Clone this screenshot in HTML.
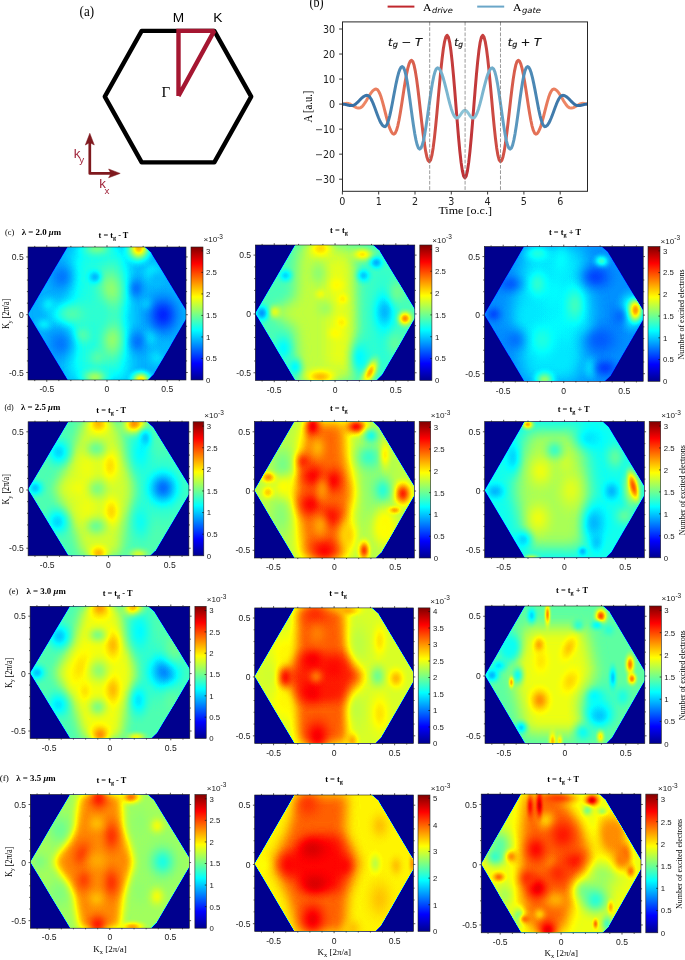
<!DOCTYPE html>
<html><head><meta charset="utf-8"><title>figure</title>
<style>html,body{margin:0;padding:0;background:#fff}svg{display:block}</style></head>
<body><svg width="685" height="960" viewBox="0 0 685 960">
<defs>
<filter id="jet" x="0" y="0" width="1" height="1" color-interpolation-filters="sRGB">
<feGaussianBlur stdDeviation="0.45"/>
<feComponentTransfer>
<feFuncR type="table" tableValues="0 0 0 0 0.5 1 1 1 0.5"/>
<feFuncG type="table" tableValues="0 0 0.5 1 1 1 0.5 0 0"/>
<feFuncB type="table" tableValues="0.56 1 1 1 0.5 0 0 0 0"/>
<feFuncA type="table" tableValues="1 1"/>
</feComponentTransfer>
</filter>
<linearGradient id="cb" x1="0" y1="1" x2="0" y2="0">
<stop offset="0" stop-color="#00008f"/><stop offset="0.125" stop-color="#0000ff"/><stop offset="0.375" stop-color="#00ffff"/>
<stop offset="0.625" stop-color="#ffff00"/><stop offset="0.875" stop-color="#ff0000"/><stop offset="1" stop-color="#800000"/>
</linearGradient>
<clipPath id="cpb"><rect x="342.5" y="21.9" width="245" height="169.4"/></clipPath>
<linearGradient id="gd" gradientUnits="userSpaceOnUse" x1="342.5" y1="0" x2="587.5" y2="0"><stop offset="0" stop-color="#f4956f"/><stop offset="0.2" stop-color="#e57458"/><stop offset="0.36" stop-color="#cf4f45"/><stop offset="0.5" stop-color="#bd3036"/><stop offset="0.64" stop-color="#cf4f45"/><stop offset="0.8" stop-color="#e57458"/><stop offset="1" stop-color="#f4956f"/></linearGradient>
<linearGradient id="gg" gradientUnits="userSpaceOnUse" x1="342.5" y1="0" x2="587.5" y2="0"><stop offset="0" stop-color="#32699f"/><stop offset="0.2" stop-color="#4783b1"/><stop offset="0.36" stop-color="#69a6c7"/><stop offset="0.5" stop-color="#8fc6d8"/><stop offset="0.64" stop-color="#69a6c7"/><stop offset="0.8" stop-color="#4783b1"/><stop offset="1" stop-color="#32699f"/></linearGradient>
<clipPath id="hxc1"><polygon points="28,314.03 67.58,246.73 144.45,246.73 150.77,252.19 188.69,314.5 153.61,374.41 147.92,380 67.66,380"/></clipPath>
<clipPath id="pnc1"><rect x="28" y="247" width="158" height="133"/></clipPath>
<filter id="b80" x="-60%" y="-60%" width="220%" height="220%" color-interpolation-filters="sRGB"><feGaussianBlur stdDeviation="8"/></filter>
<radialGradient id="r91"><stop offset="0" stop-color="#5b5b5b" stop-opacity="1"/><stop offset="0.1" stop-color="#5b5b5b" stop-opacity="0.966"/><stop offset="0.2" stop-color="#5b5b5b" stop-opacity="0.87"/><stop offset="0.3" stop-color="#5b5b5b" stop-opacity="0.73"/><stop offset="0.4" stop-color="#5b5b5b" stop-opacity="0.57"/><stop offset="0.5" stop-color="#5b5b5b" stop-opacity="0.412"/><stop offset="0.6" stop-color="#5b5b5b" stop-opacity="0.274"/><stop offset="0.7" stop-color="#5b5b5b" stop-opacity="0.164"/><stop offset="0.8" stop-color="#5b5b5b" stop-opacity="0.085"/><stop offset="0.9" stop-color="#5b5b5b" stop-opacity="0.032"/><stop offset="1" stop-color="#5b5b5b" stop-opacity="0"/></radialGradient>
<radialGradient id="r87"><stop offset="0" stop-color="#575757" stop-opacity="1"/><stop offset="0.1" stop-color="#575757" stop-opacity="0.966"/><stop offset="0.2" stop-color="#575757" stop-opacity="0.87"/><stop offset="0.3" stop-color="#575757" stop-opacity="0.73"/><stop offset="0.4" stop-color="#575757" stop-opacity="0.57"/><stop offset="0.5" stop-color="#575757" stop-opacity="0.412"/><stop offset="0.6" stop-color="#575757" stop-opacity="0.274"/><stop offset="0.7" stop-color="#575757" stop-opacity="0.164"/><stop offset="0.8" stop-color="#575757" stop-opacity="0.085"/><stop offset="0.9" stop-color="#575757" stop-opacity="0.032"/><stop offset="1" stop-color="#575757" stop-opacity="0"/></radialGradient>
<radialGradient id="r116"><stop offset="0" stop-color="#747474" stop-opacity="1"/><stop offset="0.1" stop-color="#747474" stop-opacity="0.966"/><stop offset="0.2" stop-color="#747474" stop-opacity="0.87"/><stop offset="0.3" stop-color="#747474" stop-opacity="0.73"/><stop offset="0.4" stop-color="#747474" stop-opacity="0.57"/><stop offset="0.5" stop-color="#747474" stop-opacity="0.412"/><stop offset="0.6" stop-color="#747474" stop-opacity="0.274"/><stop offset="0.7" stop-color="#747474" stop-opacity="0.164"/><stop offset="0.8" stop-color="#747474" stop-opacity="0.085"/><stop offset="0.9" stop-color="#747474" stop-opacity="0.032"/><stop offset="1" stop-color="#747474" stop-opacity="0"/></radialGradient>
<radialGradient id="r132"><stop offset="0" stop-color="#848484" stop-opacity="1"/><stop offset="0.1" stop-color="#848484" stop-opacity="0.966"/><stop offset="0.2" stop-color="#848484" stop-opacity="0.87"/><stop offset="0.3" stop-color="#848484" stop-opacity="0.73"/><stop offset="0.4" stop-color="#848484" stop-opacity="0.57"/><stop offset="0.5" stop-color="#848484" stop-opacity="0.412"/><stop offset="0.6" stop-color="#848484" stop-opacity="0.274"/><stop offset="0.7" stop-color="#848484" stop-opacity="0.164"/><stop offset="0.8" stop-color="#848484" stop-opacity="0.085"/><stop offset="0.9" stop-color="#848484" stop-opacity="0.032"/><stop offset="1" stop-color="#848484" stop-opacity="0"/></radialGradient>
<radialGradient id="r107"><stop offset="0" stop-color="#6b6b6b" stop-opacity="1"/><stop offset="0.1" stop-color="#6b6b6b" stop-opacity="0.966"/><stop offset="0.2" stop-color="#6b6b6b" stop-opacity="0.87"/><stop offset="0.3" stop-color="#6b6b6b" stop-opacity="0.73"/><stop offset="0.4" stop-color="#6b6b6b" stop-opacity="0.57"/><stop offset="0.5" stop-color="#6b6b6b" stop-opacity="0.412"/><stop offset="0.6" stop-color="#6b6b6b" stop-opacity="0.274"/><stop offset="0.7" stop-color="#6b6b6b" stop-opacity="0.164"/><stop offset="0.8" stop-color="#6b6b6b" stop-opacity="0.085"/><stop offset="0.9" stop-color="#6b6b6b" stop-opacity="0.032"/><stop offset="1" stop-color="#6b6b6b" stop-opacity="0"/></radialGradient>
<radialGradient id="r177"><stop offset="0" stop-color="#b1b1b1" stop-opacity="1"/><stop offset="0.1" stop-color="#b1b1b1" stop-opacity="0.966"/><stop offset="0.2" stop-color="#b1b1b1" stop-opacity="0.87"/><stop offset="0.3" stop-color="#b1b1b1" stop-opacity="0.73"/><stop offset="0.4" stop-color="#b1b1b1" stop-opacity="0.57"/><stop offset="0.5" stop-color="#b1b1b1" stop-opacity="0.412"/><stop offset="0.6" stop-color="#b1b1b1" stop-opacity="0.274"/><stop offset="0.7" stop-color="#b1b1b1" stop-opacity="0.164"/><stop offset="0.8" stop-color="#b1b1b1" stop-opacity="0.085"/><stop offset="0.9" stop-color="#b1b1b1" stop-opacity="0.032"/><stop offset="1" stop-color="#b1b1b1" stop-opacity="0"/></radialGradient>
<radialGradient id="r165"><stop offset="0" stop-color="#a5a5a5" stop-opacity="1"/><stop offset="0.1" stop-color="#a5a5a5" stop-opacity="0.966"/><stop offset="0.2" stop-color="#a5a5a5" stop-opacity="0.87"/><stop offset="0.3" stop-color="#a5a5a5" stop-opacity="0.73"/><stop offset="0.4" stop-color="#a5a5a5" stop-opacity="0.57"/><stop offset="0.5" stop-color="#a5a5a5" stop-opacity="0.412"/><stop offset="0.6" stop-color="#a5a5a5" stop-opacity="0.274"/><stop offset="0.7" stop-color="#a5a5a5" stop-opacity="0.164"/><stop offset="0.8" stop-color="#a5a5a5" stop-opacity="0.085"/><stop offset="0.9" stop-color="#a5a5a5" stop-opacity="0.032"/><stop offset="1" stop-color="#a5a5a5" stop-opacity="0"/></radialGradient>
<radialGradient id="r136"><stop offset="0" stop-color="#888888" stop-opacity="1"/><stop offset="0.1" stop-color="#888888" stop-opacity="0.966"/><stop offset="0.2" stop-color="#888888" stop-opacity="0.87"/><stop offset="0.3" stop-color="#888888" stop-opacity="0.73"/><stop offset="0.4" stop-color="#888888" stop-opacity="0.57"/><stop offset="0.5" stop-color="#888888" stop-opacity="0.412"/><stop offset="0.6" stop-color="#888888" stop-opacity="0.274"/><stop offset="0.7" stop-color="#888888" stop-opacity="0.164"/><stop offset="0.8" stop-color="#888888" stop-opacity="0.085"/><stop offset="0.9" stop-color="#888888" stop-opacity="0.032"/><stop offset="1" stop-color="#888888" stop-opacity="0"/></radialGradient>
<radialGradient id="r124"><stop offset="0" stop-color="#7c7c7c" stop-opacity="1"/><stop offset="0.1" stop-color="#7c7c7c" stop-opacity="0.966"/><stop offset="0.2" stop-color="#7c7c7c" stop-opacity="0.87"/><stop offset="0.3" stop-color="#7c7c7c" stop-opacity="0.73"/><stop offset="0.4" stop-color="#7c7c7c" stop-opacity="0.57"/><stop offset="0.5" stop-color="#7c7c7c" stop-opacity="0.412"/><stop offset="0.6" stop-color="#7c7c7c" stop-opacity="0.274"/><stop offset="0.7" stop-color="#7c7c7c" stop-opacity="0.164"/><stop offset="0.8" stop-color="#7c7c7c" stop-opacity="0.085"/><stop offset="0.9" stop-color="#7c7c7c" stop-opacity="0.032"/><stop offset="1" stop-color="#7c7c7c" stop-opacity="0"/></radialGradient>
<radialGradient id="r41"><stop offset="0" stop-color="#292929" stop-opacity="1"/><stop offset="0.1" stop-color="#292929" stop-opacity="0.966"/><stop offset="0.2" stop-color="#292929" stop-opacity="0.87"/><stop offset="0.3" stop-color="#292929" stop-opacity="0.73"/><stop offset="0.4" stop-color="#292929" stop-opacity="0.57"/><stop offset="0.5" stop-color="#292929" stop-opacity="0.412"/><stop offset="0.6" stop-color="#292929" stop-opacity="0.274"/><stop offset="0.7" stop-color="#292929" stop-opacity="0.164"/><stop offset="0.8" stop-color="#292929" stop-opacity="0.085"/><stop offset="0.9" stop-color="#292929" stop-opacity="0.032"/><stop offset="1" stop-color="#292929" stop-opacity="0"/></radialGradient>
<radialGradient id="r62"><stop offset="0" stop-color="#3e3e3e" stop-opacity="1"/><stop offset="0.1" stop-color="#3e3e3e" stop-opacity="0.966"/><stop offset="0.2" stop-color="#3e3e3e" stop-opacity="0.87"/><stop offset="0.3" stop-color="#3e3e3e" stop-opacity="0.73"/><stop offset="0.4" stop-color="#3e3e3e" stop-opacity="0.57"/><stop offset="0.5" stop-color="#3e3e3e" stop-opacity="0.412"/><stop offset="0.6" stop-color="#3e3e3e" stop-opacity="0.274"/><stop offset="0.7" stop-color="#3e3e3e" stop-opacity="0.164"/><stop offset="0.8" stop-color="#3e3e3e" stop-opacity="0.085"/><stop offset="0.9" stop-color="#3e3e3e" stop-opacity="0.032"/><stop offset="1" stop-color="#3e3e3e" stop-opacity="0"/></radialGradient>
<radialGradient id="r61"><stop offset="0" stop-color="#3d3d3d" stop-opacity="1"/><stop offset="0.1" stop-color="#3d3d3d" stop-opacity="0.966"/><stop offset="0.2" stop-color="#3d3d3d" stop-opacity="0.87"/><stop offset="0.3" stop-color="#3d3d3d" stop-opacity="0.73"/><stop offset="0.4" stop-color="#3d3d3d" stop-opacity="0.57"/><stop offset="0.5" stop-color="#3d3d3d" stop-opacity="0.412"/><stop offset="0.6" stop-color="#3d3d3d" stop-opacity="0.274"/><stop offset="0.7" stop-color="#3d3d3d" stop-opacity="0.164"/><stop offset="0.8" stop-color="#3d3d3d" stop-opacity="0.085"/><stop offset="0.9" stop-color="#3d3d3d" stop-opacity="0.032"/><stop offset="1" stop-color="#3d3d3d" stop-opacity="0"/></radialGradient>
<radialGradient id="r78"><stop offset="0" stop-color="#4e4e4e" stop-opacity="1"/><stop offset="0.1" stop-color="#4e4e4e" stop-opacity="0.966"/><stop offset="0.2" stop-color="#4e4e4e" stop-opacity="0.87"/><stop offset="0.3" stop-color="#4e4e4e" stop-opacity="0.73"/><stop offset="0.4" stop-color="#4e4e4e" stop-opacity="0.57"/><stop offset="0.5" stop-color="#4e4e4e" stop-opacity="0.412"/><stop offset="0.6" stop-color="#4e4e4e" stop-opacity="0.274"/><stop offset="0.7" stop-color="#4e4e4e" stop-opacity="0.164"/><stop offset="0.8" stop-color="#4e4e4e" stop-opacity="0.085"/><stop offset="0.9" stop-color="#4e4e4e" stop-opacity="0.032"/><stop offset="1" stop-color="#4e4e4e" stop-opacity="0"/></radialGradient>
<clipPath id="hxc2"><polygon points="255.3,313.24 295.25,244.73 372.85,244.73 379.23,250.28 417.51,313.72 382.1,374.71 376.36,380.4 295.33,380.4"/></clipPath>
<clipPath id="pnc2"><rect x="255.3" y="245" width="159.5" height="135.4"/></clipPath>
<filter id="b65" x="-60%" y="-60%" width="220%" height="220%" color-interpolation-filters="sRGB"><feGaussianBlur stdDeviation="6.5"/></filter>
<filter id="b60" x="-60%" y="-60%" width="220%" height="220%" color-interpolation-filters="sRGB"><feGaussianBlur stdDeviation="6"/></filter>
<radialGradient id="r160"><stop offset="0" stop-color="#a0a0a0" stop-opacity="1"/><stop offset="0.1" stop-color="#a0a0a0" stop-opacity="0.966"/><stop offset="0.2" stop-color="#a0a0a0" stop-opacity="0.87"/><stop offset="0.3" stop-color="#a0a0a0" stop-opacity="0.73"/><stop offset="0.4" stop-color="#a0a0a0" stop-opacity="0.57"/><stop offset="0.5" stop-color="#a0a0a0" stop-opacity="0.412"/><stop offset="0.6" stop-color="#a0a0a0" stop-opacity="0.274"/><stop offset="0.7" stop-color="#a0a0a0" stop-opacity="0.164"/><stop offset="0.8" stop-color="#a0a0a0" stop-opacity="0.085"/><stop offset="0.9" stop-color="#a0a0a0" stop-opacity="0.032"/><stop offset="1" stop-color="#a0a0a0" stop-opacity="0"/></radialGradient>
<radialGradient id="r163"><stop offset="0" stop-color="#a3a3a3" stop-opacity="1"/><stop offset="0.1" stop-color="#a3a3a3" stop-opacity="0.966"/><stop offset="0.2" stop-color="#a3a3a3" stop-opacity="0.87"/><stop offset="0.3" stop-color="#a3a3a3" stop-opacity="0.73"/><stop offset="0.4" stop-color="#a3a3a3" stop-opacity="0.57"/><stop offset="0.5" stop-color="#a3a3a3" stop-opacity="0.412"/><stop offset="0.6" stop-color="#a3a3a3" stop-opacity="0.274"/><stop offset="0.7" stop-color="#a3a3a3" stop-opacity="0.164"/><stop offset="0.8" stop-color="#a3a3a3" stop-opacity="0.085"/><stop offset="0.9" stop-color="#a3a3a3" stop-opacity="0.032"/><stop offset="1" stop-color="#a3a3a3" stop-opacity="0"/></radialGradient>
<radialGradient id="r156"><stop offset="0" stop-color="#9c9c9c" stop-opacity="1"/><stop offset="0.1" stop-color="#9c9c9c" stop-opacity="0.966"/><stop offset="0.2" stop-color="#9c9c9c" stop-opacity="0.87"/><stop offset="0.3" stop-color="#9c9c9c" stop-opacity="0.73"/><stop offset="0.4" stop-color="#9c9c9c" stop-opacity="0.57"/><stop offset="0.5" stop-color="#9c9c9c" stop-opacity="0.412"/><stop offset="0.6" stop-color="#9c9c9c" stop-opacity="0.274"/><stop offset="0.7" stop-color="#9c9c9c" stop-opacity="0.164"/><stop offset="0.8" stop-color="#9c9c9c" stop-opacity="0.085"/><stop offset="0.9" stop-color="#9c9c9c" stop-opacity="0.032"/><stop offset="1" stop-color="#9c9c9c" stop-opacity="0"/></radialGradient>
<radialGradient id="r103"><stop offset="0" stop-color="#676767" stop-opacity="1"/><stop offset="0.1" stop-color="#676767" stop-opacity="0.966"/><stop offset="0.2" stop-color="#676767" stop-opacity="0.87"/><stop offset="0.3" stop-color="#676767" stop-opacity="0.73"/><stop offset="0.4" stop-color="#676767" stop-opacity="0.57"/><stop offset="0.5" stop-color="#676767" stop-opacity="0.412"/><stop offset="0.6" stop-color="#676767" stop-opacity="0.274"/><stop offset="0.7" stop-color="#676767" stop-opacity="0.164"/><stop offset="0.8" stop-color="#676767" stop-opacity="0.085"/><stop offset="0.9" stop-color="#676767" stop-opacity="0.032"/><stop offset="1" stop-color="#676767" stop-opacity="0"/></radialGradient>
<radialGradient id="r169"><stop offset="0" stop-color="#a9a9a9" stop-opacity="1"/><stop offset="0.1" stop-color="#a9a9a9" stop-opacity="0.966"/><stop offset="0.2" stop-color="#a9a9a9" stop-opacity="0.87"/><stop offset="0.3" stop-color="#a9a9a9" stop-opacity="0.73"/><stop offset="0.4" stop-color="#a9a9a9" stop-opacity="0.57"/><stop offset="0.5" stop-color="#a9a9a9" stop-opacity="0.412"/><stop offset="0.6" stop-color="#a9a9a9" stop-opacity="0.274"/><stop offset="0.7" stop-color="#a9a9a9" stop-opacity="0.164"/><stop offset="0.8" stop-color="#a9a9a9" stop-opacity="0.085"/><stop offset="0.9" stop-color="#a9a9a9" stop-opacity="0.032"/><stop offset="1" stop-color="#a9a9a9" stop-opacity="0"/></radialGradient>
<radialGradient id="r197"><stop offset="0" stop-color="#c5c5c5" stop-opacity="1"/><stop offset="0.1" stop-color="#c5c5c5" stop-opacity="0.966"/><stop offset="0.2" stop-color="#c5c5c5" stop-opacity="0.87"/><stop offset="0.3" stop-color="#c5c5c5" stop-opacity="0.73"/><stop offset="0.4" stop-color="#c5c5c5" stop-opacity="0.57"/><stop offset="0.5" stop-color="#c5c5c5" stop-opacity="0.412"/><stop offset="0.6" stop-color="#c5c5c5" stop-opacity="0.274"/><stop offset="0.7" stop-color="#c5c5c5" stop-opacity="0.164"/><stop offset="0.8" stop-color="#c5c5c5" stop-opacity="0.085"/><stop offset="0.9" stop-color="#c5c5c5" stop-opacity="0.032"/><stop offset="1" stop-color="#c5c5c5" stop-opacity="0"/></radialGradient>
<radialGradient id="r189"><stop offset="0" stop-color="#bdbdbd" stop-opacity="1"/><stop offset="0.1" stop-color="#bdbdbd" stop-opacity="0.966"/><stop offset="0.2" stop-color="#bdbdbd" stop-opacity="0.87"/><stop offset="0.3" stop-color="#bdbdbd" stop-opacity="0.73"/><stop offset="0.4" stop-color="#bdbdbd" stop-opacity="0.57"/><stop offset="0.5" stop-color="#bdbdbd" stop-opacity="0.412"/><stop offset="0.6" stop-color="#bdbdbd" stop-opacity="0.274"/><stop offset="0.7" stop-color="#bdbdbd" stop-opacity="0.164"/><stop offset="0.8" stop-color="#bdbdbd" stop-opacity="0.085"/><stop offset="0.9" stop-color="#bdbdbd" stop-opacity="0.032"/><stop offset="1" stop-color="#bdbdbd" stop-opacity="0"/></radialGradient>
<radialGradient id="r152"><stop offset="0" stop-color="#989898" stop-opacity="1"/><stop offset="0.1" stop-color="#989898" stop-opacity="0.966"/><stop offset="0.2" stop-color="#989898" stop-opacity="0.87"/><stop offset="0.3" stop-color="#989898" stop-opacity="0.73"/><stop offset="0.4" stop-color="#989898" stop-opacity="0.57"/><stop offset="0.5" stop-color="#989898" stop-opacity="0.412"/><stop offset="0.6" stop-color="#989898" stop-opacity="0.274"/><stop offset="0.7" stop-color="#989898" stop-opacity="0.164"/><stop offset="0.8" stop-color="#989898" stop-opacity="0.085"/><stop offset="0.9" stop-color="#989898" stop-opacity="0.032"/><stop offset="1" stop-color="#989898" stop-opacity="0"/></radialGradient>
<radialGradient id="r70"><stop offset="0" stop-color="#464646" stop-opacity="1"/><stop offset="0.1" stop-color="#464646" stop-opacity="0.966"/><stop offset="0.2" stop-color="#464646" stop-opacity="0.87"/><stop offset="0.3" stop-color="#464646" stop-opacity="0.73"/><stop offset="0.4" stop-color="#464646" stop-opacity="0.57"/><stop offset="0.5" stop-color="#464646" stop-opacity="0.412"/><stop offset="0.6" stop-color="#464646" stop-opacity="0.274"/><stop offset="0.7" stop-color="#464646" stop-opacity="0.164"/><stop offset="0.8" stop-color="#464646" stop-opacity="0.085"/><stop offset="0.9" stop-color="#464646" stop-opacity="0.032"/><stop offset="1" stop-color="#464646" stop-opacity="0"/></radialGradient>
<radialGradient id="r76"><stop offset="0" stop-color="#4c4c4c" stop-opacity="1"/><stop offset="0.1" stop-color="#4c4c4c" stop-opacity="0.966"/><stop offset="0.2" stop-color="#4c4c4c" stop-opacity="0.87"/><stop offset="0.3" stop-color="#4c4c4c" stop-opacity="0.73"/><stop offset="0.4" stop-color="#4c4c4c" stop-opacity="0.57"/><stop offset="0.5" stop-color="#4c4c4c" stop-opacity="0.412"/><stop offset="0.6" stop-color="#4c4c4c" stop-opacity="0.274"/><stop offset="0.7" stop-color="#4c4c4c" stop-opacity="0.164"/><stop offset="0.8" stop-color="#4c4c4c" stop-opacity="0.085"/><stop offset="0.9" stop-color="#4c4c4c" stop-opacity="0.032"/><stop offset="1" stop-color="#4c4c4c" stop-opacity="0"/></radialGradient>
<radialGradient id="r82"><stop offset="0" stop-color="#525252" stop-opacity="1"/><stop offset="0.1" stop-color="#525252" stop-opacity="0.966"/><stop offset="0.2" stop-color="#525252" stop-opacity="0.87"/><stop offset="0.3" stop-color="#525252" stop-opacity="0.73"/><stop offset="0.4" stop-color="#525252" stop-opacity="0.57"/><stop offset="0.5" stop-color="#525252" stop-opacity="0.412"/><stop offset="0.6" stop-color="#525252" stop-opacity="0.274"/><stop offset="0.7" stop-color="#525252" stop-opacity="0.164"/><stop offset="0.8" stop-color="#525252" stop-opacity="0.085"/><stop offset="0.9" stop-color="#525252" stop-opacity="0.032"/><stop offset="1" stop-color="#525252" stop-opacity="0"/></radialGradient>
<radialGradient id="r86"><stop offset="0" stop-color="#565656" stop-opacity="1"/><stop offset="0.1" stop-color="#565656" stop-opacity="0.966"/><stop offset="0.2" stop-color="#565656" stop-opacity="0.87"/><stop offset="0.3" stop-color="#565656" stop-opacity="0.73"/><stop offset="0.4" stop-color="#565656" stop-opacity="0.57"/><stop offset="0.5" stop-color="#565656" stop-opacity="0.412"/><stop offset="0.6" stop-color="#565656" stop-opacity="0.274"/><stop offset="0.7" stop-color="#565656" stop-opacity="0.164"/><stop offset="0.8" stop-color="#565656" stop-opacity="0.085"/><stop offset="0.9" stop-color="#565656" stop-opacity="0.032"/><stop offset="1" stop-color="#565656" stop-opacity="0"/></radialGradient>
<radialGradient id="r95"><stop offset="0" stop-color="#5f5f5f" stop-opacity="1"/><stop offset="0.1" stop-color="#5f5f5f" stop-opacity="0.966"/><stop offset="0.2" stop-color="#5f5f5f" stop-opacity="0.87"/><stop offset="0.3" stop-color="#5f5f5f" stop-opacity="0.73"/><stop offset="0.4" stop-color="#5f5f5f" stop-opacity="0.57"/><stop offset="0.5" stop-color="#5f5f5f" stop-opacity="0.412"/><stop offset="0.6" stop-color="#5f5f5f" stop-opacity="0.274"/><stop offset="0.7" stop-color="#5f5f5f" stop-opacity="0.164"/><stop offset="0.8" stop-color="#5f5f5f" stop-opacity="0.085"/><stop offset="0.9" stop-color="#5f5f5f" stop-opacity="0.032"/><stop offset="1" stop-color="#5f5f5f" stop-opacity="0"/></radialGradient>
<radialGradient id="r123"><stop offset="0" stop-color="#7b7b7b" stop-opacity="1"/><stop offset="0.1" stop-color="#7b7b7b" stop-opacity="0.966"/><stop offset="0.2" stop-color="#7b7b7b" stop-opacity="0.87"/><stop offset="0.3" stop-color="#7b7b7b" stop-opacity="0.73"/><stop offset="0.4" stop-color="#7b7b7b" stop-opacity="0.57"/><stop offset="0.5" stop-color="#7b7b7b" stop-opacity="0.412"/><stop offset="0.6" stop-color="#7b7b7b" stop-opacity="0.274"/><stop offset="0.7" stop-color="#7b7b7b" stop-opacity="0.164"/><stop offset="0.8" stop-color="#7b7b7b" stop-opacity="0.085"/><stop offset="0.9" stop-color="#7b7b7b" stop-opacity="0.032"/><stop offset="1" stop-color="#7b7b7b" stop-opacity="0"/></radialGradient>
<radialGradient id="r119"><stop offset="0" stop-color="#777777" stop-opacity="1"/><stop offset="0.1" stop-color="#777777" stop-opacity="0.966"/><stop offset="0.2" stop-color="#777777" stop-opacity="0.87"/><stop offset="0.3" stop-color="#777777" stop-opacity="0.73"/><stop offset="0.4" stop-color="#777777" stop-opacity="0.57"/><stop offset="0.5" stop-color="#777777" stop-opacity="0.412"/><stop offset="0.6" stop-color="#777777" stop-opacity="0.274"/><stop offset="0.7" stop-color="#777777" stop-opacity="0.164"/><stop offset="0.8" stop-color="#777777" stop-opacity="0.085"/><stop offset="0.9" stop-color="#777777" stop-opacity="0.032"/><stop offset="1" stop-color="#777777" stop-opacity="0"/></radialGradient>
<clipPath id="hxc3"><polygon points="484.3,314.44 524.1,246.23 601.41,246.23 607.77,251.76 645.9,314.91 610.63,375.64 604.91,381.3 524.18,381.3"/></clipPath>
<clipPath id="pnc3"><rect x="484.3" y="246.5" width="158.9" height="134.8"/></clipPath>
<radialGradient id="r90"><stop offset="0" stop-color="#5a5a5a" stop-opacity="1"/><stop offset="0.1" stop-color="#5a5a5a" stop-opacity="0.966"/><stop offset="0.2" stop-color="#5a5a5a" stop-opacity="0.87"/><stop offset="0.3" stop-color="#5a5a5a" stop-opacity="0.73"/><stop offset="0.4" stop-color="#5a5a5a" stop-opacity="0.57"/><stop offset="0.5" stop-color="#5a5a5a" stop-opacity="0.412"/><stop offset="0.6" stop-color="#5a5a5a" stop-opacity="0.274"/><stop offset="0.7" stop-color="#5a5a5a" stop-opacity="0.164"/><stop offset="0.8" stop-color="#5a5a5a" stop-opacity="0.085"/><stop offset="0.9" stop-color="#5a5a5a" stop-opacity="0.032"/><stop offset="1" stop-color="#5a5a5a" stop-opacity="0"/></radialGradient>
<radialGradient id="r111"><stop offset="0" stop-color="#6f6f6f" stop-opacity="1"/><stop offset="0.1" stop-color="#6f6f6f" stop-opacity="0.966"/><stop offset="0.2" stop-color="#6f6f6f" stop-opacity="0.87"/><stop offset="0.3" stop-color="#6f6f6f" stop-opacity="0.73"/><stop offset="0.4" stop-color="#6f6f6f" stop-opacity="0.57"/><stop offset="0.5" stop-color="#6f6f6f" stop-opacity="0.412"/><stop offset="0.6" stop-color="#6f6f6f" stop-opacity="0.274"/><stop offset="0.7" stop-color="#6f6f6f" stop-opacity="0.164"/><stop offset="0.8" stop-color="#6f6f6f" stop-opacity="0.085"/><stop offset="0.9" stop-color="#6f6f6f" stop-opacity="0.032"/><stop offset="1" stop-color="#6f6f6f" stop-opacity="0"/></radialGradient>
<radialGradient id="r185"><stop offset="0" stop-color="#b9b9b9" stop-opacity="1"/><stop offset="0.1" stop-color="#b9b9b9" stop-opacity="0.966"/><stop offset="0.2" stop-color="#b9b9b9" stop-opacity="0.87"/><stop offset="0.3" stop-color="#b9b9b9" stop-opacity="0.73"/><stop offset="0.4" stop-color="#b9b9b9" stop-opacity="0.57"/><stop offset="0.5" stop-color="#b9b9b9" stop-opacity="0.412"/><stop offset="0.6" stop-color="#b9b9b9" stop-opacity="0.274"/><stop offset="0.7" stop-color="#b9b9b9" stop-opacity="0.164"/><stop offset="0.8" stop-color="#b9b9b9" stop-opacity="0.085"/><stop offset="0.9" stop-color="#b9b9b9" stop-opacity="0.032"/><stop offset="1" stop-color="#b9b9b9" stop-opacity="0"/></radialGradient>
<radialGradient id="r115"><stop offset="0" stop-color="#737373" stop-opacity="1"/><stop offset="0.1" stop-color="#737373" stop-opacity="0.966"/><stop offset="0.2" stop-color="#737373" stop-opacity="0.87"/><stop offset="0.3" stop-color="#737373" stop-opacity="0.73"/><stop offset="0.4" stop-color="#737373" stop-opacity="0.57"/><stop offset="0.5" stop-color="#737373" stop-opacity="0.412"/><stop offset="0.6" stop-color="#737373" stop-opacity="0.274"/><stop offset="0.7" stop-color="#737373" stop-opacity="0.164"/><stop offset="0.8" stop-color="#737373" stop-opacity="0.085"/><stop offset="0.9" stop-color="#737373" stop-opacity="0.032"/><stop offset="1" stop-color="#737373" stop-opacity="0"/></radialGradient>
<radialGradient id="r49"><stop offset="0" stop-color="#313131" stop-opacity="1"/><stop offset="0.1" stop-color="#313131" stop-opacity="0.966"/><stop offset="0.2" stop-color="#313131" stop-opacity="0.87"/><stop offset="0.3" stop-color="#313131" stop-opacity="0.73"/><stop offset="0.4" stop-color="#313131" stop-opacity="0.57"/><stop offset="0.5" stop-color="#313131" stop-opacity="0.412"/><stop offset="0.6" stop-color="#313131" stop-opacity="0.274"/><stop offset="0.7" stop-color="#313131" stop-opacity="0.164"/><stop offset="0.8" stop-color="#313131" stop-opacity="0.085"/><stop offset="0.9" stop-color="#313131" stop-opacity="0.032"/><stop offset="1" stop-color="#313131" stop-opacity="0"/></radialGradient>
<radialGradient id="r51"><stop offset="0" stop-color="#333333" stop-opacity="1"/><stop offset="0.1" stop-color="#333333" stop-opacity="0.966"/><stop offset="0.2" stop-color="#333333" stop-opacity="0.87"/><stop offset="0.3" stop-color="#333333" stop-opacity="0.73"/><stop offset="0.4" stop-color="#333333" stop-opacity="0.57"/><stop offset="0.5" stop-color="#333333" stop-opacity="0.412"/><stop offset="0.6" stop-color="#333333" stop-opacity="0.274"/><stop offset="0.7" stop-color="#333333" stop-opacity="0.164"/><stop offset="0.8" stop-color="#333333" stop-opacity="0.085"/><stop offset="0.9" stop-color="#333333" stop-opacity="0.032"/><stop offset="1" stop-color="#333333" stop-opacity="0"/></radialGradient>
<radialGradient id="r55"><stop offset="0" stop-color="#373737" stop-opacity="1"/><stop offset="0.1" stop-color="#373737" stop-opacity="0.966"/><stop offset="0.2" stop-color="#373737" stop-opacity="0.87"/><stop offset="0.3" stop-color="#373737" stop-opacity="0.73"/><stop offset="0.4" stop-color="#373737" stop-opacity="0.57"/><stop offset="0.5" stop-color="#373737" stop-opacity="0.412"/><stop offset="0.6" stop-color="#373737" stop-opacity="0.274"/><stop offset="0.7" stop-color="#373737" stop-opacity="0.164"/><stop offset="0.8" stop-color="#373737" stop-opacity="0.085"/><stop offset="0.9" stop-color="#373737" stop-opacity="0.032"/><stop offset="1" stop-color="#373737" stop-opacity="0"/></radialGradient>
<radialGradient id="r48"><stop offset="0" stop-color="#303030" stop-opacity="1"/><stop offset="0.1" stop-color="#303030" stop-opacity="0.966"/><stop offset="0.2" stop-color="#303030" stop-opacity="0.87"/><stop offset="0.3" stop-color="#303030" stop-opacity="0.73"/><stop offset="0.4" stop-color="#303030" stop-opacity="0.57"/><stop offset="0.5" stop-color="#303030" stop-opacity="0.412"/><stop offset="0.6" stop-color="#303030" stop-opacity="0.274"/><stop offset="0.7" stop-color="#303030" stop-opacity="0.164"/><stop offset="0.8" stop-color="#303030" stop-opacity="0.085"/><stop offset="0.9" stop-color="#303030" stop-opacity="0.032"/><stop offset="1" stop-color="#303030" stop-opacity="0"/></radialGradient>
<radialGradient id="r59"><stop offset="0" stop-color="#3b3b3b" stop-opacity="1"/><stop offset="0.1" stop-color="#3b3b3b" stop-opacity="0.966"/><stop offset="0.2" stop-color="#3b3b3b" stop-opacity="0.87"/><stop offset="0.3" stop-color="#3b3b3b" stop-opacity="0.73"/><stop offset="0.4" stop-color="#3b3b3b" stop-opacity="0.57"/><stop offset="0.5" stop-color="#3b3b3b" stop-opacity="0.412"/><stop offset="0.6" stop-color="#3b3b3b" stop-opacity="0.274"/><stop offset="0.7" stop-color="#3b3b3b" stop-opacity="0.164"/><stop offset="0.8" stop-color="#3b3b3b" stop-opacity="0.085"/><stop offset="0.9" stop-color="#3b3b3b" stop-opacity="0.032"/><stop offset="1" stop-color="#3b3b3b" stop-opacity="0"/></radialGradient>
<clipPath id="hxd1"><polygon points="28.1,489.34 68.38,421.53 146.61,421.53 153.04,427.03 191.63,489.8 155.94,550.17 150.15,555.8 68.46,555.8"/></clipPath>
<clipPath id="pnd1"><rect x="28.1" y="421.8" width="160.8" height="134"/></clipPath>
<radialGradient id="r155"><stop offset="0" stop-color="#9b9b9b" stop-opacity="1"/><stop offset="0.1" stop-color="#9b9b9b" stop-opacity="0.966"/><stop offset="0.2" stop-color="#9b9b9b" stop-opacity="0.87"/><stop offset="0.3" stop-color="#9b9b9b" stop-opacity="0.73"/><stop offset="0.4" stop-color="#9b9b9b" stop-opacity="0.57"/><stop offset="0.5" stop-color="#9b9b9b" stop-opacity="0.412"/><stop offset="0.6" stop-color="#9b9b9b" stop-opacity="0.274"/><stop offset="0.7" stop-color="#9b9b9b" stop-opacity="0.164"/><stop offset="0.8" stop-color="#9b9b9b" stop-opacity="0.085"/><stop offset="0.9" stop-color="#9b9b9b" stop-opacity="0.032"/><stop offset="1" stop-color="#9b9b9b" stop-opacity="0"/></radialGradient>
<radialGradient id="r167"><stop offset="0" stop-color="#a7a7a7" stop-opacity="1"/><stop offset="0.1" stop-color="#a7a7a7" stop-opacity="0.966"/><stop offset="0.2" stop-color="#a7a7a7" stop-opacity="0.87"/><stop offset="0.3" stop-color="#a7a7a7" stop-opacity="0.73"/><stop offset="0.4" stop-color="#a7a7a7" stop-opacity="0.57"/><stop offset="0.5" stop-color="#a7a7a7" stop-opacity="0.412"/><stop offset="0.6" stop-color="#a7a7a7" stop-opacity="0.274"/><stop offset="0.7" stop-color="#a7a7a7" stop-opacity="0.164"/><stop offset="0.8" stop-color="#a7a7a7" stop-opacity="0.085"/><stop offset="0.9" stop-color="#a7a7a7" stop-opacity="0.032"/><stop offset="1" stop-color="#a7a7a7" stop-opacity="0"/></radialGradient>
<radialGradient id="r128"><stop offset="0" stop-color="#808080" stop-opacity="1"/><stop offset="0.1" stop-color="#808080" stop-opacity="0.966"/><stop offset="0.2" stop-color="#808080" stop-opacity="0.87"/><stop offset="0.3" stop-color="#808080" stop-opacity="0.73"/><stop offset="0.4" stop-color="#808080" stop-opacity="0.57"/><stop offset="0.5" stop-color="#808080" stop-opacity="0.412"/><stop offset="0.6" stop-color="#808080" stop-opacity="0.274"/><stop offset="0.7" stop-color="#808080" stop-opacity="0.164"/><stop offset="0.8" stop-color="#808080" stop-opacity="0.085"/><stop offset="0.9" stop-color="#808080" stop-opacity="0.032"/><stop offset="1" stop-color="#808080" stop-opacity="0"/></radialGradient>
<radialGradient id="r193"><stop offset="0" stop-color="#c1c1c1" stop-opacity="1"/><stop offset="0.1" stop-color="#c1c1c1" stop-opacity="0.966"/><stop offset="0.2" stop-color="#c1c1c1" stop-opacity="0.87"/><stop offset="0.3" stop-color="#c1c1c1" stop-opacity="0.73"/><stop offset="0.4" stop-color="#c1c1c1" stop-opacity="0.57"/><stop offset="0.5" stop-color="#c1c1c1" stop-opacity="0.412"/><stop offset="0.6" stop-color="#c1c1c1" stop-opacity="0.274"/><stop offset="0.7" stop-color="#c1c1c1" stop-opacity="0.164"/><stop offset="0.8" stop-color="#c1c1c1" stop-opacity="0.085"/><stop offset="0.9" stop-color="#c1c1c1" stop-opacity="0.032"/><stop offset="1" stop-color="#c1c1c1" stop-opacity="0"/></radialGradient>
<radialGradient id="r148"><stop offset="0" stop-color="#949494" stop-opacity="1"/><stop offset="0.1" stop-color="#949494" stop-opacity="0.966"/><stop offset="0.2" stop-color="#949494" stop-opacity="0.87"/><stop offset="0.3" stop-color="#949494" stop-opacity="0.73"/><stop offset="0.4" stop-color="#949494" stop-opacity="0.57"/><stop offset="0.5" stop-color="#949494" stop-opacity="0.412"/><stop offset="0.6" stop-color="#949494" stop-opacity="0.274"/><stop offset="0.7" stop-color="#949494" stop-opacity="0.164"/><stop offset="0.8" stop-color="#949494" stop-opacity="0.085"/><stop offset="0.9" stop-color="#949494" stop-opacity="0.032"/><stop offset="1" stop-color="#949494" stop-opacity="0"/></radialGradient>
<radialGradient id="r99"><stop offset="0" stop-color="#636363" stop-opacity="1"/><stop offset="0.1" stop-color="#636363" stop-opacity="0.966"/><stop offset="0.2" stop-color="#636363" stop-opacity="0.87"/><stop offset="0.3" stop-color="#636363" stop-opacity="0.73"/><stop offset="0.4" stop-color="#636363" stop-opacity="0.57"/><stop offset="0.5" stop-color="#636363" stop-opacity="0.412"/><stop offset="0.6" stop-color="#636363" stop-opacity="0.274"/><stop offset="0.7" stop-color="#636363" stop-opacity="0.164"/><stop offset="0.8" stop-color="#636363" stop-opacity="0.085"/><stop offset="0.9" stop-color="#636363" stop-opacity="0.032"/><stop offset="1" stop-color="#636363" stop-opacity="0"/></radialGradient>
<clipPath id="hxd2"><polygon points="254.4,490.35 294.45,421.33 372.25,421.33 378.64,426.92 417.02,490.82 381.52,552.27 375.76,558 294.53,558"/></clipPath>
<clipPath id="pnd2"><rect x="254.4" y="421.6" width="159.9" height="136.4"/></clipPath>
<radialGradient id="r222"><stop offset="0" stop-color="#dedede" stop-opacity="1"/><stop offset="0.1" stop-color="#dedede" stop-opacity="0.966"/><stop offset="0.2" stop-color="#dedede" stop-opacity="0.87"/><stop offset="0.3" stop-color="#dedede" stop-opacity="0.73"/><stop offset="0.4" stop-color="#dedede" stop-opacity="0.57"/><stop offset="0.5" stop-color="#dedede" stop-opacity="0.412"/><stop offset="0.6" stop-color="#dedede" stop-opacity="0.274"/><stop offset="0.7" stop-color="#dedede" stop-opacity="0.164"/><stop offset="0.8" stop-color="#dedede" stop-opacity="0.085"/><stop offset="0.9" stop-color="#dedede" stop-opacity="0.032"/><stop offset="1" stop-color="#dedede" stop-opacity="0"/></radialGradient>
<radialGradient id="r218"><stop offset="0" stop-color="#dadada" stop-opacity="1"/><stop offset="0.1" stop-color="#dadada" stop-opacity="0.966"/><stop offset="0.2" stop-color="#dadada" stop-opacity="0.87"/><stop offset="0.3" stop-color="#dadada" stop-opacity="0.73"/><stop offset="0.4" stop-color="#dadada" stop-opacity="0.57"/><stop offset="0.5" stop-color="#dadada" stop-opacity="0.412"/><stop offset="0.6" stop-color="#dadada" stop-opacity="0.274"/><stop offset="0.7" stop-color="#dadada" stop-opacity="0.164"/><stop offset="0.8" stop-color="#dadada" stop-opacity="0.085"/><stop offset="0.9" stop-color="#dadada" stop-opacity="0.032"/><stop offset="1" stop-color="#dadada" stop-opacity="0"/></radialGradient>
<radialGradient id="r226"><stop offset="0" stop-color="#e2e2e2" stop-opacity="1"/><stop offset="0.1" stop-color="#e2e2e2" stop-opacity="0.966"/><stop offset="0.2" stop-color="#e2e2e2" stop-opacity="0.87"/><stop offset="0.3" stop-color="#e2e2e2" stop-opacity="0.73"/><stop offset="0.4" stop-color="#e2e2e2" stop-opacity="0.57"/><stop offset="0.5" stop-color="#e2e2e2" stop-opacity="0.412"/><stop offset="0.6" stop-color="#e2e2e2" stop-opacity="0.274"/><stop offset="0.7" stop-color="#e2e2e2" stop-opacity="0.164"/><stop offset="0.8" stop-color="#e2e2e2" stop-opacity="0.085"/><stop offset="0.9" stop-color="#e2e2e2" stop-opacity="0.032"/><stop offset="1" stop-color="#e2e2e2" stop-opacity="0"/></radialGradient>
<radialGradient id="r232"><stop offset="0" stop-color="#e8e8e8" stop-opacity="1"/><stop offset="0.1" stop-color="#e8e8e8" stop-opacity="0.966"/><stop offset="0.2" stop-color="#e8e8e8" stop-opacity="0.87"/><stop offset="0.3" stop-color="#e8e8e8" stop-opacity="0.73"/><stop offset="0.4" stop-color="#e8e8e8" stop-opacity="0.57"/><stop offset="0.5" stop-color="#e8e8e8" stop-opacity="0.412"/><stop offset="0.6" stop-color="#e8e8e8" stop-opacity="0.274"/><stop offset="0.7" stop-color="#e8e8e8" stop-opacity="0.164"/><stop offset="0.8" stop-color="#e8e8e8" stop-opacity="0.085"/><stop offset="0.9" stop-color="#e8e8e8" stop-opacity="0.032"/><stop offset="1" stop-color="#e8e8e8" stop-opacity="0"/></radialGradient>
<radialGradient id="r212"><stop offset="0" stop-color="#d4d4d4" stop-opacity="1"/><stop offset="0.1" stop-color="#d4d4d4" stop-opacity="0.966"/><stop offset="0.2" stop-color="#d4d4d4" stop-opacity="0.87"/><stop offset="0.3" stop-color="#d4d4d4" stop-opacity="0.73"/><stop offset="0.4" stop-color="#d4d4d4" stop-opacity="0.57"/><stop offset="0.5" stop-color="#d4d4d4" stop-opacity="0.412"/><stop offset="0.6" stop-color="#d4d4d4" stop-opacity="0.274"/><stop offset="0.7" stop-color="#d4d4d4" stop-opacity="0.164"/><stop offset="0.8" stop-color="#d4d4d4" stop-opacity="0.085"/><stop offset="0.9" stop-color="#d4d4d4" stop-opacity="0.032"/><stop offset="1" stop-color="#d4d4d4" stop-opacity="0"/></radialGradient>
<radialGradient id="r187"><stop offset="0" stop-color="#bbbbbb" stop-opacity="1"/><stop offset="0.1" stop-color="#bbbbbb" stop-opacity="0.966"/><stop offset="0.2" stop-color="#bbbbbb" stop-opacity="0.87"/><stop offset="0.3" stop-color="#bbbbbb" stop-opacity="0.73"/><stop offset="0.4" stop-color="#bbbbbb" stop-opacity="0.57"/><stop offset="0.5" stop-color="#bbbbbb" stop-opacity="0.412"/><stop offset="0.6" stop-color="#bbbbbb" stop-opacity="0.274"/><stop offset="0.7" stop-color="#bbbbbb" stop-opacity="0.164"/><stop offset="0.8" stop-color="#bbbbbb" stop-opacity="0.085"/><stop offset="0.9" stop-color="#bbbbbb" stop-opacity="0.032"/><stop offset="1" stop-color="#bbbbbb" stop-opacity="0"/></radialGradient>
<radialGradient id="r179"><stop offset="0" stop-color="#b3b3b3" stop-opacity="1"/><stop offset="0.1" stop-color="#b3b3b3" stop-opacity="0.966"/><stop offset="0.2" stop-color="#b3b3b3" stop-opacity="0.87"/><stop offset="0.3" stop-color="#b3b3b3" stop-opacity="0.73"/><stop offset="0.4" stop-color="#b3b3b3" stop-opacity="0.57"/><stop offset="0.5" stop-color="#b3b3b3" stop-opacity="0.412"/><stop offset="0.6" stop-color="#b3b3b3" stop-opacity="0.274"/><stop offset="0.7" stop-color="#b3b3b3" stop-opacity="0.164"/><stop offset="0.8" stop-color="#b3b3b3" stop-opacity="0.085"/><stop offset="0.9" stop-color="#b3b3b3" stop-opacity="0.032"/><stop offset="1" stop-color="#b3b3b3" stop-opacity="0"/></radialGradient>
<radialGradient id="r183"><stop offset="0" stop-color="#b7b7b7" stop-opacity="1"/><stop offset="0.1" stop-color="#b7b7b7" stop-opacity="0.966"/><stop offset="0.2" stop-color="#b7b7b7" stop-opacity="0.87"/><stop offset="0.3" stop-color="#b7b7b7" stop-opacity="0.73"/><stop offset="0.4" stop-color="#b7b7b7" stop-opacity="0.57"/><stop offset="0.5" stop-color="#b7b7b7" stop-opacity="0.412"/><stop offset="0.6" stop-color="#b7b7b7" stop-opacity="0.274"/><stop offset="0.7" stop-color="#b7b7b7" stop-opacity="0.164"/><stop offset="0.8" stop-color="#b7b7b7" stop-opacity="0.085"/><stop offset="0.9" stop-color="#b7b7b7" stop-opacity="0.032"/><stop offset="1" stop-color="#b7b7b7" stop-opacity="0"/></radialGradient>
<radialGradient id="r216"><stop offset="0" stop-color="#d8d8d8" stop-opacity="1"/><stop offset="0.1" stop-color="#d8d8d8" stop-opacity="0.966"/><stop offset="0.2" stop-color="#d8d8d8" stop-opacity="0.87"/><stop offset="0.3" stop-color="#d8d8d8" stop-opacity="0.73"/><stop offset="0.4" stop-color="#d8d8d8" stop-opacity="0.57"/><stop offset="0.5" stop-color="#d8d8d8" stop-opacity="0.412"/><stop offset="0.6" stop-color="#d8d8d8" stop-opacity="0.274"/><stop offset="0.7" stop-color="#d8d8d8" stop-opacity="0.164"/><stop offset="0.8" stop-color="#d8d8d8" stop-opacity="0.085"/><stop offset="0.9" stop-color="#d8d8d8" stop-opacity="0.032"/><stop offset="1" stop-color="#d8d8d8" stop-opacity="0"/></radialGradient>
<radialGradient id="r196"><stop offset="0" stop-color="#c4c4c4" stop-opacity="1"/><stop offset="0.1" stop-color="#c4c4c4" stop-opacity="0.966"/><stop offset="0.2" stop-color="#c4c4c4" stop-opacity="0.87"/><stop offset="0.3" stop-color="#c4c4c4" stop-opacity="0.73"/><stop offset="0.4" stop-color="#c4c4c4" stop-opacity="0.57"/><stop offset="0.5" stop-color="#c4c4c4" stop-opacity="0.412"/><stop offset="0.6" stop-color="#c4c4c4" stop-opacity="0.274"/><stop offset="0.7" stop-color="#c4c4c4" stop-opacity="0.164"/><stop offset="0.8" stop-color="#c4c4c4" stop-opacity="0.085"/><stop offset="0.9" stop-color="#c4c4c4" stop-opacity="0.032"/><stop offset="1" stop-color="#c4c4c4" stop-opacity="0"/></radialGradient>
<radialGradient id="r175"><stop offset="0" stop-color="#afafaf" stop-opacity="1"/><stop offset="0.1" stop-color="#afafaf" stop-opacity="0.966"/><stop offset="0.2" stop-color="#afafaf" stop-opacity="0.87"/><stop offset="0.3" stop-color="#afafaf" stop-opacity="0.73"/><stop offset="0.4" stop-color="#afafaf" stop-opacity="0.57"/><stop offset="0.5" stop-color="#afafaf" stop-opacity="0.412"/><stop offset="0.6" stop-color="#afafaf" stop-opacity="0.274"/><stop offset="0.7" stop-color="#afafaf" stop-opacity="0.164"/><stop offset="0.8" stop-color="#afafaf" stop-opacity="0.085"/><stop offset="0.9" stop-color="#afafaf" stop-opacity="0.032"/><stop offset="1" stop-color="#afafaf" stop-opacity="0"/></radialGradient>
<radialGradient id="r130"><stop offset="0" stop-color="#828282" stop-opacity="1"/><stop offset="0.1" stop-color="#828282" stop-opacity="0.966"/><stop offset="0.2" stop-color="#828282" stop-opacity="0.87"/><stop offset="0.3" stop-color="#828282" stop-opacity="0.73"/><stop offset="0.4" stop-color="#828282" stop-opacity="0.57"/><stop offset="0.5" stop-color="#828282" stop-opacity="0.412"/><stop offset="0.6" stop-color="#828282" stop-opacity="0.274"/><stop offset="0.7" stop-color="#828282" stop-opacity="0.164"/><stop offset="0.8" stop-color="#828282" stop-opacity="0.085"/><stop offset="0.9" stop-color="#828282" stop-opacity="0.032"/><stop offset="1" stop-color="#828282" stop-opacity="0"/></radialGradient>
<radialGradient id="r106"><stop offset="0" stop-color="#6a6a6a" stop-opacity="1"/><stop offset="0.1" stop-color="#6a6a6a" stop-opacity="0.966"/><stop offset="0.2" stop-color="#6a6a6a" stop-opacity="0.87"/><stop offset="0.3" stop-color="#6a6a6a" stop-opacity="0.73"/><stop offset="0.4" stop-color="#6a6a6a" stop-opacity="0.57"/><stop offset="0.5" stop-color="#6a6a6a" stop-opacity="0.412"/><stop offset="0.6" stop-color="#6a6a6a" stop-opacity="0.274"/><stop offset="0.7" stop-color="#6a6a6a" stop-opacity="0.164"/><stop offset="0.8" stop-color="#6a6a6a" stop-opacity="0.085"/><stop offset="0.9" stop-color="#6a6a6a" stop-opacity="0.032"/><stop offset="1" stop-color="#6a6a6a" stop-opacity="0"/></radialGradient>
<radialGradient id="r110"><stop offset="0" stop-color="#6e6e6e" stop-opacity="1"/><stop offset="0.1" stop-color="#6e6e6e" stop-opacity="0.966"/><stop offset="0.2" stop-color="#6e6e6e" stop-opacity="0.87"/><stop offset="0.3" stop-color="#6e6e6e" stop-opacity="0.73"/><stop offset="0.4" stop-color="#6e6e6e" stop-opacity="0.57"/><stop offset="0.5" stop-color="#6e6e6e" stop-opacity="0.412"/><stop offset="0.6" stop-color="#6e6e6e" stop-opacity="0.274"/><stop offset="0.7" stop-color="#6e6e6e" stop-opacity="0.164"/><stop offset="0.8" stop-color="#6e6e6e" stop-opacity="0.085"/><stop offset="0.9" stop-color="#6e6e6e" stop-opacity="0.032"/><stop offset="1" stop-color="#6e6e6e" stop-opacity="0"/></radialGradient>
<radialGradient id="r102"><stop offset="0" stop-color="#666666" stop-opacity="1"/><stop offset="0.1" stop-color="#666666" stop-opacity="0.966"/><stop offset="0.2" stop-color="#666666" stop-opacity="0.87"/><stop offset="0.3" stop-color="#666666" stop-opacity="0.73"/><stop offset="0.4" stop-color="#666666" stop-opacity="0.57"/><stop offset="0.5" stop-color="#666666" stop-opacity="0.412"/><stop offset="0.6" stop-color="#666666" stop-opacity="0.274"/><stop offset="0.7" stop-color="#666666" stop-opacity="0.164"/><stop offset="0.8" stop-color="#666666" stop-opacity="0.085"/><stop offset="0.9" stop-color="#666666" stop-opacity="0.032"/><stop offset="1" stop-color="#666666" stop-opacity="0"/></radialGradient>
<radialGradient id="r208"><stop offset="0" stop-color="#d0d0d0" stop-opacity="1"/><stop offset="0.1" stop-color="#d0d0d0" stop-opacity="0.966"/><stop offset="0.2" stop-color="#d0d0d0" stop-opacity="0.87"/><stop offset="0.3" stop-color="#d0d0d0" stop-opacity="0.73"/><stop offset="0.4" stop-color="#d0d0d0" stop-opacity="0.57"/><stop offset="0.5" stop-color="#d0d0d0" stop-opacity="0.412"/><stop offset="0.6" stop-color="#d0d0d0" stop-opacity="0.274"/><stop offset="0.7" stop-color="#d0d0d0" stop-opacity="0.164"/><stop offset="0.8" stop-color="#d0d0d0" stop-opacity="0.085"/><stop offset="0.9" stop-color="#d0d0d0" stop-opacity="0.032"/><stop offset="1" stop-color="#d0d0d0" stop-opacity="0"/></radialGradient>
<radialGradient id="r126"><stop offset="0" stop-color="#7e7e7e" stop-opacity="1"/><stop offset="0.1" stop-color="#7e7e7e" stop-opacity="0.966"/><stop offset="0.2" stop-color="#7e7e7e" stop-opacity="0.87"/><stop offset="0.3" stop-color="#7e7e7e" stop-opacity="0.73"/><stop offset="0.4" stop-color="#7e7e7e" stop-opacity="0.57"/><stop offset="0.5" stop-color="#7e7e7e" stop-opacity="0.412"/><stop offset="0.6" stop-color="#7e7e7e" stop-opacity="0.274"/><stop offset="0.7" stop-color="#7e7e7e" stop-opacity="0.164"/><stop offset="0.8" stop-color="#7e7e7e" stop-opacity="0.085"/><stop offset="0.9" stop-color="#7e7e7e" stop-opacity="0.032"/><stop offset="1" stop-color="#7e7e7e" stop-opacity="0"/></radialGradient>
<radialGradient id="r159"><stop offset="0" stop-color="#9f9f9f" stop-opacity="1"/><stop offset="0.1" stop-color="#9f9f9f" stop-opacity="0.966"/><stop offset="0.2" stop-color="#9f9f9f" stop-opacity="0.87"/><stop offset="0.3" stop-color="#9f9f9f" stop-opacity="0.73"/><stop offset="0.4" stop-color="#9f9f9f" stop-opacity="0.57"/><stop offset="0.5" stop-color="#9f9f9f" stop-opacity="0.412"/><stop offset="0.6" stop-color="#9f9f9f" stop-opacity="0.274"/><stop offset="0.7" stop-color="#9f9f9f" stop-opacity="0.164"/><stop offset="0.8" stop-color="#9f9f9f" stop-opacity="0.085"/><stop offset="0.9" stop-color="#9f9f9f" stop-opacity="0.032"/><stop offset="1" stop-color="#9f9f9f" stop-opacity="0"/></radialGradient>
<radialGradient id="r171"><stop offset="0" stop-color="#ababab" stop-opacity="1"/><stop offset="0.1" stop-color="#ababab" stop-opacity="0.966"/><stop offset="0.2" stop-color="#ababab" stop-opacity="0.87"/><stop offset="0.3" stop-color="#ababab" stop-opacity="0.73"/><stop offset="0.4" stop-color="#ababab" stop-opacity="0.57"/><stop offset="0.5" stop-color="#ababab" stop-opacity="0.412"/><stop offset="0.6" stop-color="#ababab" stop-opacity="0.274"/><stop offset="0.7" stop-color="#ababab" stop-opacity="0.164"/><stop offset="0.8" stop-color="#ababab" stop-opacity="0.085"/><stop offset="0.9" stop-color="#ababab" stop-opacity="0.032"/><stop offset="1" stop-color="#ababab" stop-opacity="0"/></radialGradient>
<clipPath id="hxd3"><polygon points="484.7,490.24 524.68,421.33 602.33,421.33 608.71,426.91 647.01,490.72 611.58,552.08 605.84,557.8 524.76,557.8"/></clipPath>
<clipPath id="pnd3"><rect x="484.7" y="421.6" width="159.6" height="136.2"/></clipPath>
<filter id="b75" x="-60%" y="-60%" width="220%" height="220%" color-interpolation-filters="sRGB"><feGaussianBlur stdDeviation="7.5"/></filter>
<radialGradient id="r146"><stop offset="0" stop-color="#929292" stop-opacity="1"/><stop offset="0.1" stop-color="#929292" stop-opacity="0.966"/><stop offset="0.2" stop-color="#929292" stop-opacity="0.87"/><stop offset="0.3" stop-color="#929292" stop-opacity="0.73"/><stop offset="0.4" stop-color="#929292" stop-opacity="0.57"/><stop offset="0.5" stop-color="#929292" stop-opacity="0.412"/><stop offset="0.6" stop-color="#929292" stop-opacity="0.274"/><stop offset="0.7" stop-color="#929292" stop-opacity="0.164"/><stop offset="0.8" stop-color="#929292" stop-opacity="0.085"/><stop offset="0.9" stop-color="#929292" stop-opacity="0.032"/><stop offset="1" stop-color="#929292" stop-opacity="0"/></radialGradient>
<radialGradient id="r202"><stop offset="0" stop-color="#cacaca" stop-opacity="1"/><stop offset="0.1" stop-color="#cacaca" stop-opacity="0.966"/><stop offset="0.2" stop-color="#cacaca" stop-opacity="0.87"/><stop offset="0.3" stop-color="#cacaca" stop-opacity="0.73"/><stop offset="0.4" stop-color="#cacaca" stop-opacity="0.57"/><stop offset="0.5" stop-color="#cacaca" stop-opacity="0.412"/><stop offset="0.6" stop-color="#cacaca" stop-opacity="0.274"/><stop offset="0.7" stop-color="#cacaca" stop-opacity="0.164"/><stop offset="0.8" stop-color="#cacaca" stop-opacity="0.085"/><stop offset="0.9" stop-color="#cacaca" stop-opacity="0.032"/><stop offset="1" stop-color="#cacaca" stop-opacity="0"/></radialGradient>
<radialGradient id="r181"><stop offset="0" stop-color="#b5b5b5" stop-opacity="1"/><stop offset="0.1" stop-color="#b5b5b5" stop-opacity="0.966"/><stop offset="0.2" stop-color="#b5b5b5" stop-opacity="0.87"/><stop offset="0.3" stop-color="#b5b5b5" stop-opacity="0.73"/><stop offset="0.4" stop-color="#b5b5b5" stop-opacity="0.57"/><stop offset="0.5" stop-color="#b5b5b5" stop-opacity="0.412"/><stop offset="0.6" stop-color="#b5b5b5" stop-opacity="0.274"/><stop offset="0.7" stop-color="#b5b5b5" stop-opacity="0.164"/><stop offset="0.8" stop-color="#b5b5b5" stop-opacity="0.085"/><stop offset="0.9" stop-color="#b5b5b5" stop-opacity="0.032"/><stop offset="1" stop-color="#b5b5b5" stop-opacity="0"/></radialGradient>
<clipPath id="hxe1"><polygon points="30.1,672.93 70.1,606.04 147.8,606.04 154.19,611.46 192.51,673.39 157.06,732.95 151.31,738.5 70.18,738.5"/></clipPath>
<clipPath id="pne1"><rect x="30.1" y="606.3" width="159.7" height="132.2"/></clipPath>
<radialGradient id="r176"><stop offset="0" stop-color="#b0b0b0" stop-opacity="1"/><stop offset="0.1" stop-color="#b0b0b0" stop-opacity="0.966"/><stop offset="0.2" stop-color="#b0b0b0" stop-opacity="0.87"/><stop offset="0.3" stop-color="#b0b0b0" stop-opacity="0.73"/><stop offset="0.4" stop-color="#b0b0b0" stop-opacity="0.57"/><stop offset="0.5" stop-color="#b0b0b0" stop-opacity="0.412"/><stop offset="0.6" stop-color="#b0b0b0" stop-opacity="0.274"/><stop offset="0.7" stop-color="#b0b0b0" stop-opacity="0.164"/><stop offset="0.8" stop-color="#b0b0b0" stop-opacity="0.085"/><stop offset="0.9" stop-color="#b0b0b0" stop-opacity="0.032"/><stop offset="1" stop-color="#b0b0b0" stop-opacity="0"/></radialGradient>
<radialGradient id="r166"><stop offset="0" stop-color="#a6a6a6" stop-opacity="1"/><stop offset="0.1" stop-color="#a6a6a6" stop-opacity="0.966"/><stop offset="0.2" stop-color="#a6a6a6" stop-opacity="0.87"/><stop offset="0.3" stop-color="#a6a6a6" stop-opacity="0.73"/><stop offset="0.4" stop-color="#a6a6a6" stop-opacity="0.57"/><stop offset="0.5" stop-color="#a6a6a6" stop-opacity="0.412"/><stop offset="0.6" stop-color="#a6a6a6" stop-opacity="0.274"/><stop offset="0.7" stop-color="#a6a6a6" stop-opacity="0.164"/><stop offset="0.8" stop-color="#a6a6a6" stop-opacity="0.085"/><stop offset="0.9" stop-color="#a6a6a6" stop-opacity="0.032"/><stop offset="1" stop-color="#a6a6a6" stop-opacity="0"/></radialGradient>
<radialGradient id="r188"><stop offset="0" stop-color="#bcbcbc" stop-opacity="1"/><stop offset="0.1" stop-color="#bcbcbc" stop-opacity="0.966"/><stop offset="0.2" stop-color="#bcbcbc" stop-opacity="0.87"/><stop offset="0.3" stop-color="#bcbcbc" stop-opacity="0.73"/><stop offset="0.4" stop-color="#bcbcbc" stop-opacity="0.57"/><stop offset="0.5" stop-color="#bcbcbc" stop-opacity="0.412"/><stop offset="0.6" stop-color="#bcbcbc" stop-opacity="0.274"/><stop offset="0.7" stop-color="#bcbcbc" stop-opacity="0.164"/><stop offset="0.8" stop-color="#bcbcbc" stop-opacity="0.085"/><stop offset="0.9" stop-color="#bcbcbc" stop-opacity="0.032"/><stop offset="1" stop-color="#bcbcbc" stop-opacity="0"/></radialGradient>
<radialGradient id="r66"><stop offset="0" stop-color="#424242" stop-opacity="1"/><stop offset="0.1" stop-color="#424242" stop-opacity="0.966"/><stop offset="0.2" stop-color="#424242" stop-opacity="0.87"/><stop offset="0.3" stop-color="#424242" stop-opacity="0.73"/><stop offset="0.4" stop-color="#424242" stop-opacity="0.57"/><stop offset="0.5" stop-color="#424242" stop-opacity="0.412"/><stop offset="0.6" stop-color="#424242" stop-opacity="0.274"/><stop offset="0.7" stop-color="#424242" stop-opacity="0.164"/><stop offset="0.8" stop-color="#424242" stop-opacity="0.085"/><stop offset="0.9" stop-color="#424242" stop-opacity="0.032"/><stop offset="1" stop-color="#424242" stop-opacity="0"/></radialGradient>
<clipPath id="hxe2"><polygon points="254.7,676.24 294.48,607.63 371.74,607.63 378.09,613.19 416.2,676.72 380.95,737.8 375.23,743.5 294.56,743.5"/></clipPath>
<clipPath id="pne2"><rect x="254.7" y="607.9" width="158.8" height="135.6"/></clipPath>
<filter id="b55" x="-60%" y="-60%" width="220%" height="220%" color-interpolation-filters="sRGB"><feGaussianBlur stdDeviation="5.5"/></filter>
<radialGradient id="r161"><stop offset="0" stop-color="#a1a1a1" stop-opacity="1"/><stop offset="0.1" stop-color="#a1a1a1" stop-opacity="0.966"/><stop offset="0.2" stop-color="#a1a1a1" stop-opacity="0.87"/><stop offset="0.3" stop-color="#a1a1a1" stop-opacity="0.73"/><stop offset="0.4" stop-color="#a1a1a1" stop-opacity="0.57"/><stop offset="0.5" stop-color="#a1a1a1" stop-opacity="0.412"/><stop offset="0.6" stop-color="#a1a1a1" stop-opacity="0.274"/><stop offset="0.7" stop-color="#a1a1a1" stop-opacity="0.164"/><stop offset="0.8" stop-color="#a1a1a1" stop-opacity="0.085"/><stop offset="0.9" stop-color="#a1a1a1" stop-opacity="0.032"/><stop offset="1" stop-color="#a1a1a1" stop-opacity="0"/></radialGradient>
<radialGradient id="r225"><stop offset="0" stop-color="#e1e1e1" stop-opacity="1"/><stop offset="0.1" stop-color="#e1e1e1" stop-opacity="0.966"/><stop offset="0.2" stop-color="#e1e1e1" stop-opacity="0.87"/><stop offset="0.3" stop-color="#e1e1e1" stop-opacity="0.73"/><stop offset="0.4" stop-color="#e1e1e1" stop-opacity="0.57"/><stop offset="0.5" stop-color="#e1e1e1" stop-opacity="0.412"/><stop offset="0.6" stop-color="#e1e1e1" stop-opacity="0.274"/><stop offset="0.7" stop-color="#e1e1e1" stop-opacity="0.164"/><stop offset="0.8" stop-color="#e1e1e1" stop-opacity="0.085"/><stop offset="0.9" stop-color="#e1e1e1" stop-opacity="0.032"/><stop offset="1" stop-color="#e1e1e1" stop-opacity="0"/></radialGradient>
<radialGradient id="r221"><stop offset="0" stop-color="#dddddd" stop-opacity="1"/><stop offset="0.1" stop-color="#dddddd" stop-opacity="0.966"/><stop offset="0.2" stop-color="#dddddd" stop-opacity="0.87"/><stop offset="0.3" stop-color="#dddddd" stop-opacity="0.73"/><stop offset="0.4" stop-color="#dddddd" stop-opacity="0.57"/><stop offset="0.5" stop-color="#dddddd" stop-opacity="0.412"/><stop offset="0.6" stop-color="#dddddd" stop-opacity="0.274"/><stop offset="0.7" stop-color="#dddddd" stop-opacity="0.164"/><stop offset="0.8" stop-color="#dddddd" stop-opacity="0.085"/><stop offset="0.9" stop-color="#dddddd" stop-opacity="0.032"/><stop offset="1" stop-color="#dddddd" stop-opacity="0"/></radialGradient>
<radialGradient id="r220"><stop offset="0" stop-color="#dcdcdc" stop-opacity="1"/><stop offset="0.1" stop-color="#dcdcdc" stop-opacity="0.966"/><stop offset="0.2" stop-color="#dcdcdc" stop-opacity="0.87"/><stop offset="0.3" stop-color="#dcdcdc" stop-opacity="0.73"/><stop offset="0.4" stop-color="#dcdcdc" stop-opacity="0.57"/><stop offset="0.5" stop-color="#dcdcdc" stop-opacity="0.412"/><stop offset="0.6" stop-color="#dcdcdc" stop-opacity="0.274"/><stop offset="0.7" stop-color="#dcdcdc" stop-opacity="0.164"/><stop offset="0.8" stop-color="#dcdcdc" stop-opacity="0.085"/><stop offset="0.9" stop-color="#dcdcdc" stop-opacity="0.032"/><stop offset="1" stop-color="#dcdcdc" stop-opacity="0"/></radialGradient>
<radialGradient id="r211"><stop offset="0" stop-color="#d3d3d3" stop-opacity="1"/><stop offset="0.1" stop-color="#d3d3d3" stop-opacity="0.966"/><stop offset="0.2" stop-color="#d3d3d3" stop-opacity="0.87"/><stop offset="0.3" stop-color="#d3d3d3" stop-opacity="0.73"/><stop offset="0.4" stop-color="#d3d3d3" stop-opacity="0.57"/><stop offset="0.5" stop-color="#d3d3d3" stop-opacity="0.412"/><stop offset="0.6" stop-color="#d3d3d3" stop-opacity="0.274"/><stop offset="0.7" stop-color="#d3d3d3" stop-opacity="0.164"/><stop offset="0.8" stop-color="#d3d3d3" stop-opacity="0.085"/><stop offset="0.9" stop-color="#d3d3d3" stop-opacity="0.032"/><stop offset="1" stop-color="#d3d3d3" stop-opacity="0"/></radialGradient>
<radialGradient id="r217"><stop offset="0" stop-color="#d9d9d9" stop-opacity="1"/><stop offset="0.1" stop-color="#d9d9d9" stop-opacity="0.966"/><stop offset="0.2" stop-color="#d9d9d9" stop-opacity="0.87"/><stop offset="0.3" stop-color="#d9d9d9" stop-opacity="0.73"/><stop offset="0.4" stop-color="#d9d9d9" stop-opacity="0.57"/><stop offset="0.5" stop-color="#d9d9d9" stop-opacity="0.412"/><stop offset="0.6" stop-color="#d9d9d9" stop-opacity="0.274"/><stop offset="0.7" stop-color="#d9d9d9" stop-opacity="0.164"/><stop offset="0.8" stop-color="#d9d9d9" stop-opacity="0.085"/><stop offset="0.9" stop-color="#d9d9d9" stop-opacity="0.032"/><stop offset="1" stop-color="#d9d9d9" stop-opacity="0"/></radialGradient>
<radialGradient id="r195"><stop offset="0" stop-color="#c3c3c3" stop-opacity="1"/><stop offset="0.1" stop-color="#c3c3c3" stop-opacity="0.966"/><stop offset="0.2" stop-color="#c3c3c3" stop-opacity="0.87"/><stop offset="0.3" stop-color="#c3c3c3" stop-opacity="0.73"/><stop offset="0.4" stop-color="#c3c3c3" stop-opacity="0.57"/><stop offset="0.5" stop-color="#c3c3c3" stop-opacity="0.412"/><stop offset="0.6" stop-color="#c3c3c3" stop-opacity="0.274"/><stop offset="0.7" stop-color="#c3c3c3" stop-opacity="0.164"/><stop offset="0.8" stop-color="#c3c3c3" stop-opacity="0.085"/><stop offset="0.9" stop-color="#c3c3c3" stop-opacity="0.032"/><stop offset="1" stop-color="#c3c3c3" stop-opacity="0"/></radialGradient>
<radialGradient id="r192"><stop offset="0" stop-color="#c0c0c0" stop-opacity="1"/><stop offset="0.1" stop-color="#c0c0c0" stop-opacity="0.966"/><stop offset="0.2" stop-color="#c0c0c0" stop-opacity="0.87"/><stop offset="0.3" stop-color="#c0c0c0" stop-opacity="0.73"/><stop offset="0.4" stop-color="#c0c0c0" stop-opacity="0.57"/><stop offset="0.5" stop-color="#c0c0c0" stop-opacity="0.412"/><stop offset="0.6" stop-color="#c0c0c0" stop-opacity="0.274"/><stop offset="0.7" stop-color="#c0c0c0" stop-opacity="0.164"/><stop offset="0.8" stop-color="#c0c0c0" stop-opacity="0.085"/><stop offset="0.9" stop-color="#c0c0c0" stop-opacity="0.032"/><stop offset="1" stop-color="#c0c0c0" stop-opacity="0"/></radialGradient>
<radialGradient id="r143"><stop offset="0" stop-color="#8f8f8f" stop-opacity="1"/><stop offset="0.1" stop-color="#8f8f8f" stop-opacity="0.966"/><stop offset="0.2" stop-color="#8f8f8f" stop-opacity="0.87"/><stop offset="0.3" stop-color="#8f8f8f" stop-opacity="0.73"/><stop offset="0.4" stop-color="#8f8f8f" stop-opacity="0.57"/><stop offset="0.5" stop-color="#8f8f8f" stop-opacity="0.412"/><stop offset="0.6" stop-color="#8f8f8f" stop-opacity="0.274"/><stop offset="0.7" stop-color="#8f8f8f" stop-opacity="0.164"/><stop offset="0.8" stop-color="#8f8f8f" stop-opacity="0.085"/><stop offset="0.9" stop-color="#8f8f8f" stop-opacity="0.032"/><stop offset="1" stop-color="#8f8f8f" stop-opacity="0"/></radialGradient>
<radialGradient id="r144"><stop offset="0" stop-color="#909090" stop-opacity="1"/><stop offset="0.1" stop-color="#909090" stop-opacity="0.966"/><stop offset="0.2" stop-color="#909090" stop-opacity="0.87"/><stop offset="0.3" stop-color="#909090" stop-opacity="0.73"/><stop offset="0.4" stop-color="#909090" stop-opacity="0.57"/><stop offset="0.5" stop-color="#909090" stop-opacity="0.412"/><stop offset="0.6" stop-color="#909090" stop-opacity="0.274"/><stop offset="0.7" stop-color="#909090" stop-opacity="0.164"/><stop offset="0.8" stop-color="#909090" stop-opacity="0.085"/><stop offset="0.9" stop-color="#909090" stop-opacity="0.032"/><stop offset="1" stop-color="#909090" stop-opacity="0"/></radialGradient>
<radialGradient id="r180"><stop offset="0" stop-color="#b4b4b4" stop-opacity="1"/><stop offset="0.1" stop-color="#b4b4b4" stop-opacity="0.966"/><stop offset="0.2" stop-color="#b4b4b4" stop-opacity="0.87"/><stop offset="0.3" stop-color="#b4b4b4" stop-opacity="0.73"/><stop offset="0.4" stop-color="#b4b4b4" stop-opacity="0.57"/><stop offset="0.5" stop-color="#b4b4b4" stop-opacity="0.412"/><stop offset="0.6" stop-color="#b4b4b4" stop-opacity="0.274"/><stop offset="0.7" stop-color="#b4b4b4" stop-opacity="0.164"/><stop offset="0.8" stop-color="#b4b4b4" stop-opacity="0.085"/><stop offset="0.9" stop-color="#b4b4b4" stop-opacity="0.032"/><stop offset="1" stop-color="#b4b4b4" stop-opacity="0"/></radialGradient>
<clipPath id="hxe3"><polygon points="485,675.35 525.03,605.72 602.77,605.72 609.16,611.37 647.52,675.83 612.04,737.82 606.29,743.6 525.11,743.6"/></clipPath>
<clipPath id="pne3"><rect x="485" y="606" width="159.8" height="137.6"/></clipPath>
<radialGradient id="r173"><stop offset="0" stop-color="#adadad" stop-opacity="1"/><stop offset="0.1" stop-color="#adadad" stop-opacity="0.966"/><stop offset="0.2" stop-color="#adadad" stop-opacity="0.87"/><stop offset="0.3" stop-color="#adadad" stop-opacity="0.73"/><stop offset="0.4" stop-color="#adadad" stop-opacity="0.57"/><stop offset="0.5" stop-color="#adadad" stop-opacity="0.412"/><stop offset="0.6" stop-color="#adadad" stop-opacity="0.274"/><stop offset="0.7" stop-color="#adadad" stop-opacity="0.164"/><stop offset="0.8" stop-color="#adadad" stop-opacity="0.085"/><stop offset="0.9" stop-color="#adadad" stop-opacity="0.032"/><stop offset="1" stop-color="#adadad" stop-opacity="0"/></radialGradient>
<radialGradient id="r206"><stop offset="0" stop-color="#cecece" stop-opacity="1"/><stop offset="0.1" stop-color="#cecece" stop-opacity="0.966"/><stop offset="0.2" stop-color="#cecece" stop-opacity="0.87"/><stop offset="0.3" stop-color="#cecece" stop-opacity="0.73"/><stop offset="0.4" stop-color="#cecece" stop-opacity="0.57"/><stop offset="0.5" stop-color="#cecece" stop-opacity="0.412"/><stop offset="0.6" stop-color="#cecece" stop-opacity="0.274"/><stop offset="0.7" stop-color="#cecece" stop-opacity="0.164"/><stop offset="0.8" stop-color="#cecece" stop-opacity="0.085"/><stop offset="0.9" stop-color="#cecece" stop-opacity="0.032"/><stop offset="1" stop-color="#cecece" stop-opacity="0"/></radialGradient>
<clipPath id="hxf1"><polygon points="30.3,861.88 70.13,794.23 147.48,794.23 153.84,799.71 192,862.35 156.71,922.58 150.98,928.2 70.21,928.2"/></clipPath>
<clipPath id="pnf1"><rect x="30.3" y="794.5" width="159" height="133.7"/></clipPath>
<filter id="b40" x="-60%" y="-60%" width="220%" height="220%" color-interpolation-filters="sRGB"><feGaussianBlur stdDeviation="4"/></filter>
<radialGradient id="r210"><stop offset="0" stop-color="#d2d2d2" stop-opacity="1"/><stop offset="0.1" stop-color="#d2d2d2" stop-opacity="0.966"/><stop offset="0.2" stop-color="#d2d2d2" stop-opacity="0.87"/><stop offset="0.3" stop-color="#d2d2d2" stop-opacity="0.73"/><stop offset="0.4" stop-color="#d2d2d2" stop-opacity="0.57"/><stop offset="0.5" stop-color="#d2d2d2" stop-opacity="0.412"/><stop offset="0.6" stop-color="#d2d2d2" stop-opacity="0.274"/><stop offset="0.7" stop-color="#d2d2d2" stop-opacity="0.164"/><stop offset="0.8" stop-color="#d2d2d2" stop-opacity="0.085"/><stop offset="0.9" stop-color="#d2d2d2" stop-opacity="0.032"/><stop offset="1" stop-color="#d2d2d2" stop-opacity="0"/></radialGradient>
<clipPath id="hxf2"><polygon points="254.7,863.75 294.48,794.73 371.74,794.73 378.09,800.32 416.2,864.22 380.95,925.67 375.23,931.4 294.56,931.4"/></clipPath>
<clipPath id="pnf2"><rect x="254.7" y="795" width="158.8" height="136.4"/></clipPath>
<radialGradient id="r227"><stop offset="0" stop-color="#e3e3e3" stop-opacity="1"/><stop offset="0.1" stop-color="#e3e3e3" stop-opacity="0.966"/><stop offset="0.2" stop-color="#e3e3e3" stop-opacity="0.87"/><stop offset="0.3" stop-color="#e3e3e3" stop-opacity="0.73"/><stop offset="0.4" stop-color="#e3e3e3" stop-opacity="0.57"/><stop offset="0.5" stop-color="#e3e3e3" stop-opacity="0.412"/><stop offset="0.6" stop-color="#e3e3e3" stop-opacity="0.274"/><stop offset="0.7" stop-color="#e3e3e3" stop-opacity="0.164"/><stop offset="0.8" stop-color="#e3e3e3" stop-opacity="0.085"/><stop offset="0.9" stop-color="#e3e3e3" stop-opacity="0.032"/><stop offset="1" stop-color="#e3e3e3" stop-opacity="0"/></radialGradient>
<radialGradient id="r209"><stop offset="0" stop-color="#d1d1d1" stop-opacity="1"/><stop offset="0.1" stop-color="#d1d1d1" stop-opacity="0.966"/><stop offset="0.2" stop-color="#d1d1d1" stop-opacity="0.87"/><stop offset="0.3" stop-color="#d1d1d1" stop-opacity="0.73"/><stop offset="0.4" stop-color="#d1d1d1" stop-opacity="0.57"/><stop offset="0.5" stop-color="#d1d1d1" stop-opacity="0.412"/><stop offset="0.6" stop-color="#d1d1d1" stop-opacity="0.274"/><stop offset="0.7" stop-color="#d1d1d1" stop-opacity="0.164"/><stop offset="0.8" stop-color="#d1d1d1" stop-opacity="0.085"/><stop offset="0.9" stop-color="#d1d1d1" stop-opacity="0.032"/><stop offset="1" stop-color="#d1d1d1" stop-opacity="0"/></radialGradient>
<radialGradient id="r174"><stop offset="0" stop-color="#aeaeae" stop-opacity="1"/><stop offset="0.1" stop-color="#aeaeae" stop-opacity="0.966"/><stop offset="0.2" stop-color="#aeaeae" stop-opacity="0.87"/><stop offset="0.3" stop-color="#aeaeae" stop-opacity="0.73"/><stop offset="0.4" stop-color="#aeaeae" stop-opacity="0.57"/><stop offset="0.5" stop-color="#aeaeae" stop-opacity="0.412"/><stop offset="0.6" stop-color="#aeaeae" stop-opacity="0.274"/><stop offset="0.7" stop-color="#aeaeae" stop-opacity="0.164"/><stop offset="0.8" stop-color="#aeaeae" stop-opacity="0.085"/><stop offset="0.9" stop-color="#aeaeae" stop-opacity="0.032"/><stop offset="1" stop-color="#aeaeae" stop-opacity="0"/></radialGradient>
<radialGradient id="r184"><stop offset="0" stop-color="#b8b8b8" stop-opacity="1"/><stop offset="0.1" stop-color="#b8b8b8" stop-opacity="0.966"/><stop offset="0.2" stop-color="#b8b8b8" stop-opacity="0.87"/><stop offset="0.3" stop-color="#b8b8b8" stop-opacity="0.73"/><stop offset="0.4" stop-color="#b8b8b8" stop-opacity="0.57"/><stop offset="0.5" stop-color="#b8b8b8" stop-opacity="0.412"/><stop offset="0.6" stop-color="#b8b8b8" stop-opacity="0.274"/><stop offset="0.7" stop-color="#b8b8b8" stop-opacity="0.164"/><stop offset="0.8" stop-color="#b8b8b8" stop-opacity="0.085"/><stop offset="0.9" stop-color="#b8b8b8" stop-opacity="0.032"/><stop offset="1" stop-color="#b8b8b8" stop-opacity="0"/></radialGradient>
<clipPath id="hxf3"><polygon points="481.2,864 521.23,793.82 598.97,793.82 605.36,799.51 643.72,864.49 608.24,926.97 602.49,932.8 521.31,932.8"/></clipPath>
<clipPath id="pnf3"><rect x="481.2" y="794.1" width="159.8" height="138.7"/></clipPath>
<radialGradient id="r172"><stop offset="0" stop-color="#acacac" stop-opacity="1"/><stop offset="0.1" stop-color="#acacac" stop-opacity="0.966"/><stop offset="0.2" stop-color="#acacac" stop-opacity="0.87"/><stop offset="0.3" stop-color="#acacac" stop-opacity="0.73"/><stop offset="0.4" stop-color="#acacac" stop-opacity="0.57"/><stop offset="0.5" stop-color="#acacac" stop-opacity="0.412"/><stop offset="0.6" stop-color="#acacac" stop-opacity="0.274"/><stop offset="0.7" stop-color="#acacac" stop-opacity="0.164"/><stop offset="0.8" stop-color="#acacac" stop-opacity="0.085"/><stop offset="0.9" stop-color="#acacac" stop-opacity="0.032"/><stop offset="1" stop-color="#acacac" stop-opacity="0"/></radialGradient>
<radialGradient id="r229"><stop offset="0" stop-color="#e5e5e5" stop-opacity="1"/><stop offset="0.1" stop-color="#e5e5e5" stop-opacity="0.966"/><stop offset="0.2" stop-color="#e5e5e5" stop-opacity="0.87"/><stop offset="0.3" stop-color="#e5e5e5" stop-opacity="0.73"/><stop offset="0.4" stop-color="#e5e5e5" stop-opacity="0.57"/><stop offset="0.5" stop-color="#e5e5e5" stop-opacity="0.412"/><stop offset="0.6" stop-color="#e5e5e5" stop-opacity="0.274"/><stop offset="0.7" stop-color="#e5e5e5" stop-opacity="0.164"/><stop offset="0.8" stop-color="#e5e5e5" stop-opacity="0.085"/><stop offset="0.9" stop-color="#e5e5e5" stop-opacity="0.032"/><stop offset="1" stop-color="#e5e5e5" stop-opacity="0"/></radialGradient>
<radialGradient id="r237"><stop offset="0" stop-color="#ededed" stop-opacity="1"/><stop offset="0.1" stop-color="#ededed" stop-opacity="0.966"/><stop offset="0.2" stop-color="#ededed" stop-opacity="0.87"/><stop offset="0.3" stop-color="#ededed" stop-opacity="0.73"/><stop offset="0.4" stop-color="#ededed" stop-opacity="0.57"/><stop offset="0.5" stop-color="#ededed" stop-opacity="0.412"/><stop offset="0.6" stop-color="#ededed" stop-opacity="0.274"/><stop offset="0.7" stop-color="#ededed" stop-opacity="0.164"/><stop offset="0.8" stop-color="#ededed" stop-opacity="0.085"/><stop offset="0.9" stop-color="#ededed" stop-opacity="0.032"/><stop offset="1" stop-color="#ededed" stop-opacity="0"/></radialGradient>
<radialGradient id="r233"><stop offset="0" stop-color="#e9e9e9" stop-opacity="1"/><stop offset="0.1" stop-color="#e9e9e9" stop-opacity="0.966"/><stop offset="0.2" stop-color="#e9e9e9" stop-opacity="0.87"/><stop offset="0.3" stop-color="#e9e9e9" stop-opacity="0.73"/><stop offset="0.4" stop-color="#e9e9e9" stop-opacity="0.57"/><stop offset="0.5" stop-color="#e9e9e9" stop-opacity="0.412"/><stop offset="0.6" stop-color="#e9e9e9" stop-opacity="0.274"/><stop offset="0.7" stop-color="#e9e9e9" stop-opacity="0.164"/><stop offset="0.8" stop-color="#e9e9e9" stop-opacity="0.085"/><stop offset="0.9" stop-color="#e9e9e9" stop-opacity="0.032"/><stop offset="1" stop-color="#e9e9e9" stop-opacity="0"/></radialGradient>
<radialGradient id="r200"><stop offset="0" stop-color="#c8c8c8" stop-opacity="1"/><stop offset="0.1" stop-color="#c8c8c8" stop-opacity="0.966"/><stop offset="0.2" stop-color="#c8c8c8" stop-opacity="0.87"/><stop offset="0.3" stop-color="#c8c8c8" stop-opacity="0.73"/><stop offset="0.4" stop-color="#c8c8c8" stop-opacity="0.57"/><stop offset="0.5" stop-color="#c8c8c8" stop-opacity="0.412"/><stop offset="0.6" stop-color="#c8c8c8" stop-opacity="0.274"/><stop offset="0.7" stop-color="#c8c8c8" stop-opacity="0.164"/><stop offset="0.8" stop-color="#c8c8c8" stop-opacity="0.085"/><stop offset="0.9" stop-color="#c8c8c8" stop-opacity="0.032"/><stop offset="1" stop-color="#c8c8c8" stop-opacity="0"/></radialGradient>
<radialGradient id="r135"><stop offset="0" stop-color="#878787" stop-opacity="1"/><stop offset="0.1" stop-color="#878787" stop-opacity="0.966"/><stop offset="0.2" stop-color="#878787" stop-opacity="0.87"/><stop offset="0.3" stop-color="#878787" stop-opacity="0.73"/><stop offset="0.4" stop-color="#878787" stop-opacity="0.57"/><stop offset="0.5" stop-color="#878787" stop-opacity="0.412"/><stop offset="0.6" stop-color="#878787" stop-opacity="0.274"/><stop offset="0.7" stop-color="#878787" stop-opacity="0.164"/><stop offset="0.8" stop-color="#878787" stop-opacity="0.085"/><stop offset="0.9" stop-color="#878787" stop-opacity="0.032"/><stop offset="1" stop-color="#878787" stop-opacity="0"/></radialGradient>
<radialGradient id="r131"><stop offset="0" stop-color="#838383" stop-opacity="1"/><stop offset="0.1" stop-color="#838383" stop-opacity="0.966"/><stop offset="0.2" stop-color="#838383" stop-opacity="0.87"/><stop offset="0.3" stop-color="#838383" stop-opacity="0.73"/><stop offset="0.4" stop-color="#838383" stop-opacity="0.57"/><stop offset="0.5" stop-color="#838383" stop-opacity="0.412"/><stop offset="0.6" stop-color="#838383" stop-opacity="0.274"/><stop offset="0.7" stop-color="#838383" stop-opacity="0.164"/><stop offset="0.8" stop-color="#838383" stop-opacity="0.085"/><stop offset="0.9" stop-color="#838383" stop-opacity="0.032"/><stop offset="1" stop-color="#838383" stop-opacity="0"/></radialGradient>
<radialGradient id="r114"><stop offset="0" stop-color="#727272" stop-opacity="1"/><stop offset="0.1" stop-color="#727272" stop-opacity="0.966"/><stop offset="0.2" stop-color="#727272" stop-opacity="0.87"/><stop offset="0.3" stop-color="#727272" stop-opacity="0.73"/><stop offset="0.4" stop-color="#727272" stop-opacity="0.57"/><stop offset="0.5" stop-color="#727272" stop-opacity="0.412"/><stop offset="0.6" stop-color="#727272" stop-opacity="0.274"/><stop offset="0.7" stop-color="#727272" stop-opacity="0.164"/><stop offset="0.8" stop-color="#727272" stop-opacity="0.085"/><stop offset="0.9" stop-color="#727272" stop-opacity="0.032"/><stop offset="1" stop-color="#727272" stop-opacity="0"/></radialGradient>
<radialGradient id="r127"><stop offset="0" stop-color="#7f7f7f" stop-opacity="1"/><stop offset="0.1" stop-color="#7f7f7f" stop-opacity="0.966"/><stop offset="0.2" stop-color="#7f7f7f" stop-opacity="0.87"/><stop offset="0.3" stop-color="#7f7f7f" stop-opacity="0.73"/><stop offset="0.4" stop-color="#7f7f7f" stop-opacity="0.57"/><stop offset="0.5" stop-color="#7f7f7f" stop-opacity="0.412"/><stop offset="0.6" stop-color="#7f7f7f" stop-opacity="0.274"/><stop offset="0.7" stop-color="#7f7f7f" stop-opacity="0.164"/><stop offset="0.8" stop-color="#7f7f7f" stop-opacity="0.085"/><stop offset="0.9" stop-color="#7f7f7f" stop-opacity="0.032"/><stop offset="1" stop-color="#7f7f7f" stop-opacity="0"/></radialGradient>
<radialGradient id="r139"><stop offset="0" stop-color="#8b8b8b" stop-opacity="1"/><stop offset="0.1" stop-color="#8b8b8b" stop-opacity="0.966"/><stop offset="0.2" stop-color="#8b8b8b" stop-opacity="0.87"/><stop offset="0.3" stop-color="#8b8b8b" stop-opacity="0.73"/><stop offset="0.4" stop-color="#8b8b8b" stop-opacity="0.57"/><stop offset="0.5" stop-color="#8b8b8b" stop-opacity="0.412"/><stop offset="0.6" stop-color="#8b8b8b" stop-opacity="0.274"/><stop offset="0.7" stop-color="#8b8b8b" stop-opacity="0.164"/><stop offset="0.8" stop-color="#8b8b8b" stop-opacity="0.085"/><stop offset="0.9" stop-color="#8b8b8b" stop-opacity="0.032"/><stop offset="1" stop-color="#8b8b8b" stop-opacity="0"/></radialGradient>
</defs>
<g id="pa">
<text x="79.6" y="16.2" font-size="14" font-family='"Liberation Serif", serif' textLength="14.5" lengthAdjust="spacingAndGlyphs">(a)</text>
<polygon points="141.7,30.9 214.3,30.9 251.2,96.6 214.3,162.4 141.7,162.4 104.8,96.6" fill="none" stroke="#000" stroke-width="4.4" stroke-linejoin="round"/>
<path d="M178.5 96 L178.5 30.9 L214.2 30.9 L178.5 96" fill="none" stroke="#a51631" stroke-width="4.4" stroke-linejoin="miter" stroke-miterlimit="1.5"/>
<text x="172.8" y="22" font-size="13.7" font-family='"Liberation Sans", sans-serif' textLength="11.4" lengthAdjust="spacingAndGlyphs">M</text>
<text x="213.3" y="22" font-size="13.7" font-family='"Liberation Sans", sans-serif' textLength="9.2" lengthAdjust="spacingAndGlyphs">K</text>
<text x="161.5" y="96.6" font-size="15.2" font-family='"Liberation Serif", serif' textLength="8.7" lengthAdjust="spacingAndGlyphs">Γ</text>
<path d="M89.8 142 V173.4 H111" fill="none" stroke="#7f191e" stroke-width="2.7" stroke-linejoin="round"/>
<path d="M89.8 133.3 L94.3 145 L89.8 142.6 L85.3 145 Z" fill="#7f191e" stroke="#7f191e" stroke-width="0.5" stroke-linejoin="round"/>
<path d="M120.2 173.4 L108.6 177.8 L111 173.4 L108.6 169 Z" fill="#7f191e" stroke="#7f191e" stroke-width="0.5" stroke-linejoin="round"/>
<text x="73.8" y="157.7" font-size="13.3" font-family='"Liberation Sans", sans-serif' fill="#a0243a">k</text>
<text x="79.2" y="163.2" font-size="9.8" font-family='"Liberation Sans", sans-serif' fill="#a0243a">y</text>
<text x="99.2" y="188.1" font-size="13.3" font-family='"Liberation Sans", sans-serif' fill="#a0243a">k</text>
<text x="104.4" y="193.8" font-size="9.8" font-family='"Liberation Sans", sans-serif' fill="#a0243a">x</text>
</g>
<g id="pb">
<text x="309.5" y="7" font-size="14" font-family='"Liberation Serif", serif' textLength="14.1" lengthAdjust="spacingAndGlyphs">(b)</text>
<path d="M342.4 104.1 L342.72 104.09 L343.05 104.06 L343.37 104.02 L343.7 103.96 L344.02 103.89 L344.34 103.81 L344.67 103.72 L344.99 103.64 L345.32 103.56 L345.64 103.49 L345.97 103.43 L346.29 103.39 L346.61 103.36 L346.94 103.35 L347.79 103.41 L348.65 103.58 L349.5 103.87 L350.36 104.24 L351.22 104.7 L352.07 105.2 L352.93 105.73 L353.78 106.26 L354.64 106.76 L355.49 107.21 L356.35 107.59 L357.21 107.87 L358.06 108.05 L358.92 108.1 L360.15 107.87 L361.38 107.16 L362.61 106.03 L363.84 104.52 L365.07 102.72 L366.31 100.71 L367.54 98.59 L368.77 96.48 L370 94.47 L371.23 92.66 L372.46 91.16 L373.7 90.02 L374.93 89.32 L376.16 89.08 L377.43 89.65 L378.7 91.31 L379.97 94 L381.24 97.56 L382.51 101.83 L383.78 106.6 L385.05 111.61 L386.32 116.62 L387.59 121.38 L388.86 125.65 L390.13 129.22 L391.4 131.91 L392.68 133.57 L393.95 134.14 L395.2 133.21 L396.46 130.48 L397.72 126.08 L398.98 120.24 L400.23 113.24 L401.49 105.43 L402.75 97.22 L404.01 89 L405.26 81.2 L406.52 74.2 L407.78 68.35 L409.04 63.95 L410.29 61.22 L411.55 60.3 L412.82 61.57 L414.09 65.32 L415.36 71.36 L416.63 79.38 L417.9 88.99 L419.17 99.7 L420.44 110.98 L421.72 122.26 L422.99 132.97 L424.26 142.59 L425.53 150.61 L426.8 156.65 L428.07 160.4 L429.34 161.67 L430.61 160.08 L431.88 155.41 L433.15 147.88 L434.42 137.87 L435.69 125.89 L436.96 112.53 L438.23 98.47 L439.5 84.4 L440.77 71.05 L442.04 59.06 L443.31 49.06 L444.58 41.53 L445.85 36.85 L447.13 35.27 L448.4 37.06 L449.67 42.33 L450.94 50.83 L452.21 62.13 L453.48 75.65 L454.75 90.73 L456.02 106.6 L457.29 122.48 L458.56 137.55 L459.83 151.08 L461.1 162.38 L462.37 170.87 L463.64 176.15 L464.91 177.94 L466.18 176.15 L467.45 170.87 L468.72 162.38 L469.99 151.08 L471.26 137.55 L472.54 122.48 L473.81 106.6 L475.08 90.73 L476.35 75.65 L477.62 62.13 L478.89 50.83 L480.16 42.33 L481.43 37.06 L482.7 35.27 L483.97 36.85 L485.24 41.53 L486.51 49.06 L487.78 59.06 L489.05 71.05 L490.32 84.4 L491.59 98.47 L492.86 112.53 L494.13 125.89 L495.4 137.87 L496.67 147.88 L497.95 155.41 L499.22 160.08 L500.49 161.67 L501.76 160.4 L503.03 156.65 L504.3 150.61 L505.57 142.59 L506.84 132.97 L508.11 122.26 L509.38 110.98 L510.65 99.7 L511.92 88.99 L513.19 79.38 L514.46 71.36 L515.73 65.32 L517 61.57 L518.27 60.3 L519.53 61.22 L520.79 63.95 L522.05 68.35 L523.3 74.2 L524.56 81.2 L525.82 89 L527.08 97.22 L528.33 105.43 L529.59 113.24 L530.85 120.24 L532.11 126.08 L533.36 130.48 L534.62 133.21 L535.88 134.14 L537.15 133.57 L538.42 131.91 L539.69 129.22 L540.96 125.65 L542.23 121.38 L543.5 116.62 L544.77 111.61 L546.04 106.6 L547.31 101.83 L548.58 97.56 L549.85 94 L551.12 91.31 L552.4 89.65 L553.67 89.08 L554.9 89.32 L556.13 90.02 L557.36 91.16 L558.59 92.66 L559.82 94.47 L561.06 96.48 L562.29 98.59 L563.52 100.71 L564.75 102.72 L565.98 104.52 L567.21 106.03 L568.45 107.16 L569.68 107.87 L570.91 108.1 L571.76 108.05 L572.62 107.87 L573.48 107.59 L574.33 107.21 L575.19 106.76 L576.04 106.26 L576.9 105.73 L577.75 105.2 L578.61 104.7 L579.46 104.24 L580.32 103.87 L581.18 103.58 L582.03 103.41 L582.89 103.35 L583.21 103.36 L583.54 103.39 L583.86 103.43 L584.18 103.49 L584.51 103.56 L584.83 103.64 L585.16 103.72 L585.48 103.81 L585.8 103.89 L586.13 103.96 L586.45 104.02 L586.78 104.06 L587.1 104.09 L587.42 104.1" fill="none" stroke="url(#gd)" stroke-width="3" stroke-linejoin="round" stroke-linecap="round" clip-path="url(#cpb)"/>
<path d="M342.4 104.1 L343.06 104.12 L343.72 104.17 L344.38 104.26 L345.04 104.38 L345.71 104.53 L346.37 104.68 L347.03 104.85 L347.69 105.02 L348.35 105.18 L349.01 105.32 L349.67 105.44 L350.33 105.53 L351 105.58 L351.66 105.6 L352.76 105.47 L353.86 105.09 L354.96 104.48 L356.06 103.67 L357.17 102.7 L358.27 101.61 L359.37 100.47 L360.47 99.33 L361.57 98.24 L362.68 97.27 L363.78 96.46 L364.88 95.85 L365.98 95.47 L367.08 95.34 L368.35 95.73 L369.62 96.89 L370.9 98.75 L372.17 101.23 L373.44 104.2 L374.71 107.5 L375.98 110.98 L377.25 114.46 L378.52 117.77 L379.79 120.74 L381.06 123.21 L382.33 125.08 L383.6 126.23 L384.87 126.63 L386.12 125.87 L387.36 123.65 L388.6 120.07 L389.85 115.32 L391.09 109.62 L392.34 103.27 L393.58 96.59 L394.83 89.91 L396.07 83.56 L397.32 77.86 L398.56 73.11 L399.81 69.53 L401.05 67.31 L402.29 66.55 L403.54 67.59 L404.78 70.64 L406.03 75.57 L407.27 82.1 L408.52 89.94 L409.76 98.66 L411.01 107.85 L412.25 117.04 L413.5 125.77 L414.74 133.6 L415.99 140.14 L417.23 145.06 L418.47 148.12 L419.72 149.15 L420.99 148.13 L422.26 145.13 L423.53 140.28 L424.8 133.84 L426.07 126.13 L427.34 117.53 L428.61 108.48 L429.88 99.43 L431.15 90.83 L432.42 83.12 L433.69 76.68 L434.96 71.83 L436.24 68.83 L437.51 67.81 L438.88 68.44 L440.25 70.3 L441.63 73.29 L443 77.28 L444.38 82.05 L445.75 87.36 L447.13 92.96 L448.5 98.56 L449.87 103.88 L451.25 108.65 L452.62 112.63 L454 115.63 L455.37 117.49 L456.74 118.12 L457.33 118.02 L457.91 117.73 L458.5 117.27 L459.08 116.66 L459.66 115.92 L460.25 115.1 L460.83 114.24 L461.41 113.37 L462 112.55 L462.58 111.82 L463.16 111.2 L463.75 110.74 L464.33 110.45 L464.91 110.36 L465.5 110.45 L466.08 110.74 L466.66 111.2 L467.25 111.82 L467.83 112.55 L468.41 113.37 L469 114.24 L469.58 115.1 L470.16 115.92 L470.75 116.66 L471.33 117.27 L471.91 117.73 L472.5 118.02 L473.08 118.12 L474.45 117.49 L475.83 115.63 L477.2 112.63 L478.58 108.65 L479.95 103.88 L481.33 98.56 L482.7 92.96 L484.07 87.36 L485.45 82.05 L486.82 77.28 L488.2 73.29 L489.57 70.3 L490.94 68.44 L492.32 67.81 L493.59 68.83 L494.86 71.83 L496.13 76.68 L497.4 83.12 L498.67 90.83 L499.94 99.43 L501.21 108.48 L502.48 117.53 L503.75 126.13 L505.02 133.84 L506.29 140.28 L507.56 145.13 L508.84 148.13 L510.11 149.15 L511.35 148.12 L512.6 145.06 L513.84 140.14 L515.08 133.6 L516.33 125.77 L517.57 117.04 L518.82 107.85 L520.06 98.66 L521.31 89.94 L522.55 82.1 L523.8 75.57 L525.04 70.64 L526.29 67.59 L527.53 66.55 L528.77 67.31 L530.02 69.53 L531.26 73.11 L532.51 77.86 L533.75 83.56 L535 89.91 L536.24 96.59 L537.49 103.27 L538.73 109.62 L539.98 115.32 L541.22 120.07 L542.46 123.65 L543.71 125.87 L544.95 126.63 L546.22 126.23 L547.5 125.08 L548.77 123.21 L550.04 120.74 L551.31 117.77 L552.58 114.46 L553.85 110.98 L555.12 107.5 L556.39 104.2 L557.66 101.23 L558.93 98.75 L560.2 96.89 L561.47 95.73 L562.74 95.34 L563.84 95.47 L564.94 95.85 L566.05 96.46 L567.15 97.27 L568.25 98.24 L569.35 99.33 L570.45 100.47 L571.56 101.61 L572.66 102.7 L573.76 103.67 L574.86 104.48 L575.96 105.09 L577.07 105.47 L578.17 105.6 L578.83 105.58 L579.49 105.53 L580.15 105.44 L580.81 105.32 L581.47 105.18 L582.14 105.02 L582.8 104.85 L583.46 104.68 L584.12 104.53 L584.78 104.38 L585.44 104.26 L586.1 104.17 L586.76 104.12 L587.42 104.1" fill="none" stroke="url(#gg)" stroke-width="3" stroke-linejoin="round" stroke-linecap="round" clip-path="url(#cpb)"/>
<line x1="429.7" y1="21.9" x2="429.7" y2="191.3" stroke="#808080" stroke-width="0.8" stroke-dasharray="3.7 1.6"/>
<line x1="465.09" y1="21.9" x2="465.09" y2="191.3" stroke="#808080" stroke-width="0.8" stroke-dasharray="3.7 1.6"/>
<line x1="500.49" y1="21.9" x2="500.49" y2="191.3" stroke="#808080" stroke-width="0.8" stroke-dasharray="3.7 1.6"/>
<rect x="342.5" y="21.9" width="245" height="169.4" fill="none" stroke="#262626" stroke-width="1"/>
<line x1="339.1" y1="29.01" x2="342.5" y2="29.01" stroke="#262626" stroke-width="0.9"/>
<text x="335.2" y="32.61" font-size="9.6" font-family='"DejaVu Sans", "Liberation Sans", sans-serif' text-anchor="end" fill="#222">30</text>
<line x1="339.1" y1="54.04" x2="342.5" y2="54.04" stroke="#262626" stroke-width="0.9"/>
<text x="335.2" y="57.64" font-size="9.6" font-family='"DejaVu Sans", "Liberation Sans", sans-serif' text-anchor="end" fill="#222">20</text>
<line x1="339.1" y1="79.07" x2="342.5" y2="79.07" stroke="#262626" stroke-width="0.9"/>
<text x="335.2" y="82.67" font-size="9.6" font-family='"DejaVu Sans", "Liberation Sans", sans-serif' text-anchor="end" fill="#222">10</text>
<line x1="339.1" y1="104.1" x2="342.5" y2="104.1" stroke="#262626" stroke-width="0.9"/>
<text x="335.2" y="107.7" font-size="9.6" font-family='"DejaVu Sans", "Liberation Sans", sans-serif' text-anchor="end" fill="#222">0</text>
<line x1="339.1" y1="129.13" x2="342.5" y2="129.13" stroke="#262626" stroke-width="0.9"/>
<text x="335.2" y="132.73" font-size="9.6" font-family='"DejaVu Sans", "Liberation Sans", sans-serif' text-anchor="end" fill="#222">−10</text>
<line x1="339.1" y1="154.16" x2="342.5" y2="154.16" stroke="#262626" stroke-width="0.9"/>
<text x="335.2" y="157.76" font-size="9.6" font-family='"DejaVu Sans", "Liberation Sans", sans-serif' text-anchor="end" fill="#222">−20</text>
<line x1="339.1" y1="179.19" x2="342.5" y2="179.19" stroke="#262626" stroke-width="0.9"/>
<text x="335.2" y="182.79" font-size="9.6" font-family='"DejaVu Sans", "Liberation Sans", sans-serif' text-anchor="end" fill="#222">−30</text>
<line x1="342.4" y1="191.3" x2="342.4" y2="194.5" stroke="#262626" stroke-width="0.9"/>
<text x="342.4" y="204.7" font-size="9.6" font-family='"DejaVu Sans", "Liberation Sans", sans-serif' text-anchor="middle" fill="#222">0</text>
<line x1="378.7" y1="191.3" x2="378.7" y2="194.5" stroke="#262626" stroke-width="0.9"/>
<text x="378.7" y="204.7" font-size="9.6" font-family='"DejaVu Sans", "Liberation Sans", sans-serif' text-anchor="middle" fill="#222">1</text>
<line x1="415" y1="191.3" x2="415" y2="194.5" stroke="#262626" stroke-width="0.9"/>
<text x="415" y="204.7" font-size="9.6" font-family='"DejaVu Sans", "Liberation Sans", sans-serif' text-anchor="middle" fill="#222">2</text>
<line x1="451.3" y1="191.3" x2="451.3" y2="194.5" stroke="#262626" stroke-width="0.9"/>
<text x="451.3" y="204.7" font-size="9.6" font-family='"DejaVu Sans", "Liberation Sans", sans-serif' text-anchor="middle" fill="#222">3</text>
<line x1="487.6" y1="191.3" x2="487.6" y2="194.5" stroke="#262626" stroke-width="0.9"/>
<text x="487.6" y="204.7" font-size="9.6" font-family='"DejaVu Sans", "Liberation Sans", sans-serif' text-anchor="middle" fill="#222">4</text>
<line x1="523.9" y1="191.3" x2="523.9" y2="194.5" stroke="#262626" stroke-width="0.9"/>
<text x="523.9" y="204.7" font-size="9.6" font-family='"DejaVu Sans", "Liberation Sans", sans-serif' text-anchor="middle" fill="#222">5</text>
<line x1="560.2" y1="191.3" x2="560.2" y2="194.5" stroke="#262626" stroke-width="0.9"/>
<text x="560.2" y="204.7" font-size="9.6" font-family='"DejaVu Sans", "Liberation Sans", sans-serif' text-anchor="middle" fill="#222">6</text>
<text x="438.4" y="213.7" font-size="10.9" font-family='"Liberation Serif", serif' textLength="53.6" lengthAdjust="spacingAndGlyphs">Time [o.c.]</text>
<text x="311.8" y="122.6" font-size="12.6" font-family='"Liberation Serif", serif' textLength="31.9" lengthAdjust="spacingAndGlyphs" transform="rotate(-90 311.8 122.6)">A [a.u.]</text>
<text x="388.1" y="45.7" font-size="10.8" font-family='"DejaVu Sans", "Liberation Sans", sans-serif' font-style="italic" fill="#111" stroke="#111" stroke-width="0.2" textLength="33.9" lengthAdjust="spacingAndGlyphs">t<tspan font-size="7.6" dy="1.6">g</tspan><tspan dy="-1.6"> − T</tspan></text>
<text x="454.2" y="45.7" font-size="10.8" font-family='"DejaVu Sans", "Liberation Sans", sans-serif' font-style="italic" fill="#111" stroke="#111" stroke-width="0.2" textLength="8.8" lengthAdjust="spacingAndGlyphs">t<tspan font-size="7.6" dy="1.6">g</tspan></text>
<text x="507.7" y="45.7" font-size="10.8" font-family='"DejaVu Sans", "Liberation Sans", sans-serif' font-style="italic" fill="#111" stroke="#111" stroke-width="0.2" textLength="33.3" lengthAdjust="spacingAndGlyphs">t<tspan font-size="7.6" dy="1.6">g</tspan><tspan dy="-1.6"> + T</tspan></text>
<line x1="387.6" y1="6.6" x2="414.4" y2="6.6" stroke="#c0272d" stroke-width="2"/>
<line x1="477.2" y1="6.6" x2="504.2" y2="6.6" stroke="#6aa6c8" stroke-width="2"/>
<text x="423.1" y="10.5" font-size="11" font-family='"Liberation Serif", serif' textLength="8.4" lengthAdjust="spacingAndGlyphs">A</text>
<text x="431.9" y="12.5" font-size="7.8" font-style="italic" font-family='"DejaVu Sans", "Liberation Sans", sans-serif' textLength="21" lengthAdjust="spacingAndGlyphs">drive</text>
<text x="513.1" y="10.5" font-size="11" font-family='"Liberation Serif", serif' textLength="8.4" lengthAdjust="spacingAndGlyphs">A</text>
<text x="521.9" y="12.5" font-size="7.8" font-style="italic" font-family='"DejaVu Sans", "Liberation Sans", sans-serif' textLength="19.1" lengthAdjust="spacingAndGlyphs">gate</text>
</g>
<g id="hc1">
<g clip-path="url(#pnc1)"><g filter="url(#jet)">
<rect x="24" y="243" width="166" height="141" fill="#000"/>
<g clip-path="url(#hxc1)">
<rect x="28" y="247" width="158" height="133" fill="#4c4c4c"/>
<polygon points="74.13,247 128.34,247 127.18,380 71.82,380 71.82,325.37 46.45,313.85 71.82,302.32" fill="#676767" filter="url(#b80)"/>
<ellipse cx="152.55" cy="272.36" rx="17.76" ry="17.75" fill="url(#r91)"/>
<ellipse cx="150.25" cy="336.9" rx="15.22" ry="15.21" fill="url(#r87)"/>
<ellipse cx="157.17" cy="357.64" rx="15.22" ry="15.21" fill="url(#r87)"/>
<ellipse cx="147.94" cy="304.63" rx="11.16" ry="11.16" fill="url(#r87)"/>
<ellipse cx="83.36" cy="334.59" rx="15.22" ry="15.21" fill="url(#r116)"/>
<ellipse cx="97.2" cy="357.64" rx="15.22" ry="15.21" fill="url(#r116)"/>
<ellipse cx="111.04" cy="290.8" rx="22.84" ry="40.57" fill="url(#r132)"/>
<ellipse cx="112.19" cy="339.2" rx="20.3" ry="35.5" fill="url(#r132)"/>
<ellipse cx="74.13" cy="313.85" rx="30.45" ry="17.75" fill="url(#r116)"/>
<ellipse cx="97.2" cy="313.85" rx="30.45" ry="30.43" fill="url(#r107)"/>
<ellipse cx="138.72" cy="248.15" rx="17.76" ry="20.28" fill="url(#r177)"/>
<ellipse cx="141.02" cy="379.54" rx="15.22" ry="12.68" fill="url(#r165)"/>
<ellipse cx="94.89" cy="377.23" rx="20.3" ry="12.68" fill="url(#r136)"/>
<ellipse cx="97.2" cy="248.84" rx="25.37" ry="12.68" fill="url(#r124)"/>
<ellipse cx="162.93" cy="315" rx="25.37" ry="30.43" fill="url(#r41)"/>
<ellipse cx="61.45" cy="276.97" rx="20.3" ry="22.82" fill="url(#r62)"/>
<ellipse cx="60.29" cy="343.81" rx="22.84" ry="25.36" fill="url(#r62)"/>
<ellipse cx="136.41" cy="288.49" rx="12.69" ry="17.75" fill="url(#r61)"/>
<ellipse cx="137.56" cy="341.51" rx="15.22" ry="20.28" fill="url(#r61)"/>
<ellipse cx="48.76" cy="304.63" rx="12.69" ry="12.68" fill="url(#r91)"/>
<ellipse cx="44.15" cy="324.22" rx="12.69" ry="10.14" fill="url(#r91)"/>
<ellipse cx="94.89" cy="276.97" rx="11.16" ry="11.16" fill="url(#r78)"/>
<ellipse cx="157.17" cy="279.27" rx="15.22" ry="15.21" fill="url(#r78)"/>
<ellipse cx="166.39" cy="348.42" rx="15.22" ry="15.21" fill="url(#r78)"/>
</g></g></g>
<rect x="28" y="247" width="158" height="133" fill="none" stroke="#1a1a1a" stroke-width="0.6"/>
<path d="M34.74 380 v1.1 M34.74 247 v-1.1 M46.79 380 v1.8 M46.79 247 v-1.8 M58.83 380 v1.1 M58.83 247 v-1.1 M70.87 380 v1.1 M70.87 247 v-1.1 M82.91 380 v1.1 M82.91 247 v-1.1 M94.96 380 v1.1 M94.96 247 v-1.1 M107 380 v1.8 M107 247 v-1.8 M119.04 380 v1.1 M119.04 247 v-1.1 M131.09 380 v1.1 M131.09 247 v-1.1 M143.13 380 v1.1 M143.13 247 v-1.1 M155.17 380 v1.1 M155.17 247 v-1.1 M167.21 380 v1.8 M167.21 247 v-1.8 M179.26 380 v1.1 M179.26 247 v-1.1 M28 372.49 h-1.8 M186 372.49 h1.8 M28 360.93 h-1.1 M186 360.93 h1.1 M28 349.38 h-1.1 M186 349.38 h1.1 M28 337.82 h-1.1 M186 337.82 h1.1 M28 326.27 h-1.1 M186 326.27 h1.1 M28 314.71 h-1.8 M186 314.71 h1.8 M28 303.16 h-1.1 M186 303.16 h1.1 M28 291.6 h-1.1 M186 291.6 h1.1 M28 280.05 h-1.1 M186 280.05 h1.1 M28 268.49 h-1.1 M186 268.49 h1.1 M28 256.94 h-1.8 M186 256.94 h1.8" stroke="#111" stroke-width="0.7" fill="none"/>
<text x="46.79" y="392.2" font-size="8.6" font-family='"Liberation Sans", sans-serif' text-anchor="middle" fill="#1a1a1a">-0.5</text>
<text x="23.8" y="375.59" font-size="8.6" font-family='"Liberation Sans", sans-serif' text-anchor="end" fill="#1a1a1a">-0.5</text>
<text x="107" y="392.2" font-size="8.6" font-family='"Liberation Sans", sans-serif' text-anchor="middle" fill="#1a1a1a">0</text>
<text x="23.8" y="317.81" font-size="8.6" font-family='"Liberation Sans", sans-serif' text-anchor="end" fill="#1a1a1a">0</text>
<text x="167.21" y="392.2" font-size="8.6" font-family='"Liberation Sans", sans-serif' text-anchor="middle" fill="#1a1a1a">0.5</text>
<text x="23.8" y="260.04" font-size="8.6" font-family='"Liberation Sans", sans-serif' text-anchor="end" fill="#1a1a1a">0.5</text>
<rect x="191" y="247" width="12" height="133" fill="url(#cb)" stroke="#222" stroke-width="0.6"/>
<text x="206" y="382.9" font-size="7.8" font-family='"Liberation Sans", sans-serif' fill="#1a1a1a">0</text>
<text x="206" y="361.38" font-size="7.8" font-family='"Liberation Sans", sans-serif' fill="#1a1a1a">0.5</text>
<text x="206" y="339.86" font-size="7.8" font-family='"Liberation Sans", sans-serif' fill="#1a1a1a">1</text>
<text x="206" y="318.34" font-size="7.8" font-family='"Liberation Sans", sans-serif' fill="#1a1a1a">1.5</text>
<text x="206" y="296.82" font-size="7.8" font-family='"Liberation Sans", sans-serif' fill="#1a1a1a">2</text>
<text x="206" y="275.29" font-size="7.8" font-family='"Liberation Sans", sans-serif' fill="#1a1a1a">2.5</text>
<text x="206" y="253.77" font-size="7.8" font-family='"Liberation Sans", sans-serif' fill="#1a1a1a">3</text>
<path d="M203 358.48 h-1.6 M203 336.96 h-1.6 M203 315.44 h-1.6 M203 293.92 h-1.6 M203 272.39 h-1.6 M203 250.87 h-1.6" stroke="#111" stroke-width="0.7" fill="none"/>
<g id="hc2">
<g clip-path="url(#pnc2)"><g filter="url(#jet)">
<rect x="251.3" y="241" width="167.5" height="143.4" fill="#000"/>
<g clip-path="url(#hxc2)">
<rect x="255.3" y="245" width="159.5" height="135.4" fill="#727272"/>
<polygon points="298.38,245 353.1,245 356.59,313.05 355.42,380.4 299.54,380.4 294.88,327.13 269.27,313.05 294.88,298.97" fill="#909090" filter="url(#b65)"/>
<polygon points="327.48,259.08 348.44,259.08 350.77,367.02 327.48,367.02" fill="#999999" filter="url(#b60)"/>
<ellipse cx="336.8" cy="284.89" rx="12.81" ry="12.91" fill="url(#r160)"/>
<ellipse cx="342.62" cy="298.97" rx="9.22" ry="9.29" fill="url(#r163)"/>
<ellipse cx="341.45" cy="322.44" rx="10.25" ry="10.33" fill="url(#r163)"/>
<ellipse cx="335.63" cy="333" rx="12.81" ry="11.36" fill="url(#r160)"/>
<ellipse cx="320.5" cy="294.28" rx="9.22" ry="9.29" fill="url(#r156)"/>
<ellipse cx="325.15" cy="308.36" rx="15.37" ry="15.49" fill="url(#r136)"/>
<ellipse cx="318.17" cy="273.16" rx="15.37" ry="20.65" fill="url(#r132)"/>
<ellipse cx="383.37" cy="322.44" rx="30.74" ry="103.25" fill="url(#r103)"/>
<ellipse cx="320.5" cy="248.52" rx="20.49" ry="15.49" fill="url(#r169)"/>
<ellipse cx="362.41" cy="254.39" rx="17.93" ry="11.36" fill="url(#r165)"/>
<ellipse cx="320.5" cy="376.88" rx="25.61" ry="12.91" fill="url(#r177)"/>
<ellipse cx="369.39" cy="371.72" rx="10.25" ry="20.65" fill="url(#r197)" transform="rotate(25 369.39 371.72)"/>
<ellipse cx="405.02" cy="318.45" rx="11.27" ry="11.36" fill="url(#r189)"/>
<ellipse cx="275.09" cy="311.88" rx="10.25" ry="10.33" fill="url(#r152)"/>
<ellipse cx="384.53" cy="311.88" rx="16.39" ry="28.39" fill="url(#r78)"/>
<ellipse cx="261.82" cy="313.05" rx="11.27" ry="12.91" fill="url(#r70)"/>
<ellipse cx="376.38" cy="262.6" rx="11.27" ry="10.33" fill="url(#r76)"/>
<ellipse cx="363.57" cy="275.51" rx="11.27" ry="11.36" fill="url(#r82)"/>
<ellipse cx="285.57" cy="275.51" rx="11.27" ry="10.33" fill="url(#r86)"/>
<ellipse cx="283.24" cy="348.25" rx="15.37" ry="20.65" fill="url(#r95)"/>
<ellipse cx="360.08" cy="357.64" rx="17.93" ry="30.98" fill="url(#r95)"/>
<ellipse cx="294.88" cy="367.02" rx="12.81" ry="15.49" fill="url(#r95)"/>
<ellipse cx="397.34" cy="291.93" rx="15.37" ry="20.65" fill="url(#r123)"/>
<ellipse cx="395.01" cy="343.56" rx="15.37" ry="20.65" fill="url(#r119)"/>
</g></g></g>
<rect x="255.3" y="245" width="159.5" height="135.4" fill="none" stroke="#1a1a1a" stroke-width="0.6"/>
<path d="M262.11 380.4 v1.1 M262.11 245 v-1.1 M274.26 380.4 v1.8 M274.26 245 v-1.8 M286.42 380.4 v1.1 M286.42 245 v-1.1 M298.58 380.4 v1.1 M298.58 245 v-1.1 M310.74 380.4 v1.1 M310.74 245 v-1.1 M322.89 380.4 v1.1 M322.89 245 v-1.1 M335.05 380.4 v1.8 M335.05 245 v-1.8 M347.21 380.4 v1.1 M347.21 245 v-1.1 M359.36 380.4 v1.1 M359.36 245 v-1.1 M371.52 380.4 v1.1 M371.52 245 v-1.1 M383.68 380.4 v1.1 M383.68 245 v-1.1 M395.84 380.4 v1.8 M395.84 245 v-1.8 M407.99 380.4 v1.1 M407.99 245 v-1.1 M255.3 372.75 h-1.8 M414.8 372.75 h1.8 M255.3 360.99 h-1.1 M414.8 360.99 h1.1 M255.3 349.23 h-1.1 M414.8 349.23 h1.1 M255.3 337.46 h-1.1 M414.8 337.46 h1.1 M255.3 325.7 h-1.1 M414.8 325.7 h1.1 M255.3 313.94 h-1.8 M414.8 313.94 h1.8 M255.3 302.17 h-1.1 M414.8 302.17 h1.1 M255.3 290.41 h-1.1 M414.8 290.41 h1.1 M255.3 278.64 h-1.1 M414.8 278.64 h1.1 M255.3 266.88 h-1.1 M414.8 266.88 h1.1 M255.3 255.12 h-1.8 M414.8 255.12 h1.8" stroke="#111" stroke-width="0.7" fill="none"/>
<text x="274.26" y="392.6" font-size="8.6" font-family='"Liberation Sans", sans-serif' text-anchor="middle" fill="#1a1a1a">-0.5</text>
<text x="251.1" y="375.85" font-size="8.6" font-family='"Liberation Sans", sans-serif' text-anchor="end" fill="#1a1a1a">-0.5</text>
<text x="335.05" y="392.6" font-size="8.6" font-family='"Liberation Sans", sans-serif' text-anchor="middle" fill="#1a1a1a">0</text>
<text x="251.1" y="317.04" font-size="8.6" font-family='"Liberation Sans", sans-serif' text-anchor="end" fill="#1a1a1a">0</text>
<text x="395.84" y="392.6" font-size="8.6" font-family='"Liberation Sans", sans-serif' text-anchor="middle" fill="#1a1a1a">0.5</text>
<text x="251.1" y="258.22" font-size="8.6" font-family='"Liberation Sans", sans-serif' text-anchor="end" fill="#1a1a1a">0.5</text>
<rect x="419.8" y="245" width="12.1" height="135.4" fill="url(#cb)" stroke="#222" stroke-width="0.6"/>
<text x="434.9" y="383.3" font-size="7.8" font-family='"Liberation Sans", sans-serif' fill="#1a1a1a">0</text>
<text x="434.9" y="361.46" font-size="7.8" font-family='"Liberation Sans", sans-serif' fill="#1a1a1a">0.5</text>
<text x="434.9" y="339.62" font-size="7.8" font-family='"Liberation Sans", sans-serif' fill="#1a1a1a">1</text>
<text x="434.9" y="317.78" font-size="7.8" font-family='"Liberation Sans", sans-serif' fill="#1a1a1a">1.5</text>
<text x="434.9" y="295.95" font-size="7.8" font-family='"Liberation Sans", sans-serif' fill="#1a1a1a">2</text>
<text x="434.9" y="274.11" font-size="7.8" font-family='"Liberation Sans", sans-serif' fill="#1a1a1a">2.5</text>
<text x="434.9" y="252.27" font-size="7.8" font-family='"Liberation Sans", sans-serif' fill="#1a1a1a">3</text>
<path d="M431.9 358.56 h-1.6 M431.9 336.72 h-1.6 M431.9 314.88 h-1.6 M431.9 293.05 h-1.6 M431.9 271.21 h-1.6 M431.9 249.37 h-1.6" stroke="#111" stroke-width="0.7" fill="none"/>
<g id="hc3">
<g clip-path="url(#pnc3)"><g filter="url(#jet)">
<rect x="480.3" y="242.5" width="166.9" height="142.8" fill="#000"/>
<g clip-path="url(#hxc3)">
<rect x="484.3" y="246.5" width="158.9" height="134.8" fill="#444444"/>
<polygon points="526.05,246.5 581.73,246.5 593.33,314.25 577.09,381.3 526.05,381.3 512.14,314.25" fill="#5a5a5a" filter="url(#b80)"/>
<ellipse cx="560.85" cy="323.6" rx="30.62" ry="30.84" fill="url(#r95)"/>
<ellipse cx="553.89" cy="293.22" rx="25.52" ry="30.84" fill="url(#r95)"/>
<ellipse cx="530.69" cy="316.59" rx="20.41" ry="20.56" fill="url(#r90)"/>
<ellipse cx="581.73" cy="328.27" rx="20.41" ry="15.42" fill="url(#r90)"/>
<ellipse cx="560.85" cy="358.64" rx="20.41" ry="20.56" fill="url(#r90)"/>
<ellipse cx="574.77" cy="304.91" rx="17.86" ry="30.84" fill="url(#r111)"/>
<ellipse cx="537.65" cy="283.88" rx="15.31" ry="20.56" fill="url(#r107)"/>
<ellipse cx="542.29" cy="339.95" rx="20.41" ry="25.7" fill="url(#r103)"/>
<ellipse cx="560.85" cy="260.52" rx="15.31" ry="25.7" fill="url(#r95)"/>
<ellipse cx="537.65" cy="253.51" rx="20.41" ry="12.85" fill="url(#r103)"/>
<ellipse cx="632.76" cy="310.75" rx="20.41" ry="25.7" fill="url(#r123)"/>
<ellipse cx="635.54" cy="310.05" rx="10.21" ry="16.45" fill="url(#r185)"/>
<ellipse cx="601.45" cy="261.69" rx="11.23" ry="10.28" fill="url(#r115)"/>
<ellipse cx="544.61" cy="379.66" rx="15.31" ry="12.85" fill="url(#r132)"/>
<ellipse cx="591.01" cy="367.98" rx="12.76" ry="17.99" fill="url(#r90)"/>
<ellipse cx="595.65" cy="276.87" rx="25.52" ry="20.56" fill="url(#r49)"/>
<ellipse cx="493.58" cy="314.25" rx="12.76" ry="12.85" fill="url(#r51)"/>
<ellipse cx="509.82" cy="283.88" rx="20.41" ry="15.42" fill="url(#r55)"/>
<ellipse cx="604.92" cy="367.98" rx="20.41" ry="15.42" fill="url(#r48)"/>
<ellipse cx="600.29" cy="339.95" rx="30.62" ry="25.7" fill="url(#r55)"/>
<ellipse cx="618.84" cy="316.59" rx="15.31" ry="20.56" fill="url(#r59)"/>
<ellipse cx="514.46" cy="339.95" rx="20.41" ry="20.56" fill="url(#r61)"/>
</g></g></g>
<rect x="484.3" y="246.5" width="158.9" height="134.8" fill="none" stroke="#1a1a1a" stroke-width="0.6"/>
<path d="M491.08 381.3 v1.1 M491.08 246.5 v-1.1 M503.19 381.3 v1.8 M503.19 246.5 v-1.8 M515.3 381.3 v1.1 M515.3 246.5 v-1.1 M527.42 381.3 v1.1 M527.42 246.5 v-1.1 M539.53 381.3 v1.1 M539.53 246.5 v-1.1 M551.64 381.3 v1.1 M551.64 246.5 v-1.1 M563.75 381.3 v1.8 M563.75 246.5 v-1.8 M575.86 381.3 v1.1 M575.86 246.5 v-1.1 M587.97 381.3 v1.1 M587.97 246.5 v-1.1 M600.08 381.3 v1.1 M600.08 246.5 v-1.1 M612.2 381.3 v1.1 M612.2 246.5 v-1.1 M624.31 381.3 v1.8 M624.31 246.5 v-1.8 M636.42 381.3 v1.1 M636.42 246.5 v-1.1 M484.3 373.69 h-1.8 M643.2 373.69 h1.8 M484.3 361.98 h-1.1 M643.2 361.98 h1.1 M484.3 350.26 h-1.1 M643.2 350.26 h1.1 M484.3 338.55 h-1.1 M643.2 338.55 h1.1 M484.3 326.84 h-1.1 M643.2 326.84 h1.1 M484.3 315.13 h-1.8 M643.2 315.13 h1.8 M484.3 303.42 h-1.1 M643.2 303.42 h1.1 M484.3 291.71 h-1.1 M643.2 291.71 h1.1 M484.3 280 h-1.1 M643.2 280 h1.1 M484.3 268.28 h-1.1 M643.2 268.28 h1.1 M484.3 256.57 h-1.8 M643.2 256.57 h1.8" stroke="#111" stroke-width="0.7" fill="none"/>
<text x="503.19" y="393.5" font-size="8.6" font-family='"Liberation Sans", sans-serif' text-anchor="middle" fill="#1a1a1a">-0.5</text>
<text x="480.1" y="376.79" font-size="8.6" font-family='"Liberation Sans", sans-serif' text-anchor="end" fill="#1a1a1a">-0.5</text>
<text x="563.75" y="393.5" font-size="8.6" font-family='"Liberation Sans", sans-serif' text-anchor="middle" fill="#1a1a1a">0</text>
<text x="480.1" y="318.23" font-size="8.6" font-family='"Liberation Sans", sans-serif' text-anchor="end" fill="#1a1a1a">0</text>
<text x="624.31" y="393.5" font-size="8.6" font-family='"Liberation Sans", sans-serif' text-anchor="middle" fill="#1a1a1a">0.5</text>
<text x="480.1" y="259.67" font-size="8.6" font-family='"Liberation Sans", sans-serif' text-anchor="end" fill="#1a1a1a">0.5</text>
<rect x="648" y="246.5" width="12" height="134.8" fill="url(#cb)" stroke="#222" stroke-width="0.6"/>
<text x="663" y="384.2" font-size="7.8" font-family='"Liberation Sans", sans-serif' fill="#1a1a1a">0</text>
<text x="663" y="362.46" font-size="7.8" font-family='"Liberation Sans", sans-serif' fill="#1a1a1a">0.5</text>
<text x="663" y="340.72" font-size="7.8" font-family='"Liberation Sans", sans-serif' fill="#1a1a1a">1</text>
<text x="663" y="318.97" font-size="7.8" font-family='"Liberation Sans", sans-serif' fill="#1a1a1a">1.5</text>
<text x="663" y="297.23" font-size="7.8" font-family='"Liberation Sans", sans-serif' fill="#1a1a1a">2</text>
<text x="663" y="275.49" font-size="7.8" font-family='"Liberation Sans", sans-serif' fill="#1a1a1a">2.5</text>
<text x="663" y="253.75" font-size="7.8" font-family='"Liberation Sans", sans-serif' fill="#1a1a1a">3</text>
<path d="M660 359.56 h-1.6 M660 337.82 h-1.6 M660 316.07 h-1.6 M660 294.33 h-1.6 M660 272.59 h-1.6 M660 250.85 h-1.6" stroke="#111" stroke-width="0.7" fill="none"/>
<g id="hd1">
<g clip-path="url(#pnd1)"><g filter="url(#jet)">
<rect x="24.1" y="417.8" width="168.8" height="142" fill="#000"/>
<g clip-path="url(#hxd1)">
<rect x="28.1" y="421.8" width="160.8" height="134" fill="#737373"/>
<polygon points="82.09,421.8 117.3,421.8 124.35,456.64 136.08,489.15 124.35,521.66 119.65,555.8 82.09,555.8 72.7,521.66 53.92,489.15 72.7,456.64" fill="#949494" filter="url(#b60)"/>
<ellipse cx="79.74" cy="487.99" rx="23.24" ry="17.88" fill="url(#r156)"/>
<ellipse cx="86.79" cy="468.25" rx="20.66" ry="30.66" fill="url(#r155)"/>
<ellipse cx="86.79" cy="507.73" rx="20.66" ry="30.66" fill="url(#r155)"/>
<ellipse cx="110.26" cy="465.92" rx="14.46" ry="25.55" fill="url(#r167)"/>
<ellipse cx="111.43" cy="511.21" rx="13.43" ry="22.99" fill="url(#r169)"/>
<ellipse cx="97.35" cy="488.68" rx="16.53" ry="16.35" fill="url(#r128)"/>
<ellipse cx="96.18" cy="448.51" rx="18.08" ry="15.33" fill="url(#r123)"/>
<ellipse cx="96.18" cy="526.31" rx="18.08" ry="15.33" fill="url(#r123)"/>
<ellipse cx="98.52" cy="423.66" rx="18.08" ry="16.35" fill="url(#r177)"/>
<ellipse cx="134.91" cy="424.59" rx="18.08" ry="16.35" fill="url(#r193)"/>
<ellipse cx="98.52" cy="553.01" rx="15.49" ry="12.77" fill="url(#r177)"/>
<ellipse cx="138.43" cy="554.17" rx="15.49" ry="9.2" fill="url(#r148)"/>
<ellipse cx="161.9" cy="487.99" rx="41.32" ry="45.98" fill="url(#r95)"/>
<ellipse cx="163.08" cy="487.99" rx="20.66" ry="22.99" fill="url(#r59)"/>
<ellipse cx="58.62" cy="451.99" rx="18.08" ry="20.44" fill="url(#r86)"/>
<ellipse cx="57.44" cy="521.66" rx="18.08" ry="20.44" fill="url(#r86)"/>
<ellipse cx="35.14" cy="487.99" rx="12.91" ry="12.77" fill="url(#r82)"/>
<ellipse cx="140.78" cy="451.99" rx="19.62" ry="35.76" fill="url(#r95)"/>
<ellipse cx="140.78" cy="521.66" rx="16.53" ry="30.66" fill="url(#r99)"/>
<ellipse cx="145.47" cy="438.06" rx="10.33" ry="15.33" fill="url(#r82)"/>
</g></g></g>
<rect x="28.1" y="421.8" width="160.8" height="134" fill="none" stroke="#1a1a1a" stroke-width="0.6"/>
<path d="M34.96 555.8 v1.1 M34.96 421.8 v-1.1 M47.22 555.8 v1.8 M47.22 421.8 v-1.8 M59.48 555.8 v1.1 M59.48 421.8 v-1.1 M71.73 555.8 v1.1 M71.73 421.8 v-1.1 M83.99 555.8 v1.1 M83.99 421.8 v-1.1 M96.24 555.8 v1.1 M96.24 421.8 v-1.1 M108.5 555.8 v1.8 M108.5 421.8 v-1.8 M120.76 555.8 v1.1 M120.76 421.8 v-1.1 M133.01 555.8 v1.1 M133.01 421.8 v-1.1 M145.27 555.8 v1.1 M145.27 421.8 v-1.1 M157.52 555.8 v1.1 M157.52 421.8 v-1.1 M169.78 555.8 v1.8 M169.78 421.8 v-1.8 M182.04 555.8 v1.1 M182.04 421.8 v-1.1 M28.1 548.23 h-1.8 M188.9 548.23 h1.8 M28.1 536.59 h-1.1 M188.9 536.59 h1.1 M28.1 524.95 h-1.1 M188.9 524.95 h1.1 M28.1 513.31 h-1.1 M188.9 513.31 h1.1 M28.1 501.66 h-1.1 M188.9 501.66 h1.1 M28.1 490.02 h-1.8 M188.9 490.02 h1.8 M28.1 478.38 h-1.1 M188.9 478.38 h1.1 M28.1 466.74 h-1.1 M188.9 466.74 h1.1 M28.1 455.1 h-1.1 M188.9 455.1 h1.1 M28.1 443.45 h-1.1 M188.9 443.45 h1.1 M28.1 431.81 h-1.8 M188.9 431.81 h1.8" stroke="#111" stroke-width="0.7" fill="none"/>
<text x="47.22" y="568" font-size="8.6" font-family='"Liberation Sans", sans-serif' text-anchor="middle" fill="#1a1a1a">-0.5</text>
<text x="23.9" y="551.33" font-size="8.6" font-family='"Liberation Sans", sans-serif' text-anchor="end" fill="#1a1a1a">-0.5</text>
<text x="108.5" y="568" font-size="8.6" font-family='"Liberation Sans", sans-serif' text-anchor="middle" fill="#1a1a1a">0</text>
<text x="23.9" y="493.12" font-size="8.6" font-family='"Liberation Sans", sans-serif' text-anchor="end" fill="#1a1a1a">0</text>
<text x="169.78" y="568" font-size="8.6" font-family='"Liberation Sans", sans-serif' text-anchor="middle" fill="#1a1a1a">0.5</text>
<text x="23.9" y="434.91" font-size="8.6" font-family='"Liberation Sans", sans-serif' text-anchor="end" fill="#1a1a1a">0.5</text>
<rect x="193.1" y="421.8" width="10.7" height="134" fill="url(#cb)" stroke="#222" stroke-width="0.6"/>
<text x="206.8" y="558.7" font-size="7.8" font-family='"Liberation Sans", sans-serif' fill="#1a1a1a">0</text>
<text x="206.8" y="537.09" font-size="7.8" font-family='"Liberation Sans", sans-serif' fill="#1a1a1a">0.5</text>
<text x="206.8" y="515.47" font-size="7.8" font-family='"Liberation Sans", sans-serif' fill="#1a1a1a">1</text>
<text x="206.8" y="493.86" font-size="7.8" font-family='"Liberation Sans", sans-serif' fill="#1a1a1a">1.5</text>
<text x="206.8" y="472.25" font-size="7.8" font-family='"Liberation Sans", sans-serif' fill="#1a1a1a">2</text>
<text x="206.8" y="450.64" font-size="7.8" font-family='"Liberation Sans", sans-serif' fill="#1a1a1a">2.5</text>
<text x="206.8" y="429.02" font-size="7.8" font-family='"Liberation Sans", sans-serif' fill="#1a1a1a">3</text>
<path d="M203.8 534.19 h-1.6 M203.8 512.57 h-1.6 M203.8 490.96 h-1.6 M203.8 469.35 h-1.6 M203.8 447.74 h-1.6 M203.8 426.12 h-1.6" stroke="#111" stroke-width="0.7" fill="none"/>
<g id="hd2">
<g clip-path="url(#pnd2)"><g filter="url(#jet)">
<rect x="250.4" y="417.6" width="167.9" height="144.4" fill="#000"/>
<g clip-path="url(#hxd2)">
<rect x="254.4" y="421.6" width="159.9" height="136.4" fill="#8f8f8f"/>
<polygon points="306.92,421.6 345.44,421.6 346.61,457.06 357.11,490.15 346.61,523.25 345.44,558 302.25,558 298.75,523.25 290.58,490.15 299.92,457.06" fill="#c5c5c5" filter="url(#b65)"/>
<ellipse cx="312.76" cy="475.97" rx="20.54" ry="20.8" fill="url(#r222)"/>
<ellipse cx="333.77" cy="480.7" rx="15.41" ry="20.8" fill="url(#r222)"/>
<ellipse cx="310.42" cy="504.34" rx="20.54" ry="20.8" fill="url(#r222)"/>
<ellipse cx="331.43" cy="516.16" rx="20.54" ry="20.8" fill="url(#r218)"/>
<ellipse cx="312.76" cy="426.33" rx="12.84" ry="18.2" fill="url(#r226)"/>
<ellipse cx="357.11" cy="426.8" rx="17.97" ry="13" fill="url(#r232)"/>
<ellipse cx="324.43" cy="550.44" rx="25.68" ry="20.8" fill="url(#r222)"/>
<ellipse cx="303.42" cy="461.79" rx="15.41" ry="15.6" fill="url(#r212)"/>
<ellipse cx="322.09" cy="490.15" rx="11.3" ry="19.76" fill="url(#r187)"/>
<ellipse cx="317.43" cy="447.6" rx="14.38" ry="19.76" fill="url(#r179)"/>
<ellipse cx="319.76" cy="525.61" rx="14.38" ry="19.76" fill="url(#r183)"/>
<ellipse cx="402.63" cy="493.7" rx="14.38" ry="18.2" fill="url(#r216)"/>
<ellipse cx="269.57" cy="477.15" rx="12.84" ry="9.36" fill="url(#r196)"/>
<ellipse cx="268.41" cy="492.52" rx="10.27" ry="10.4" fill="url(#r175)"/>
<ellipse cx="373.45" cy="480.7" rx="30.81" ry="98.81" fill="url(#r130)"/>
<ellipse cx="382.79" cy="490.15" rx="15.41" ry="20.8" fill="url(#r106)"/>
<ellipse cx="368.78" cy="457.06" rx="20.54" ry="20.8" fill="url(#r110)"/>
<ellipse cx="371.12" cy="435.78" rx="12.84" ry="13" fill="url(#r102)"/>
<ellipse cx="385.12" cy="454.7" rx="9.24" ry="23.4" fill="url(#r163)"/>
<ellipse cx="385.12" cy="525.61" rx="15.41" ry="26" fill="url(#r167)"/>
<ellipse cx="364.11" cy="550.44" rx="9.24" ry="15.6" fill="url(#r208)"/>
<ellipse cx="394.46" cy="510.25" rx="10.27" ry="6.24" fill="url(#r187)"/>
<ellipse cx="282.41" cy="464.15" rx="20.54" ry="31.2" fill="url(#r126)"/>
<ellipse cx="280.08" cy="516.16" rx="20.54" ry="36.4" fill="url(#r130)"/>
<ellipse cx="283.58" cy="486.61" rx="19.51" ry="19.76" fill="url(#r159)"/>
<ellipse cx="347.77" cy="535.07" rx="16.43" ry="26" fill="url(#r171)"/>
<ellipse cx="383.95" cy="527.98" rx="23.11" ry="31.2" fill="url(#r159)"/>
</g></g></g>
<rect x="254.4" y="421.6" width="159.9" height="136.4" fill="none" stroke="#1a1a1a" stroke-width="0.6"/>
<path d="M261.23 558 v1.1 M261.23 421.6 v-1.1 M273.41 558 v1.8 M273.41 421.6 v-1.8 M285.6 558 v1.1 M285.6 421.6 v-1.1 M297.79 558 v1.1 M297.79 421.6 v-1.1 M309.98 558 v1.1 M309.98 421.6 v-1.1 M322.16 558 v1.1 M322.16 421.6 v-1.1 M334.35 558 v1.8 M334.35 421.6 v-1.8 M346.54 558 v1.1 M346.54 421.6 v-1.1 M358.73 558 v1.1 M358.73 421.6 v-1.1 M370.91 558 v1.1 M370.91 421.6 v-1.1 M383.1 558 v1.1 M383.1 421.6 v-1.1 M395.29 558 v1.8 M395.29 421.6 v-1.8 M407.48 558 v1.1 M407.48 421.6 v-1.1 M254.4 550.3 h-1.8 M414.3 550.3 h1.8 M254.4 538.45 h-1.1 M414.3 538.45 h1.1 M254.4 526.6 h-1.1 M414.3 526.6 h1.1 M254.4 514.75 h-1.1 M414.3 514.75 h1.1 M254.4 502.89 h-1.1 M414.3 502.89 h1.1 M254.4 491.04 h-1.8 M414.3 491.04 h1.8 M254.4 479.19 h-1.1 M414.3 479.19 h1.1 M254.4 467.34 h-1.1 M414.3 467.34 h1.1 M254.4 455.49 h-1.1 M414.3 455.49 h1.1 M254.4 443.64 h-1.1 M414.3 443.64 h1.1 M254.4 431.79 h-1.8 M414.3 431.79 h1.8" stroke="#111" stroke-width="0.7" fill="none"/>
<text x="273.41" y="570.2" font-size="8.6" font-family='"Liberation Sans", sans-serif' text-anchor="middle" fill="#1a1a1a">-0.5</text>
<text x="250.2" y="553.4" font-size="8.6" font-family='"Liberation Sans", sans-serif' text-anchor="end" fill="#1a1a1a">-0.5</text>
<text x="334.35" y="570.2" font-size="8.6" font-family='"Liberation Sans", sans-serif' text-anchor="middle" fill="#1a1a1a">0</text>
<text x="250.2" y="494.14" font-size="8.6" font-family='"Liberation Sans", sans-serif' text-anchor="end" fill="#1a1a1a">0</text>
<text x="395.29" y="570.2" font-size="8.6" font-family='"Liberation Sans", sans-serif' text-anchor="middle" fill="#1a1a1a">0.5</text>
<text x="250.2" y="434.89" font-size="8.6" font-family='"Liberation Sans", sans-serif' text-anchor="end" fill="#1a1a1a">0.5</text>
<rect x="419.2" y="421.6" width="11.5" height="136.4" fill="url(#cb)" stroke="#222" stroke-width="0.6"/>
<text x="433.7" y="560.9" font-size="7.8" font-family='"Liberation Sans", sans-serif' fill="#1a1a1a">0</text>
<text x="433.7" y="539.11" font-size="7.8" font-family='"Liberation Sans", sans-serif' fill="#1a1a1a">0.5</text>
<text x="433.7" y="517.32" font-size="7.8" font-family='"Liberation Sans", sans-serif' fill="#1a1a1a">1</text>
<text x="433.7" y="495.53" font-size="7.8" font-family='"Liberation Sans", sans-serif' fill="#1a1a1a">1.5</text>
<text x="433.7" y="473.74" font-size="7.8" font-family='"Liberation Sans", sans-serif' fill="#1a1a1a">2</text>
<text x="433.7" y="451.95" font-size="7.8" font-family='"Liberation Sans", sans-serif' fill="#1a1a1a">2.5</text>
<text x="433.7" y="430.17" font-size="7.8" font-family='"Liberation Sans", sans-serif' fill="#1a1a1a">3</text>
<path d="M430.7 536.21 h-1.6 M430.7 514.42 h-1.6 M430.7 492.63 h-1.6 M430.7 470.84 h-1.6 M430.7 449.05 h-1.6 M430.7 427.27 h-1.6" stroke="#111" stroke-width="0.7" fill="none"/>
<g id="hd3">
<g clip-path="url(#pnd3)"><g filter="url(#jet)">
<rect x="480.7" y="417.6" width="167.6" height="144.2" fill="#000"/>
<g clip-path="url(#hxd3)">
<rect x="484.7" y="421.6" width="159.6" height="136.2" fill="#646464"/>
<polygon points="527.8,431.04 581.39,431.04 590.71,490.05 581.39,547.89 527.8,547.89 513.82,490.05" fill="#8a8a8a" filter="url(#b75)"/>
<ellipse cx="540.62" cy="471.17" rx="20.5" ry="25.97" fill="url(#r155)"/>
<ellipse cx="538.29" cy="518.38" rx="20.5" ry="25.97" fill="url(#r155)"/>
<ellipse cx="570.91" cy="490.05" rx="20.5" ry="31.16" fill="url(#r152)"/>
<ellipse cx="566.25" cy="464.09" rx="15.38" ry="20.77" fill="url(#r146)"/>
<ellipse cx="615.18" cy="457.01" rx="15.38" ry="20.77" fill="url(#r119)"/>
<ellipse cx="624.5" cy="516.02" rx="15.38" ry="15.58" fill="url(#r119)"/>
<ellipse cx="632.65" cy="487.69" rx="14.35" ry="31.16" fill="url(#r156)"/>
<ellipse cx="633.35" cy="486.51" rx="6.66" ry="21.81" fill="url(#r202)" transform="rotate(-15 633.35 486.51)"/>
<ellipse cx="527.8" cy="424.43" rx="9.23" ry="7.79" fill="url(#r181)"/>
<ellipse cx="531.3" cy="558.51" rx="12.81" ry="6.23" fill="url(#r156)"/>
<ellipse cx="495.18" cy="491.23" rx="15.38" ry="12.98" fill="url(#r78)"/>
<ellipse cx="611.68" cy="491.23" rx="12.81" ry="15.58" fill="url(#r78)"/>
<ellipse cx="594.21" cy="523.1" rx="20.5" ry="31.16" fill="url(#r78)"/>
<ellipse cx="512.66" cy="457.01" rx="12.81" ry="25.97" fill="url(#r86)"/>
<ellipse cx="589.55" cy="438.12" rx="25.63" ry="20.77" fill="url(#r90)"/>
<ellipse cx="523.14" cy="539.62" rx="15.38" ry="15.58" fill="url(#r86)"/>
<ellipse cx="596.54" cy="541.98" rx="10.25" ry="15.58" fill="url(#r82)"/>
<ellipse cx="582.56" cy="551.43" rx="7.69" ry="7.79" fill="url(#r78)"/>
<ellipse cx="554.6" cy="449.93" rx="15.38" ry="15.58" fill="url(#r111)"/>
</g></g></g>
<rect x="484.7" y="421.6" width="159.6" height="136.2" fill="none" stroke="#1a1a1a" stroke-width="0.6"/>
<path d="M491.51 557.8 v1.1 M491.51 421.6 v-1.1 M503.68 557.8 v1.8 M503.68 421.6 v-1.8 M515.84 557.8 v1.1 M515.84 421.6 v-1.1 M528.01 557.8 v1.1 M528.01 421.6 v-1.1 M540.17 557.8 v1.1 M540.17 421.6 v-1.1 M552.34 557.8 v1.1 M552.34 421.6 v-1.1 M564.5 557.8 v1.8 M564.5 421.6 v-1.8 M576.66 557.8 v1.1 M576.66 421.6 v-1.1 M588.83 557.8 v1.1 M588.83 421.6 v-1.1 M600.99 557.8 v1.1 M600.99 421.6 v-1.1 M613.16 557.8 v1.1 M613.16 421.6 v-1.1 M625.32 557.8 v1.8 M625.32 421.6 v-1.8 M637.49 557.8 v1.1 M637.49 421.6 v-1.1 M484.7 550.11 h-1.8 M644.3 550.11 h1.8 M484.7 538.28 h-1.1 M644.3 538.28 h1.1 M484.7 526.44 h-1.1 M644.3 526.44 h1.1 M484.7 514.61 h-1.1 M644.3 514.61 h1.1 M484.7 502.78 h-1.1 M644.3 502.78 h1.1 M484.7 490.94 h-1.8 M644.3 490.94 h1.8 M484.7 479.11 h-1.1 M644.3 479.11 h1.1 M484.7 467.28 h-1.1 M644.3 467.28 h1.1 M484.7 455.44 h-1.1 M644.3 455.44 h1.1 M484.7 443.61 h-1.1 M644.3 443.61 h1.1 M484.7 431.78 h-1.8 M644.3 431.78 h1.8" stroke="#111" stroke-width="0.7" fill="none"/>
<text x="503.68" y="570" font-size="8.6" font-family='"Liberation Sans", sans-serif' text-anchor="middle" fill="#1a1a1a">-0.5</text>
<text x="480.5" y="553.21" font-size="8.6" font-family='"Liberation Sans", sans-serif' text-anchor="end" fill="#1a1a1a">-0.5</text>
<text x="564.5" y="570" font-size="8.6" font-family='"Liberation Sans", sans-serif' text-anchor="middle" fill="#1a1a1a">0</text>
<text x="480.5" y="494.04" font-size="8.6" font-family='"Liberation Sans", sans-serif' text-anchor="end" fill="#1a1a1a">0</text>
<text x="625.32" y="570" font-size="8.6" font-family='"Liberation Sans", sans-serif' text-anchor="middle" fill="#1a1a1a">0.5</text>
<text x="480.5" y="434.88" font-size="8.6" font-family='"Liberation Sans", sans-serif' text-anchor="end" fill="#1a1a1a">0.5</text>
<rect x="649.2" y="421.6" width="11.5" height="136.2" fill="url(#cb)" stroke="#222" stroke-width="0.6"/>
<text x="663.7" y="560.7" font-size="7.8" font-family='"Liberation Sans", sans-serif' fill="#1a1a1a">0</text>
<text x="663.7" y="538.73" font-size="7.8" font-family='"Liberation Sans", sans-serif' fill="#1a1a1a">0.5</text>
<text x="663.7" y="516.76" font-size="7.8" font-family='"Liberation Sans", sans-serif' fill="#1a1a1a">1</text>
<text x="663.7" y="494.8" font-size="7.8" font-family='"Liberation Sans", sans-serif' fill="#1a1a1a">1.5</text>
<text x="663.7" y="472.83" font-size="7.8" font-family='"Liberation Sans", sans-serif' fill="#1a1a1a">2</text>
<text x="663.7" y="450.86" font-size="7.8" font-family='"Liberation Sans", sans-serif' fill="#1a1a1a">2.5</text>
<text x="663.7" y="428.89" font-size="7.8" font-family='"Liberation Sans", sans-serif' fill="#1a1a1a">3</text>
<path d="M660.7 535.83 h-1.6 M660.7 513.86 h-1.6 M660.7 491.9 h-1.6 M660.7 469.93 h-1.6 M660.7 447.96 h-1.6 M660.7 425.99 h-1.6" stroke="#111" stroke-width="0.7" fill="none"/>
<g id="he1">
<g clip-path="url(#pne1)"><g filter="url(#jet)">
<rect x="26.1" y="602.3" width="167.7" height="140.2" fill="#000"/>
<g clip-path="url(#hxe1)">
<rect x="30.1" y="606.3" width="159.7" height="132.2" fill="#737373"/>
<polygon points="83.72,606.3 118.69,606.3 125.69,640.67 137.34,672.74 125.69,704.82 121.02,738.5 83.72,738.5 74.4,704.82 55.75,672.74 74.4,640.67" fill="#9c9c9c" filter="url(#b60)"/>
<ellipse cx="112.86" cy="645.25" rx="12.82" ry="22.68" fill="url(#r176)"/>
<ellipse cx="112.86" cy="689.93" rx="12.82" ry="22.68" fill="url(#r176)"/>
<ellipse cx="80.22" cy="667.02" rx="14.36" ry="30.24" fill="url(#r166)" transform="rotate(20 80.22 667.02)"/>
<ellipse cx="84.89" cy="691.07" rx="10.26" ry="15.12" fill="url(#r166)"/>
<ellipse cx="98.88" cy="670.45" rx="16.93" ry="19.15" fill="url(#r132)"/>
<ellipse cx="97.71" cy="634.94" rx="15.39" ry="12.6" fill="url(#r128)"/>
<ellipse cx="97.71" cy="707.11" rx="15.39" ry="15.12" fill="url(#r128)"/>
<ellipse cx="100.04" cy="608.13" rx="17.95" ry="16.13" fill="url(#r183)"/>
<ellipse cx="133.85" cy="608.13" rx="15.39" ry="13.61" fill="url(#r188)"/>
<ellipse cx="100.04" cy="734.61" rx="15.39" ry="15.12" fill="url(#r188)"/>
<ellipse cx="136.18" cy="736.9" rx="15.39" ry="7.56" fill="url(#r156)"/>
<ellipse cx="162.99" cy="671.6" rx="38.47" ry="42.84" fill="url(#r95)"/>
<ellipse cx="164.15" cy="671.6" rx="20.52" ry="22.68" fill="url(#r66)"/>
<ellipse cx="59.24" cy="636.09" rx="17.95" ry="20.16" fill="url(#r82)"/>
<ellipse cx="58.08" cy="704.82" rx="17.95" ry="20.16" fill="url(#r90)"/>
<ellipse cx="37.09" cy="672.74" rx="12.82" ry="12.6" fill="url(#r82)"/>
<ellipse cx="139.68" cy="631.5" rx="19.49" ry="35.28" fill="url(#r95)"/>
<ellipse cx="138.51" cy="700.24" rx="15.39" ry="25.2" fill="url(#r90)"/>
<ellipse cx="174.65" cy="647.54" rx="20.52" ry="30.24" fill="url(#r123)"/>
<ellipse cx="172.31" cy="702.53" rx="20.52" ry="25.2" fill="url(#r119)"/>
</g></g></g>
<rect x="30.1" y="606.3" width="159.7" height="132.2" fill="none" stroke="#1a1a1a" stroke-width="0.6"/>
<path d="M36.92 738.5 v1.1 M36.92 606.3 v-1.1 M49.09 738.5 v1.8 M49.09 606.3 v-1.8 M61.26 738.5 v1.1 M61.26 606.3 v-1.1 M73.43 738.5 v1.1 M73.43 606.3 v-1.1 M85.61 738.5 v1.1 M85.61 606.3 v-1.1 M97.78 738.5 v1.1 M97.78 606.3 v-1.1 M109.95 738.5 v1.8 M109.95 606.3 v-1.8 M122.12 738.5 v1.1 M122.12 606.3 v-1.1 M134.29 738.5 v1.1 M134.29 606.3 v-1.1 M146.47 738.5 v1.1 M146.47 606.3 v-1.1 M158.64 738.5 v1.1 M158.64 606.3 v-1.1 M170.81 738.5 v1.8 M170.81 606.3 v-1.8 M182.98 738.5 v1.1 M182.98 606.3 v-1.1 M30.1 731.03 h-1.8 M189.8 731.03 h1.8 M30.1 719.55 h-1.1 M189.8 719.55 h1.1 M30.1 708.06 h-1.1 M189.8 708.06 h1.1 M30.1 696.58 h-1.1 M189.8 696.58 h1.1 M30.1 685.09 h-1.1 M189.8 685.09 h1.1 M30.1 673.61 h-1.8 M189.8 673.61 h1.8 M30.1 662.12 h-1.1 M189.8 662.12 h1.1 M30.1 650.63 h-1.1 M189.8 650.63 h1.1 M30.1 639.15 h-1.1 M189.8 639.15 h1.1 M30.1 627.66 h-1.1 M189.8 627.66 h1.1 M30.1 616.18 h-1.8 M189.8 616.18 h1.8" stroke="#111" stroke-width="0.7" fill="none"/>
<text x="49.09" y="750.7" font-size="8.6" font-family='"Liberation Sans", sans-serif' text-anchor="middle" fill="#1a1a1a">-0.5</text>
<text x="25.9" y="734.13" font-size="8.6" font-family='"Liberation Sans", sans-serif' text-anchor="end" fill="#1a1a1a">-0.5</text>
<text x="109.95" y="750.7" font-size="8.6" font-family='"Liberation Sans", sans-serif' text-anchor="middle" fill="#1a1a1a">0</text>
<text x="25.9" y="676.71" font-size="8.6" font-family='"Liberation Sans", sans-serif' text-anchor="end" fill="#1a1a1a">0</text>
<text x="170.81" y="750.7" font-size="8.6" font-family='"Liberation Sans", sans-serif' text-anchor="middle" fill="#1a1a1a">0.5</text>
<text x="25.9" y="619.28" font-size="8.6" font-family='"Liberation Sans", sans-serif' text-anchor="end" fill="#1a1a1a">0.5</text>
<rect x="194.9" y="606.3" width="11.3" height="132.2" fill="url(#cb)" stroke="#222" stroke-width="0.6"/>
<text x="209.2" y="741.4" font-size="7.8" font-family='"Liberation Sans", sans-serif' fill="#1a1a1a">0</text>
<text x="209.2" y="720.08" font-size="7.8" font-family='"Liberation Sans", sans-serif' fill="#1a1a1a">0.5</text>
<text x="209.2" y="698.75" font-size="7.8" font-family='"Liberation Sans", sans-serif' fill="#1a1a1a">1</text>
<text x="209.2" y="677.43" font-size="7.8" font-family='"Liberation Sans", sans-serif' fill="#1a1a1a">1.5</text>
<text x="209.2" y="656.11" font-size="7.8" font-family='"Liberation Sans", sans-serif' fill="#1a1a1a">2</text>
<text x="209.2" y="634.79" font-size="7.8" font-family='"Liberation Sans", sans-serif' fill="#1a1a1a">2.5</text>
<text x="209.2" y="613.46" font-size="7.8" font-family='"Liberation Sans", sans-serif' fill="#1a1a1a">3</text>
<path d="M206.2 717.18 h-1.6 M206.2 695.85 h-1.6 M206.2 674.53 h-1.6 M206.2 653.21 h-1.6 M206.2 631.89 h-1.6 M206.2 610.56 h-1.6" stroke="#111" stroke-width="0.7" fill="none"/>
<g id="he2">
<g clip-path="url(#pne2)"><g filter="url(#jet)">
<rect x="250.7" y="603.9" width="166.8" height="143.6" fill="#000"/>
<g clip-path="url(#hxe2)">
<rect x="254.7" y="607.9" width="158.8" height="135.6" fill="#969696"/>
<polygon points="298.75,607.9 343.95,607.9 346.27,645.5 362.5,676.05 348.59,708.95 346.27,743.5 298.75,743.5 294.11,708.95 275.56,676.05 294.11,645.5" fill="#c8c8c8" filter="url(#b55)"/>
<polygon points="298.75,656.08 342.79,656.08 357.86,676.05 342.79,699.55 298.75,699.55 281.36,676.05" fill="#d6d6d6" filter="url(#b55)"/>
<ellipse cx="283.68" cy="652.55" rx="22.95" ry="36.19" fill="url(#r161)"/>
<ellipse cx="283.68" cy="701.9" rx="22.95" ry="36.19" fill="url(#r161)"/>
<ellipse cx="312.66" cy="659.6" rx="20.4" ry="18.1" fill="url(#r225)"/>
<ellipse cx="333.52" cy="669" rx="20.4" ry="25.85" fill="url(#r221)"/>
<ellipse cx="312.66" cy="692.5" rx="22.95" ry="20.68" fill="url(#r225)"/>
<ellipse cx="284.84" cy="677.23" rx="12.75" ry="15.51" fill="url(#r220)"/>
<ellipse cx="317.29" cy="735.98" rx="20.4" ry="25.85" fill="url(#r225)"/>
<ellipse cx="314.97" cy="614.48" rx="25.5" ry="20.68" fill="url(#r211)"/>
<ellipse cx="331.2" cy="690.15" rx="20.4" ry="20.68" fill="url(#r217)"/>
<ellipse cx="316.13" cy="676.52" rx="11.22" ry="11.37" fill="url(#r195)"/>
<ellipse cx="317.29" cy="633.75" rx="15.3" ry="18.1" fill="url(#r192)"/>
<ellipse cx="377.57" cy="676.05" rx="12.75" ry="18.1" fill="url(#r124)"/>
<ellipse cx="359.02" cy="643.15" rx="17.85" ry="36.19" fill="url(#r143)"/>
<ellipse cx="356.7" cy="708.95" rx="17.85" ry="36.19" fill="url(#r144)"/>
<ellipse cx="379.89" cy="640.8" rx="11.22" ry="25.85" fill="url(#r166)"/>
<ellipse cx="379.89" cy="713.65" rx="15.3" ry="31.02" fill="url(#r166)"/>
<ellipse cx="396.11" cy="678.4" rx="12.75" ry="15.51" fill="url(#r177)"/>
<ellipse cx="268.61" cy="676.05" rx="17.85" ry="25.85" fill="url(#r148)"/>
<ellipse cx="347.43" cy="610.72" rx="20.4" ry="7.76" fill="url(#r180)"/>
<ellipse cx="352.07" cy="740.68" rx="10.2" ry="12.93" fill="url(#r180)"/>
</g></g></g>
<rect x="254.7" y="607.9" width="158.8" height="135.6" fill="none" stroke="#1a1a1a" stroke-width="0.6"/>
<path d="M261.48 743.5 v1.1 M261.48 607.9 v-1.1 M273.58 743.5 v1.8 M273.58 607.9 v-1.8 M285.69 743.5 v1.1 M285.69 607.9 v-1.1 M297.79 743.5 v1.1 M297.79 607.9 v-1.1 M309.89 743.5 v1.1 M309.89 607.9 v-1.1 M322 743.5 v1.1 M322 607.9 v-1.1 M334.1 743.5 v1.8 M334.1 607.9 v-1.8 M346.2 743.5 v1.1 M346.2 607.9 v-1.1 M358.31 743.5 v1.1 M358.31 607.9 v-1.1 M370.41 743.5 v1.1 M370.41 607.9 v-1.1 M382.51 743.5 v1.1 M382.51 607.9 v-1.1 M394.62 743.5 v1.8 M394.62 607.9 v-1.8 M406.72 743.5 v1.1 M406.72 607.9 v-1.1 M254.7 735.84 h-1.8 M413.5 735.84 h1.8 M254.7 724.06 h-1.1 M413.5 724.06 h1.1 M254.7 712.28 h-1.1 M413.5 712.28 h1.1 M254.7 700.5 h-1.1 M413.5 700.5 h1.1 M254.7 688.72 h-1.1 M413.5 688.72 h1.1 M254.7 676.94 h-1.8 M413.5 676.94 h1.8 M254.7 665.16 h-1.1 M413.5 665.16 h1.1 M254.7 653.37 h-1.1 M413.5 653.37 h1.1 M254.7 641.59 h-1.1 M413.5 641.59 h1.1 M254.7 629.81 h-1.1 M413.5 629.81 h1.1 M254.7 618.03 h-1.8 M413.5 618.03 h1.8" stroke="#111" stroke-width="0.7" fill="none"/>
<text x="273.58" y="755.7" font-size="8.6" font-family='"Liberation Sans", sans-serif' text-anchor="middle" fill="#1a1a1a">-0.5</text>
<text x="250.5" y="738.94" font-size="8.6" font-family='"Liberation Sans", sans-serif' text-anchor="end" fill="#1a1a1a">-0.5</text>
<text x="334.1" y="755.7" font-size="8.6" font-family='"Liberation Sans", sans-serif' text-anchor="middle" fill="#1a1a1a">0</text>
<text x="250.5" y="680.04" font-size="8.6" font-family='"Liberation Sans", sans-serif' text-anchor="end" fill="#1a1a1a">0</text>
<text x="394.62" y="755.7" font-size="8.6" font-family='"Liberation Sans", sans-serif' text-anchor="middle" fill="#1a1a1a">0.5</text>
<text x="250.5" y="621.13" font-size="8.6" font-family='"Liberation Sans", sans-serif' text-anchor="end" fill="#1a1a1a">0.5</text>
<rect x="418.2" y="607.9" width="11.8" height="135.6" fill="url(#cb)" stroke="#222" stroke-width="0.6"/>
<text x="433" y="746.4" font-size="7.8" font-family='"Liberation Sans", sans-serif' fill="#1a1a1a">0</text>
<text x="433" y="729.9" font-size="7.8" font-family='"Liberation Sans", sans-serif' fill="#1a1a1a">0.5</text>
<text x="433" y="713.41" font-size="7.8" font-family='"Liberation Sans", sans-serif' fill="#1a1a1a">1</text>
<text x="433" y="696.91" font-size="7.8" font-family='"Liberation Sans", sans-serif' fill="#1a1a1a">1.5</text>
<text x="433" y="680.41" font-size="7.8" font-family='"Liberation Sans", sans-serif' fill="#1a1a1a">2</text>
<text x="433" y="663.92" font-size="7.8" font-family='"Liberation Sans", sans-serif' fill="#1a1a1a">2.5</text>
<text x="433" y="647.42" font-size="7.8" font-family='"Liberation Sans", sans-serif' fill="#1a1a1a">3</text>
<text x="433" y="630.93" font-size="7.8" font-family='"Liberation Sans", sans-serif' fill="#1a1a1a">3.5</text>
<text x="433" y="614.43" font-size="7.8" font-family='"Liberation Sans", sans-serif' fill="#1a1a1a">4</text>
<path d="M430 727 h-1.6 M430 710.51 h-1.6 M430 694.01 h-1.6 M430 677.51 h-1.6 M430 661.02 h-1.6 M430 644.52 h-1.6 M430 628.03 h-1.6 M430 611.53 h-1.6" stroke="#111" stroke-width="0.7" fill="none"/>
<g id="he3">
<g clip-path="url(#pne3)"><g filter="url(#jet)">
<rect x="481" y="602" width="167.8" height="145.6" fill="#000"/>
<g clip-path="url(#hxe3)">
<rect x="485" y="606" width="159.8" height="137.6" fill="#777777"/>
<polygon points="525.82,627.46 585.31,627.46 594.64,675.16 582.98,732.39 525.82,732.39 512.99,675.16" fill="#9b9b9b" filter="url(#b75)"/>
<ellipse cx="510.66" cy="646.54" rx="17.96" ry="23.61" fill="url(#r95)"/>
<ellipse cx="499" cy="665.62" rx="12.83" ry="10.49" fill="url(#r90)"/>
<ellipse cx="517.66" cy="675.16" rx="10.26" ry="15.74" fill="url(#r99)"/>
<ellipse cx="596.98" cy="706.16" rx="30.79" ry="36.73" fill="url(#r99)"/>
<ellipse cx="608.64" cy="629.85" rx="10.26" ry="10.49" fill="url(#r107)"/>
<ellipse cx="622.64" cy="696.62" rx="12.83" ry="15.74" fill="url(#r103)"/>
<ellipse cx="578.31" cy="625.08" rx="10.26" ry="10.49" fill="url(#r107)"/>
<ellipse cx="539.12" cy="645.35" rx="9.24" ry="13.12" fill="url(#r183)"/>
<ellipse cx="568.98" cy="647.73" rx="11.29" ry="20.99" fill="url(#r173)" transform="rotate(25 568.98 647.73)"/>
<ellipse cx="570.15" cy="681.12" rx="14.37" ry="20.99" fill="url(#r169)" transform="rotate(25 570.15 681.12)"/>
<ellipse cx="539.82" cy="700.2" rx="15.4" ry="18.36" fill="url(#r187)"/>
<ellipse cx="540.99" cy="660.85" rx="12.83" ry="20.99" fill="url(#r165)"/>
<ellipse cx="547.52" cy="614.35" rx="4.62" ry="18.36" fill="url(#r189)"/>
<ellipse cx="600.94" cy="616.02" rx="9.24" ry="11.54" fill="url(#r206)"/>
<ellipse cx="630.1" cy="664.43" rx="7.19" ry="15.74" fill="url(#r193)"/>
<ellipse cx="631.97" cy="678.73" rx="7.19" ry="9.44" fill="url(#r193)"/>
<ellipse cx="511.36" cy="682.31" rx="4.11" ry="9.44" fill="url(#r181)"/>
<ellipse cx="552.65" cy="741.45" rx="6.16" ry="15.74" fill="url(#r177)"/>
<ellipse cx="559.65" cy="740.74" rx="5.13" ry="10.49" fill="url(#r165)"/>
<ellipse cx="600.48" cy="736.68" rx="6.16" ry="10.49" fill="url(#r165)"/>
<ellipse cx="492" cy="675.16" rx="11.29" ry="11.54" fill="url(#r78)"/>
<ellipse cx="599.31" cy="715.7" rx="20.53" ry="18.36" fill="url(#r82)"/>
<ellipse cx="612.84" cy="677.54" rx="6.16" ry="18.36" fill="url(#r82)"/>
<ellipse cx="531.66" cy="615.54" rx="7.7" ry="13.12" fill="url(#r86)"/>
<ellipse cx="521.16" cy="727.62" rx="10.26" ry="10.49" fill="url(#r86)"/>
<ellipse cx="508.33" cy="648.93" rx="15.4" ry="20.99" fill="url(#r99)"/>
<ellipse cx="594.64" cy="696.62" rx="12.83" ry="13.12" fill="url(#r95)"/>
<ellipse cx="596.98" cy="625.08" rx="10.26" ry="7.87" fill="url(#r95)"/>
<ellipse cx="582.98" cy="732.39" rx="15.4" ry="15.74" fill="url(#r99)"/>
</g></g></g>
<rect x="485" y="606" width="159.8" height="137.6" fill="none" stroke="#1a1a1a" stroke-width="0.6"/>
<path d="M491.82 743.6 v1.1 M491.82 606 v-1.1 M504 743.6 v1.8 M504 606 v-1.8 M516.18 743.6 v1.1 M516.18 606 v-1.1 M528.36 743.6 v1.1 M528.36 606 v-1.1 M540.54 743.6 v1.1 M540.54 606 v-1.1 M552.72 743.6 v1.1 M552.72 606 v-1.1 M564.9 743.6 v1.8 M564.9 606 v-1.8 M577.08 743.6 v1.1 M577.08 606 v-1.1 M589.26 743.6 v1.1 M589.26 606 v-1.1 M601.44 743.6 v1.1 M601.44 606 v-1.1 M613.62 743.6 v1.1 M613.62 606 v-1.1 M625.8 743.6 v1.8 M625.8 606 v-1.8 M637.98 743.6 v1.1 M637.98 606 v-1.1 M485 735.83 h-1.8 M644.8 735.83 h1.8 M485 723.87 h-1.1 M644.8 723.87 h1.1 M485 711.92 h-1.1 M644.8 711.92 h1.1 M485 699.96 h-1.1 M644.8 699.96 h1.1 M485 688.01 h-1.1 M644.8 688.01 h1.1 M485 676.06 h-1.8 M644.8 676.06 h1.8 M485 664.1 h-1.1 M644.8 664.1 h1.1 M485 652.15 h-1.1 M644.8 652.15 h1.1 M485 640.19 h-1.1 M644.8 640.19 h1.1 M485 628.24 h-1.1 M644.8 628.24 h1.1 M485 616.28 h-1.8 M644.8 616.28 h1.8" stroke="#111" stroke-width="0.7" fill="none"/>
<text x="504" y="755.8" font-size="8.6" font-family='"Liberation Sans", sans-serif' text-anchor="middle" fill="#1a1a1a">-0.5</text>
<text x="480.8" y="738.93" font-size="8.6" font-family='"Liberation Sans", sans-serif' text-anchor="end" fill="#1a1a1a">-0.5</text>
<text x="564.9" y="755.8" font-size="8.6" font-family='"Liberation Sans", sans-serif' text-anchor="middle" fill="#1a1a1a">0</text>
<text x="480.8" y="679.16" font-size="8.6" font-family='"Liberation Sans", sans-serif' text-anchor="end" fill="#1a1a1a">0</text>
<text x="625.8" y="755.8" font-size="8.6" font-family='"Liberation Sans", sans-serif' text-anchor="middle" fill="#1a1a1a">0.5</text>
<text x="480.8" y="619.38" font-size="8.6" font-family='"Liberation Sans", sans-serif' text-anchor="end" fill="#1a1a1a">0.5</text>
<rect x="649.6" y="606" width="11.7" height="137.6" fill="url(#cb)" stroke="#222" stroke-width="0.6"/>
<text x="664.3" y="746.5" font-size="7.8" font-family='"Liberation Sans", sans-serif' fill="#1a1a1a">0</text>
<text x="664.3" y="724.31" font-size="7.8" font-family='"Liberation Sans", sans-serif' fill="#1a1a1a">0.5</text>
<text x="664.3" y="702.11" font-size="7.8" font-family='"Liberation Sans", sans-serif' fill="#1a1a1a">1</text>
<text x="664.3" y="679.92" font-size="7.8" font-family='"Liberation Sans", sans-serif' fill="#1a1a1a">1.5</text>
<text x="664.3" y="657.73" font-size="7.8" font-family='"Liberation Sans", sans-serif' fill="#1a1a1a">2</text>
<text x="664.3" y="635.53" font-size="7.8" font-family='"Liberation Sans", sans-serif' fill="#1a1a1a">2.5</text>
<text x="664.3" y="613.34" font-size="7.8" font-family='"Liberation Sans", sans-serif' fill="#1a1a1a">3</text>
<path d="M661.3 721.41 h-1.6 M661.3 699.21 h-1.6 M661.3 677.02 h-1.6 M661.3 654.83 h-1.6 M661.3 632.63 h-1.6 M661.3 610.44 h-1.6" stroke="#111" stroke-width="0.7" fill="none"/>
<g id="hf1">
<g clip-path="url(#pnf1)"><g filter="url(#jet)">
<rect x="26.3" y="790.5" width="167" height="141.7" fill="#000"/>
<g clip-path="url(#hxf1)">
<rect x="30.3" y="794.5" width="159" height="133.7" fill="#888888"/>
<polygon points="80.21,794.5 120.83,794.5 123.15,826.94 133.59,861.7 123.15,896.45 119.66,928.2 80.21,928.2 74.4,896.45 54.67,861.7 75.56,826.94" fill="#bdbdbd" filter="url(#b40)"/>
<ellipse cx="111.54" cy="836.21" rx="14.3" ry="25.49" fill="url(#r210)"/>
<ellipse cx="111.54" cy="882.55" rx="14.3" ry="24.47" fill="url(#r210)"/>
<ellipse cx="81.37" cy="853.59" rx="15.32" ry="24.47" fill="url(#r206)" transform="rotate(20 81.37 853.59)"/>
<ellipse cx="83.69" cy="880.23" rx="14.3" ry="19.37" fill="url(#r206)"/>
<ellipse cx="98.77" cy="798.67" rx="16.34" ry="18.35" fill="url(#r216)"/>
<ellipse cx="97.61" cy="924.26" rx="16.34" ry="16.31" fill="url(#r216)"/>
<ellipse cx="131.27" cy="797.28" rx="15.32" ry="10.2" fill="url(#r197)"/>
<ellipse cx="132.43" cy="926.58" rx="17.87" ry="7.65" fill="url(#r181)"/>
<ellipse cx="97.61" cy="860.54" rx="16.34" ry="16.31" fill="url(#r181)"/>
<ellipse cx="96.45" cy="823.46" rx="14.3" ry="14.27" fill="url(#r177)"/>
<ellipse cx="96.45" cy="898.77" rx="14.3" ry="14.27" fill="url(#r177)"/>
<ellipse cx="161.45" cy="861.7" rx="35.75" ry="45.88" fill="url(#r128)"/>
<ellipse cx="162.61" cy="861.7" rx="18.38" ry="21.41" fill="url(#r103)"/>
<ellipse cx="156.8" cy="825.78" rx="12.77" ry="12.74" fill="url(#r156)"/>
<ellipse cx="156.8" cy="896.45" rx="12.77" ry="15.29" fill="url(#r156)"/>
<ellipse cx="139.39" cy="822.31" rx="17.87" ry="30.59" fill="url(#r132)"/>
<ellipse cx="139.39" cy="891.82" rx="15.32" ry="25.49" fill="url(#r132)"/>
<ellipse cx="59.31" cy="829.26" rx="20.43" ry="25.49" fill="url(#r123)"/>
<ellipse cx="58.15" cy="894.14" rx="20.43" ry="25.49" fill="url(#r128)"/>
<ellipse cx="39.58" cy="861.7" rx="12.77" ry="15.29" fill="url(#r128)"/>
</g></g></g>
<rect x="30.3" y="794.5" width="159" height="133.7" fill="none" stroke="#1a1a1a" stroke-width="0.6"/>
<path d="M37.09 928.2 v1.1 M37.09 794.5 v-1.1 M49.21 928.2 v1.8 M49.21 794.5 v-1.8 M61.32 928.2 v1.1 M61.32 794.5 v-1.1 M73.44 928.2 v1.1 M73.44 794.5 v-1.1 M85.56 928.2 v1.1 M85.56 794.5 v-1.1 M97.68 928.2 v1.1 M97.68 794.5 v-1.1 M109.8 928.2 v1.8 M109.8 794.5 v-1.8 M121.92 928.2 v1.1 M121.92 794.5 v-1.1 M134.04 928.2 v1.1 M134.04 794.5 v-1.1 M146.16 928.2 v1.1 M146.16 794.5 v-1.1 M158.28 928.2 v1.1 M158.28 794.5 v-1.1 M170.39 928.2 v1.8 M170.39 794.5 v-1.8 M182.51 928.2 v1.1 M182.51 794.5 v-1.1 M30.3 920.65 h-1.8 M189.3 920.65 h1.8 M30.3 909.03 h-1.1 M189.3 909.03 h1.1 M30.3 897.42 h-1.1 M189.3 897.42 h1.1 M30.3 885.8 h-1.1 M189.3 885.8 h1.1 M30.3 874.19 h-1.1 M189.3 874.19 h1.1 M30.3 862.57 h-1.8 M189.3 862.57 h1.8 M30.3 850.95 h-1.1 M189.3 850.95 h1.1 M30.3 839.34 h-1.1 M189.3 839.34 h1.1 M30.3 827.72 h-1.1 M189.3 827.72 h1.1 M30.3 816.11 h-1.1 M189.3 816.11 h1.1 M30.3 804.49 h-1.8 M189.3 804.49 h1.8" stroke="#111" stroke-width="0.7" fill="none"/>
<text x="49.21" y="940.4" font-size="8.6" font-family='"Liberation Sans", sans-serif' text-anchor="middle" fill="#1a1a1a">-0.5</text>
<text x="26.1" y="923.75" font-size="8.6" font-family='"Liberation Sans", sans-serif' text-anchor="end" fill="#1a1a1a">-0.5</text>
<text x="109.8" y="940.4" font-size="8.6" font-family='"Liberation Sans", sans-serif' text-anchor="middle" fill="#1a1a1a">0</text>
<text x="26.1" y="865.67" font-size="8.6" font-family='"Liberation Sans", sans-serif' text-anchor="end" fill="#1a1a1a">0</text>
<text x="170.39" y="940.4" font-size="8.6" font-family='"Liberation Sans", sans-serif' text-anchor="middle" fill="#1a1a1a">0.5</text>
<text x="26.1" y="807.59" font-size="8.6" font-family='"Liberation Sans", sans-serif' text-anchor="end" fill="#1a1a1a">0.5</text>
<rect x="194.9" y="794.5" width="11.5" height="133.7" fill="url(#cb)" stroke="#222" stroke-width="0.6"/>
<text x="209.4" y="931.1" font-size="7.8" font-family='"Liberation Sans", sans-serif' fill="#1a1a1a">0</text>
<text x="209.4" y="909.54" font-size="7.8" font-family='"Liberation Sans", sans-serif' fill="#1a1a1a">0.5</text>
<text x="209.4" y="887.97" font-size="7.8" font-family='"Liberation Sans", sans-serif' fill="#1a1a1a">1</text>
<text x="209.4" y="866.41" font-size="7.8" font-family='"Liberation Sans", sans-serif' fill="#1a1a1a">1.5</text>
<text x="209.4" y="844.84" font-size="7.8" font-family='"Liberation Sans", sans-serif' fill="#1a1a1a">2</text>
<text x="209.4" y="823.28" font-size="7.8" font-family='"Liberation Sans", sans-serif' fill="#1a1a1a">2.5</text>
<text x="209.4" y="801.71" font-size="7.8" font-family='"Liberation Sans", sans-serif' fill="#1a1a1a">3</text>
<path d="M206.4 906.64 h-1.6 M206.4 885.07 h-1.6 M206.4 863.51 h-1.6 M206.4 841.94 h-1.6 M206.4 820.38 h-1.6 M206.4 798.81 h-1.6" stroke="#111" stroke-width="0.7" fill="none"/>
<g id="hf2">
<g clip-path="url(#pnf2)"><g filter="url(#jet)">
<rect x="250.7" y="791" width="166.8" height="144.4" fill="#000"/>
<g clip-path="url(#hxf2)">
<rect x="254.7" y="795" width="158.8" height="136.4" fill="#a2a2a2"/>
<polygon points="297.59,795 347.43,795 345.11,830.46 360.18,863.55 347.43,896.65 345.11,931.4 297.59,931.4 288.31,896.65 270.93,863.55 288.31,830.46" fill="#c7c7c7" filter="url(#b60)"/>
<polygon points="305.7,835.19 338.16,835.19 349.75,863.55 338.16,891.92 305.7,891.92 283.68,863.55" fill="#dedede" filter="url(#b60)"/>
<ellipse cx="312.66" cy="849.37" rx="22.95" ry="18.2" fill="url(#r232)"/>
<ellipse cx="314.97" cy="883.65" rx="22.95" ry="18.2" fill="url(#r232)"/>
<ellipse cx="289.47" cy="864.74" rx="17.85" ry="20.8" fill="url(#r222)"/>
<ellipse cx="312.66" cy="919.11" rx="20.4" ry="26" fill="url(#r227)"/>
<ellipse cx="308.02" cy="804.46" rx="20.4" ry="20.8" fill="url(#r209)"/>
<ellipse cx="342.79" cy="865.92" rx="15.3" ry="15.6" fill="url(#r222)"/>
<ellipse cx="379.89" cy="825.73" rx="15.3" ry="20.8" fill="url(#r174)"/>
<ellipse cx="379.89" cy="899.01" rx="20.4" ry="31.2" fill="url(#r174)"/>
<ellipse cx="396.11" cy="865.92" rx="10.2" ry="15.6" fill="url(#r174)"/>
<ellipse cx="412.34" cy="863.55" rx="5.1" ry="15.6" fill="url(#r184)"/>
<ellipse cx="375.25" cy="863.55" rx="9.18" ry="15.6" fill="url(#r144)"/>
<ellipse cx="261.65" cy="864.74" rx="15.3" ry="15.6" fill="url(#r159)"/>
<ellipse cx="352.07" cy="928.56" rx="15.3" ry="15.6" fill="url(#r174)"/>
</g></g></g>
<rect x="254.7" y="795" width="158.8" height="136.4" fill="none" stroke="#1a1a1a" stroke-width="0.6"/>
<path d="M261.48 931.4 v1.1 M261.48 795 v-1.1 M273.58 931.4 v1.8 M273.58 795 v-1.8 M285.69 931.4 v1.1 M285.69 795 v-1.1 M297.79 931.4 v1.1 M297.79 795 v-1.1 M309.89 931.4 v1.1 M309.89 795 v-1.1 M322 931.4 v1.1 M322 795 v-1.1 M334.1 931.4 v1.8 M334.1 795 v-1.8 M346.2 931.4 v1.1 M346.2 795 v-1.1 M358.31 931.4 v1.1 M358.31 795 v-1.1 M370.41 931.4 v1.1 M370.41 795 v-1.1 M382.51 931.4 v1.1 M382.51 795 v-1.1 M394.62 931.4 v1.8 M394.62 795 v-1.8 M406.72 931.4 v1.1 M406.72 795 v-1.1 M254.7 923.7 h-1.8 M413.5 923.7 h1.8 M254.7 911.85 h-1.1 M413.5 911.85 h1.1 M254.7 900 h-1.1 M413.5 900 h1.1 M254.7 888.15 h-1.1 M413.5 888.15 h1.1 M254.7 876.29 h-1.1 M413.5 876.29 h1.1 M254.7 864.44 h-1.8 M413.5 864.44 h1.8 M254.7 852.59 h-1.1 M413.5 852.59 h1.1 M254.7 840.74 h-1.1 M413.5 840.74 h1.1 M254.7 828.89 h-1.1 M413.5 828.89 h1.1 M254.7 817.04 h-1.1 M413.5 817.04 h1.1 M254.7 805.19 h-1.8 M413.5 805.19 h1.8" stroke="#111" stroke-width="0.7" fill="none"/>
<text x="273.58" y="943.6" font-size="8.6" font-family='"Liberation Sans", sans-serif' text-anchor="middle" fill="#1a1a1a">-0.5</text>
<text x="250.5" y="926.8" font-size="8.6" font-family='"Liberation Sans", sans-serif' text-anchor="end" fill="#1a1a1a">-0.5</text>
<text x="334.1" y="943.6" font-size="8.6" font-family='"Liberation Sans", sans-serif' text-anchor="middle" fill="#1a1a1a">0</text>
<text x="250.5" y="867.54" font-size="8.6" font-family='"Liberation Sans", sans-serif' text-anchor="end" fill="#1a1a1a">0</text>
<text x="394.62" y="943.6" font-size="8.6" font-family='"Liberation Sans", sans-serif' text-anchor="middle" fill="#1a1a1a">0.5</text>
<text x="250.5" y="808.29" font-size="8.6" font-family='"Liberation Sans", sans-serif' text-anchor="end" fill="#1a1a1a">0.5</text>
<rect x="418" y="795" width="12" height="136.4" fill="url(#cb)" stroke="#222" stroke-width="0.6"/>
<text x="433" y="934.3" font-size="7.8" font-family='"Liberation Sans", sans-serif' fill="#1a1a1a">0</text>
<text x="433" y="907.66" font-size="7.8" font-family='"Liberation Sans", sans-serif' fill="#1a1a1a">1</text>
<text x="433" y="881.02" font-size="7.8" font-family='"Liberation Sans", sans-serif' fill="#1a1a1a">2</text>
<text x="433" y="854.38" font-size="7.8" font-family='"Liberation Sans", sans-serif' fill="#1a1a1a">3</text>
<text x="433" y="827.74" font-size="7.8" font-family='"Liberation Sans", sans-serif' fill="#1a1a1a">4</text>
<text x="433" y="801.1" font-size="7.8" font-family='"Liberation Sans", sans-serif' fill="#1a1a1a">5</text>
<path d="M430 904.76 h-1.6 M430 878.12 h-1.6 M430 851.48 h-1.6 M430 824.84 h-1.6 M430 798.2 h-1.6" stroke="#111" stroke-width="0.7" fill="none"/>
<g id="hf3">
<g clip-path="url(#pnf3)"><g filter="url(#jet)">
<rect x="477.2" y="790.1" width="167.8" height="146.7" fill="#000"/>
<g clip-path="url(#hxf3)">
<rect x="481.2" y="794.1" width="159.8" height="138.7" fill="#9b9b9b"/>
<polygon points="524.36,794.1 560.52,794.1 581.51,825.35 595.51,863.81 574.51,890.25 569.85,914.29 562.85,932.8 531.36,932.8 519.69,895.06 519.69,863.81 520.86,830.16" fill="#c6c6c6" filter="url(#b65)"/>
<ellipse cx="546.52" cy="820.54" rx="15.4" ry="15.87" fill="url(#r172)"/>
<ellipse cx="551.19" cy="863.81" rx="12.83" ry="13.22" fill="url(#r188)"/>
<ellipse cx="555.85" cy="899.87" rx="20.53" ry="15.87" fill="url(#r180)"/>
<ellipse cx="539.52" cy="914.29" rx="10.26" ry="10.58" fill="url(#r172)"/>
<ellipse cx="615.34" cy="842.18" rx="12.83" ry="37.02" fill="url(#r188)" transform="rotate(-30 615.34 842.18)"/>
<ellipse cx="537.19" cy="887.85" rx="17.96" ry="18.51" fill="url(#r229)"/>
<ellipse cx="536.02" cy="849.39" rx="17.96" ry="21.15" fill="url(#r221)"/>
<ellipse cx="562.85" cy="834.96" rx="23.1" ry="26.44" fill="url(#r217)"/>
<ellipse cx="574.51" cy="861.41" rx="23.1" ry="18.51" fill="url(#r217)"/>
<ellipse cx="530.19" cy="806.12" rx="5.13" ry="18.51" fill="url(#r221)"/>
<ellipse cx="539.52" cy="803.72" rx="5.13" ry="21.15" fill="url(#r237)"/>
<ellipse cx="592.01" cy="800.11" rx="11.29" ry="9.52" fill="url(#r233)"/>
<ellipse cx="547.69" cy="929.92" rx="15.4" ry="15.87" fill="url(#r229)"/>
<ellipse cx="527.86" cy="878.23" rx="15.4" ry="15.87" fill="url(#r212)"/>
<ellipse cx="558.18" cy="873.43" rx="20.53" ry="21.15" fill="url(#r212)"/>
<ellipse cx="614.17" cy="832.56" rx="20.53" ry="26.44" fill="url(#r188)"/>
<ellipse cx="624.67" cy="854.2" rx="10.26" ry="18.51" fill="url(#r200)"/>
<ellipse cx="630.5" cy="871.02" rx="7.7" ry="10.58" fill="url(#r196)"/>
<ellipse cx="602.51" cy="875.83" rx="30.79" ry="31.73" fill="url(#r135)"/>
<ellipse cx="583.85" cy="890.25" rx="20.53" ry="21.15" fill="url(#r131)"/>
<ellipse cx="595.51" cy="899.87" rx="23.1" ry="23.8" fill="url(#r106)"/>
<ellipse cx="499.86" cy="844.58" rx="20.53" ry="26.44" fill="url(#r119)"/>
<ellipse cx="495.2" cy="856.6" rx="15.4" ry="15.87" fill="url(#r110)"/>
<ellipse cx="607.17" cy="923.91" rx="10.26" ry="15.87" fill="url(#r114)"/>
<ellipse cx="518.53" cy="916.69" rx="10.26" ry="15.87" fill="url(#r127)"/>
<ellipse cx="587.34" cy="810.45" rx="8.21" ry="8.46" fill="url(#r127)"/>
<ellipse cx="602.51" cy="811.41" rx="8.21" ry="6.35" fill="url(#r131)"/>
<ellipse cx="558.18" cy="798.43" rx="30.79" ry="9.52" fill="url(#r208)"/>
<ellipse cx="610.67" cy="837.37" rx="23.1" ry="37.02" fill="url(#r188)"/>
<ellipse cx="621.17" cy="859" rx="15.4" ry="21.15" fill="url(#r192)"/>
<ellipse cx="504.53" cy="895.06" rx="15.4" ry="21.15" fill="url(#r139)"/>
<ellipse cx="498.7" cy="877.03" rx="10.26" ry="7.93" fill="url(#r196)"/>
<ellipse cx="511.53" cy="856.6" rx="10.26" ry="10.58" fill="url(#r188)"/>
<ellipse cx="595.51" cy="923.91" rx="4.11" ry="7.93" fill="url(#r196)"/>
<ellipse cx="525.52" cy="919.1" rx="10.26" ry="7.93" fill="url(#r196)"/>
<ellipse cx="610.67" cy="907.08" rx="5.13" ry="10.58" fill="url(#r180)"/>
</g></g></g>
<rect x="481.2" y="794.1" width="159.8" height="138.7" fill="none" stroke="#1a1a1a" stroke-width="0.6"/>
<path d="M488.02 932.8 v1.1 M488.02 794.1 v-1.1 M500.2 932.8 v1.8 M500.2 794.1 v-1.8 M512.38 932.8 v1.1 M512.38 794.1 v-1.1 M524.56 932.8 v1.1 M524.56 794.1 v-1.1 M536.74 932.8 v1.1 M536.74 794.1 v-1.1 M548.92 932.8 v1.1 M548.92 794.1 v-1.1 M561.1 932.8 v1.8 M561.1 794.1 v-1.8 M573.28 932.8 v1.1 M573.28 794.1 v-1.1 M585.46 932.8 v1.1 M585.46 794.1 v-1.1 M597.64 932.8 v1.1 M597.64 794.1 v-1.1 M609.82 932.8 v1.1 M609.82 794.1 v-1.1 M622 932.8 v1.8 M622 794.1 v-1.8 M634.18 932.8 v1.1 M634.18 794.1 v-1.1 M481.2 924.97 h-1.8 M641 924.97 h1.8 M481.2 912.92 h-1.1 M641 912.92 h1.1 M481.2 900.87 h-1.1 M641 900.87 h1.1 M481.2 888.82 h-1.1 M641 888.82 h1.1 M481.2 876.77 h-1.1 M641 876.77 h1.1 M481.2 864.72 h-1.8 M641 864.72 h1.8 M481.2 852.66 h-1.1 M641 852.66 h1.1 M481.2 840.61 h-1.1 M641 840.61 h1.1 M481.2 828.56 h-1.1 M641 828.56 h1.1 M481.2 816.51 h-1.1 M641 816.51 h1.1 M481.2 804.46 h-1.8 M641 804.46 h1.8" stroke="#111" stroke-width="0.7" fill="none"/>
<text x="500.2" y="945" font-size="8.6" font-family='"Liberation Sans", sans-serif' text-anchor="middle" fill="#1a1a1a">-0.5</text>
<text x="477" y="928.07" font-size="8.6" font-family='"Liberation Sans", sans-serif' text-anchor="end" fill="#1a1a1a">-0.5</text>
<text x="561.1" y="945" font-size="8.6" font-family='"Liberation Sans", sans-serif' text-anchor="middle" fill="#1a1a1a">0</text>
<text x="477" y="867.82" font-size="8.6" font-family='"Liberation Sans", sans-serif' text-anchor="end" fill="#1a1a1a">0</text>
<text x="622" y="945" font-size="8.6" font-family='"Liberation Sans", sans-serif' text-anchor="middle" fill="#1a1a1a">0.5</text>
<text x="477" y="807.56" font-size="8.6" font-family='"Liberation Sans", sans-serif' text-anchor="end" fill="#1a1a1a">0.5</text>
<rect x="645.8" y="794.1" width="12" height="138.7" fill="url(#cb)" stroke="#222" stroke-width="0.6"/>
<text x="660.8" y="935.7" font-size="7.8" font-family='"Liberation Sans", sans-serif' fill="#1a1a1a">0</text>
<text x="660.8" y="913.47" font-size="7.8" font-family='"Liberation Sans", sans-serif' fill="#1a1a1a">0.5</text>
<text x="660.8" y="891.24" font-size="7.8" font-family='"Liberation Sans", sans-serif' fill="#1a1a1a">1</text>
<text x="660.8" y="869.02" font-size="7.8" font-family='"Liberation Sans", sans-serif' fill="#1a1a1a">1.5</text>
<text x="660.8" y="846.79" font-size="7.8" font-family='"Liberation Sans", sans-serif' fill="#1a1a1a">2</text>
<text x="660.8" y="824.56" font-size="7.8" font-family='"Liberation Sans", sans-serif' fill="#1a1a1a">2.5</text>
<text x="660.8" y="802.33" font-size="7.8" font-family='"Liberation Sans", sans-serif' fill="#1a1a1a">3</text>
<path d="M657.8 910.57 h-1.6 M657.8 888.34 h-1.6 M657.8 866.12 h-1.6 M657.8 843.89 h-1.6 M657.8 821.66 h-1.6 M657.8 799.43 h-1.6" stroke="#111" stroke-width="0.7" fill="none"/>
<text x="98.6" y="237.9" font-size="8" font-weight="bold" font-family='"Liberation Serif", serif' textLength="29.8" lengthAdjust="spacingAndGlyphs">t = t<tspan font-size="6" dy="2.2">g</tspan><tspan dy="-2.2"> - T</tspan></text>
<text x="203.4" y="242.4" font-size="8" font-family='"Liberation Sans", sans-serif' fill="#222" textLength="19.6" lengthAdjust="spacingAndGlyphs">×10<tspan font-size="6.4" dy="-3.2">-3</tspan></text>
<text x="9.4" y="329.1" font-size="9.4" font-family='"Liberation Serif", serif' textLength="30.3" lengthAdjust="spacingAndGlyphs" transform="rotate(-90 9.4 329.1)">K<tspan font-size="6.6" dy="2.6">y</tspan><tspan dy="-2.6"> [2π/a]</tspan></text>
<text x="5" y="235.1" font-size="8" font-family='"Liberation Serif", serif' textLength="9.2" lengthAdjust="spacingAndGlyphs">(c)</text>
<text x="21.7" y="235.1" font-size="8" font-weight="bold" font-family='"Liberation Serif", serif' textLength="39.4" lengthAdjust="spacingAndGlyphs">λ = 2.0 <tspan font-style="italic">μ</tspan>m</text>
<text x="330.1" y="232.6" font-size="8" font-weight="bold" font-family='"Liberation Serif", serif' textLength="17.8" lengthAdjust="spacingAndGlyphs">t = t<tspan font-size="6" dy="2.2">g</tspan></text>
<text x="432.2" y="242.5" font-size="8" font-family='"Liberation Sans", sans-serif' fill="#222" textLength="19.6" lengthAdjust="spacingAndGlyphs">×10<tspan font-size="6.4" dy="-3.2">-3</tspan></text>
<text x="549" y="234.8" font-size="8" font-weight="bold" font-family='"Liberation Serif", serif' textLength="32" lengthAdjust="spacingAndGlyphs">t = t<tspan font-size="6" dy="2.2">g</tspan><tspan dy="-2.2"> + T</tspan></text>
<text x="660.5" y="243.5" font-size="8" font-family='"Liberation Sans", sans-serif' fill="#222" textLength="19.6" lengthAdjust="spacingAndGlyphs">×10<tspan font-size="6.4" dy="-3.2">-3</tspan></text>
<text x="684.1" y="359.4" font-size="8.7" font-family='"Liberation Serif", serif' textLength="90" lengthAdjust="spacingAndGlyphs" transform="rotate(-90 684.1 359.4)">Number of excited electrons</text>
<text x="96.3" y="412.5" font-size="8" font-weight="bold" font-family='"Liberation Serif", serif' textLength="29.8" lengthAdjust="spacingAndGlyphs">t = t<tspan font-size="6" dy="2.2">g</tspan><tspan dy="-2.2"> - T</tspan></text>
<text x="204.3" y="417.8" font-size="8" font-family='"Liberation Sans", sans-serif' fill="#222" textLength="19.6" lengthAdjust="spacingAndGlyphs">×10<tspan font-size="6.4" dy="-3.2">-3</tspan></text>
<text x="9.5" y="504.4" font-size="9.4" font-family='"Liberation Serif", serif' textLength="30.3" lengthAdjust="spacingAndGlyphs" transform="rotate(-90 9.5 504.4)">K<tspan font-size="6.6" dy="2.6">y</tspan><tspan dy="-2.6"> [2π/a]</tspan></text>
<text x="4.4" y="409.9" font-size="8" font-family='"Liberation Serif", serif' textLength="9.2" lengthAdjust="spacingAndGlyphs">(d)</text>
<text x="21" y="409.9" font-size="8" font-weight="bold" font-family='"Liberation Serif", serif' textLength="39.4" lengthAdjust="spacingAndGlyphs">λ = 2.5 <tspan font-style="italic">μ</tspan>m</text>
<text x="329.9" y="410.8" font-size="8" font-weight="bold" font-family='"Liberation Serif", serif' textLength="17.8" lengthAdjust="spacingAndGlyphs">t = t<tspan font-size="6" dy="2.2">g</tspan></text>
<text x="430.8" y="417.9" font-size="8" font-family='"Liberation Sans", sans-serif' fill="#222" textLength="19.6" lengthAdjust="spacingAndGlyphs">×10<tspan font-size="6.4" dy="-3.2">-3</tspan></text>
<text x="557.7" y="412" font-size="8" font-weight="bold" font-family='"Liberation Serif", serif' textLength="32" lengthAdjust="spacingAndGlyphs">t = t<tspan font-size="6" dy="2.2">g</tspan><tspan dy="-2.2"> + T</tspan></text>
<text x="661.2" y="417.9" font-size="8" font-family='"Liberation Sans", sans-serif' fill="#222" textLength="19.6" lengthAdjust="spacingAndGlyphs">×10<tspan font-size="6.4" dy="-3.2">-3</tspan></text>
<text x="684.8" y="535.2" font-size="8.7" font-family='"Liberation Serif", serif' textLength="90" lengthAdjust="spacingAndGlyphs" transform="rotate(-90 684.8 535.2)">Number of excited electrons</text>
<text x="102.7" y="595.5" font-size="8" font-weight="bold" font-family='"Liberation Serif", serif' textLength="29.8" lengthAdjust="spacingAndGlyphs">t = t<tspan font-size="6" dy="2.2">g</tspan><tspan dy="-2.2"> - T</tspan></text>
<text x="206.8" y="601.9" font-size="8" font-family='"Liberation Sans", sans-serif' fill="#222" textLength="19.6" lengthAdjust="spacingAndGlyphs">×10<tspan font-size="6.4" dy="-3.2">-3</tspan></text>
<text x="11.5" y="688" font-size="9.4" font-family='"Liberation Serif", serif' textLength="30.3" lengthAdjust="spacingAndGlyphs" transform="rotate(-90 11.5 688)">K<tspan font-size="6.6" dy="2.6">y</tspan><tspan dy="-2.6"> [2π/a]</tspan></text>
<text x="9.1" y="593.8" font-size="8" font-family='"Liberation Serif", serif' textLength="9.2" lengthAdjust="spacingAndGlyphs">(e)</text>
<text x="26.4" y="593.8" font-size="8" font-weight="bold" font-family='"Liberation Serif", serif' textLength="39.4" lengthAdjust="spacingAndGlyphs">λ = 3.0 <tspan font-style="italic">μ</tspan>m</text>
<text x="329.2" y="595.5" font-size="8" font-weight="bold" font-family='"Liberation Serif", serif' textLength="17.8" lengthAdjust="spacingAndGlyphs">t = t<tspan font-size="6" dy="2.2">g</tspan></text>
<text x="430.3" y="603.5" font-size="8" font-family='"Liberation Sans", sans-serif' fill="#222" textLength="19.6" lengthAdjust="spacingAndGlyphs">×10<tspan font-size="6.4" dy="-3.2">-3</tspan></text>
<text x="556.1" y="593.2" font-size="8" font-weight="bold" font-family='"Liberation Serif", serif' textLength="32" lengthAdjust="spacingAndGlyphs">t = t<tspan font-size="6" dy="2.2">g</tspan><tspan dy="-2.2"> + T</tspan></text>
<text x="661.6" y="600.7" font-size="8" font-family='"Liberation Sans", sans-serif' fill="#222" textLength="19.6" lengthAdjust="spacingAndGlyphs">×10<tspan font-size="6.4" dy="-3.2">-3</tspan></text>
<text x="685.4" y="720.3" font-size="8.7" font-family='"Liberation Serif", serif' textLength="90" lengthAdjust="spacingAndGlyphs" transform="rotate(-90 685.4 720.3)">Number of excited electrons</text>
<text x="96.5" y="782.7" font-size="8" font-weight="bold" font-family='"Liberation Serif", serif' textLength="29.8" lengthAdjust="spacingAndGlyphs">t = t<tspan font-size="6" dy="2.2">g</tspan><tspan dy="-2.2"> - T</tspan></text>
<text x="206.7" y="790.6" font-size="8" font-family='"Liberation Sans", sans-serif' fill="#222" textLength="19.6" lengthAdjust="spacingAndGlyphs">×10<tspan font-size="6.4" dy="-3.2">-3</tspan></text>
<text x="11.7" y="876.95" font-size="9.4" font-family='"Liberation Serif", serif' textLength="30.3" lengthAdjust="spacingAndGlyphs" transform="rotate(-90 11.7 876.95)">K<tspan font-size="6.6" dy="2.6">y</tspan><tspan dy="-2.6"> [2π/a]</tspan></text>
<text x="-0.3" y="780.7" font-size="8" font-family='"Liberation Serif", serif' textLength="9.2" lengthAdjust="spacingAndGlyphs">(f)</text>
<text x="16.3" y="780.7" font-size="8" font-weight="bold" font-family='"Liberation Serif", serif' textLength="39.4" lengthAdjust="spacingAndGlyphs">λ = 3.5 <tspan font-style="italic">μ</tspan>m</text>
<text x="93.3" y="951.6" font-size="8.2" font-family='"Liberation Serif", serif' textLength="33.5" lengthAdjust="spacingAndGlyphs">K<tspan font-size="5.8" dy="2.2">x</tspan><tspan dy="-2.2"> [2π/a]</tspan></text>
<text x="325.2" y="781.5" font-size="8" font-weight="bold" font-family='"Liberation Serif", serif' textLength="17.8" lengthAdjust="spacingAndGlyphs">t = t<tspan font-size="6" dy="2.2">g</tspan></text>
<text x="430.8" y="790.9" font-size="8" font-family='"Liberation Sans", sans-serif' fill="#222" textLength="19.6" lengthAdjust="spacingAndGlyphs">×10<tspan font-size="6.4" dy="-3.2">-3</tspan></text>
<text x="317.6" y="954.8" font-size="8.2" font-family='"Liberation Serif", serif' textLength="33.5" lengthAdjust="spacingAndGlyphs">K<tspan font-size="5.8" dy="2.2">x</tspan><tspan dy="-2.2"> [2π/a]</tspan></text>
<text x="547.2" y="781.5" font-size="8" font-weight="bold" font-family='"Liberation Serif", serif' textLength="32" lengthAdjust="spacingAndGlyphs">t = t<tspan font-size="6" dy="2.2">g</tspan><tspan dy="-2.2"> + T</tspan></text>
<text x="658.1" y="790.9" font-size="8" font-family='"Liberation Sans", sans-serif' fill="#222" textLength="19.6" lengthAdjust="spacingAndGlyphs">×10<tspan font-size="6.4" dy="-3.2">-3</tspan></text>
<text x="681.9" y="908.95" font-size="8.7" font-family='"Liberation Serif", serif' textLength="90" lengthAdjust="spacingAndGlyphs" transform="rotate(-90 681.9 908.95)">Number of excited electrons</text>
<text x="544.6" y="956.2" font-size="8.2" font-family='"Liberation Serif", serif' textLength="33.5" lengthAdjust="spacingAndGlyphs">K<tspan font-size="5.8" dy="2.2">x</tspan><tspan dy="-2.2"> [2π/a]</tspan></text>
</svg></body></html>
